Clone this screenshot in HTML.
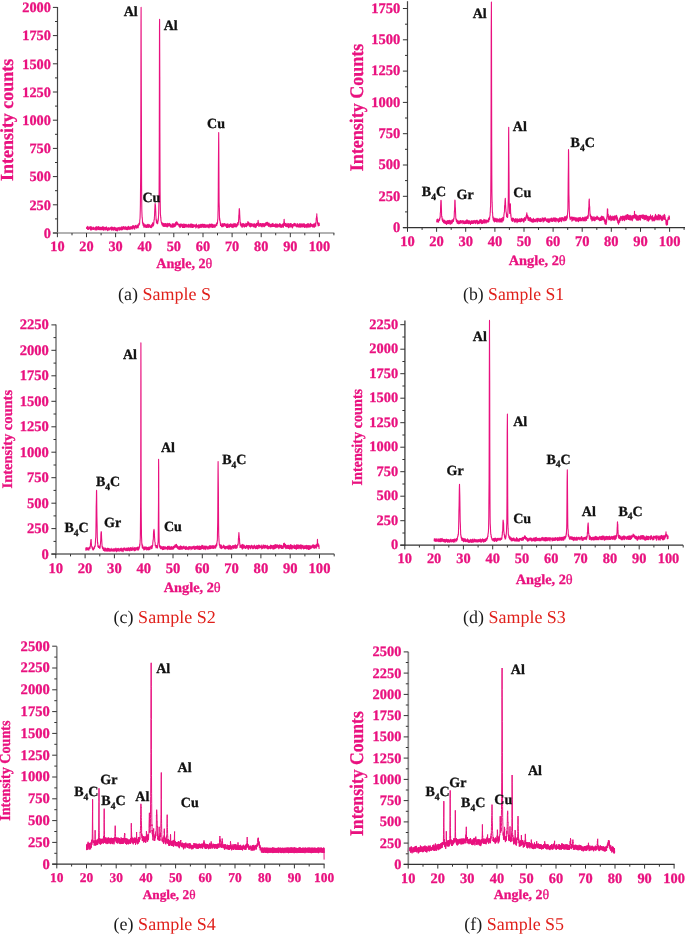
<!DOCTYPE html>
<html><head><meta charset="utf-8"><title>XRD patterns</title>
<style>
html,body{margin:0;padding:0;background:#fff}
svg{display:block;font-family:"Liberation Serif","Times New Roman",serif;text-rendering:geometricPrecision}
</style></head><body>
<svg width="685" height="935" viewBox="0 0 685 935">
<rect width="685" height="935" fill="#fff"/>
<polyline points="86.5,227.1 86.6,228.5 86.7,227.7 86.9,227.3 87.0,227.1 87.1,228.4 87.2,228.4 87.3,227.5 87.4,226.9 87.6,229.2 87.7,226.2 87.8,228.1 87.9,229.4 88.0,228.7 88.1,229.0 88.3,229.0 88.4,228.8 88.5,229.5 88.6,227.5 88.7,229.3 88.8,229.0 89.0,228.5 89.1,226.8 89.2,228.8 89.3,228.9 89.4,228.3 89.5,228.2 89.7,228.2 89.8,227.4 89.9,228.5 90.0,227.5 90.1,227.4 90.2,228.2 90.4,227.2 90.5,228.4 90.6,229.9 90.7,226.5 90.8,227.8 90.9,228.2 91.1,226.7 91.2,227.1 91.3,229.4 91.4,228.7 91.5,229.0 91.6,227.3 91.7,229.9 91.9,227.0 92.0,227.9 92.1,228.3 92.2,228.9 92.3,228.0 92.4,229.1 92.6,228.9 92.7,228.9 92.8,228.3 92.9,228.8 93.0,229.5 93.1,228.1 93.3,227.2 93.4,227.5 93.5,227.9 93.6,229.4 93.7,227.3 93.8,229.0 94.0,228.5 94.1,229.3 94.2,229.0 94.3,228.6 94.4,228.6 94.5,228.5 94.7,228.5 94.8,229.2 94.9,227.9 95.0,228.7 95.1,229.8 95.2,230.1 95.4,229.4 95.5,227.4 95.6,229.2 95.7,227.1 95.8,229.3 95.9,228.2 96.1,229.4 96.2,228.1 96.3,226.9 96.4,227.1 96.5,229.1 96.6,226.7 96.8,229.0 96.9,230.1 97.0,227.4 97.1,227.0 97.2,227.4 97.3,227.1 97.5,229.0 97.6,229.3 97.7,228.9 97.8,229.3 97.9,228.7 98.0,228.0 98.2,227.1 98.3,229.5 98.4,226.5 98.5,227.1 98.6,227.7 98.7,227.1 98.9,226.9 99.0,227.7 99.1,229.8 99.2,228.1 99.3,227.3 99.4,229.4 99.6,227.4 99.7,229.2 99.8,227.6 99.9,228.2 100.0,229.3 100.1,228.2 100.2,229.7 100.4,227.2 100.5,228.8 100.6,228.4 100.7,228.4 100.8,229.7 100.9,227.3 101.1,228.3 101.2,229.0 101.3,227.6 101.4,227.9 101.5,229.8 101.6,229.7 101.8,228.8 101.9,229.2 102.0,229.2 102.1,229.5 102.2,226.7 102.3,227.3 102.5,228.8 102.6,229.6 102.7,227.6 102.8,226.7 102.9,229.0 103.0,229.2 103.2,230.1 103.3,226.7 103.4,229.8 103.5,227.0 103.6,228.1 103.7,229.2 103.9,228.7 104.0,230.1 104.1,229.3 104.2,227.9 104.3,228.0 104.4,228.9 104.6,229.0 104.7,227.4 104.8,228.9 104.9,228.3 105.0,228.0 105.1,229.2 105.3,229.8 105.4,229.9 105.5,228.2 105.6,228.7 105.7,227.2 105.8,227.3 106.0,229.5 106.1,227.3 106.2,226.8 106.3,229.6 106.4,228.6 106.5,227.2 106.7,229.7 106.8,229.2 106.9,227.3 107.0,227.4 107.1,228.2 107.2,229.1 107.4,230.1 107.5,229.7 107.6,230.6 107.7,228.5 107.8,228.6 107.9,228.9 108.1,229.3 108.2,228.3 108.3,228.9 108.4,229.2 108.5,229.9 108.6,227.6 108.8,228.8 108.9,229.7 109.0,230.2 109.1,228.4 109.2,229.1 109.3,229.8 109.4,229.2 109.6,229.5 109.7,228.8 109.8,229.2 109.9,228.4 110.0,228.7 110.1,227.5 110.3,227.3 110.4,228.9 110.5,228.9 110.6,228.3 110.7,227.8 110.8,227.9 111.0,229.8 111.1,229.6 111.2,227.9 111.3,229.9 111.4,229.2 111.5,229.0 111.7,230.2 111.8,226.9 111.9,229.2 112.0,227.5 112.1,227.8 112.2,227.6 112.4,229.1 112.5,227.8 112.6,227.8 112.7,229.1 112.8,229.9 112.9,227.2 113.1,228.2 113.2,228.9 113.3,229.3 113.4,227.7 113.5,228.6 113.6,230.1 113.8,227.7 113.9,229.9 114.0,229.7 114.1,228.4 114.2,227.8 114.3,227.4 114.5,228.3 114.6,227.3 114.7,228.9 114.8,229.6 114.9,229.8 115.0,227.6 115.2,228.2 115.3,227.6 115.4,228.6 115.5,229.3 115.6,228.8 115.7,230.5 115.9,229.7 116.0,229.2 116.1,228.8 116.2,228.6 116.3,230.7 116.4,229.6 116.6,228.1 116.7,229.3 116.8,227.8 116.9,229.1 117.0,229.4 117.1,230.5 117.3,229.8 117.4,230.9 117.5,229.6 117.6,227.8 117.7,227.9 117.8,228.4 117.9,228.9 118.1,228.6 118.2,228.7 118.3,228.7 118.4,227.5 118.5,227.9 118.6,229.0 118.8,229.6 118.9,228.7 119.0,230.3 119.1,229.0 119.2,230.4 119.3,229.4 119.5,229.5 119.6,228.8 119.7,227.4 119.8,228.2 119.9,228.5 120.0,227.5 120.2,229.2 120.3,228.0 120.4,228.4 120.5,229.6 120.6,228.0 120.7,229.3 120.9,228.5 121.0,229.8 121.1,227.4 121.2,229.1 121.3,226.9 121.4,230.0 121.6,227.6 121.7,229.0 121.8,228.0 121.9,228.2 122.0,229.7 122.1,227.0 122.3,227.6 122.4,228.4 122.5,229.7 122.6,228.7 122.7,227.1 122.8,227.3 123.0,228.4 123.1,227.7 123.2,229.0 123.3,227.5 123.4,226.6 123.5,227.3 123.7,226.9 123.8,228.2 123.9,226.8 124.0,229.1 124.1,228.0 124.2,229.1 124.4,228.9 124.5,227.7 124.6,229.1 124.7,227.9 124.8,227.0 124.9,227.3 125.1,227.0 125.2,228.0 125.3,226.6 125.4,227.5 125.5,229.1 125.6,229.1 125.8,227.5 125.9,229.0 126.0,227.9 126.1,229.1 126.2,229.5 126.3,228.8 126.4,229.3 126.6,227.5 126.7,227.1 126.8,227.6 126.9,228.8 127.0,228.2 127.1,229.7 127.3,227.8 127.4,228.3 127.5,228.0 127.6,229.6 127.7,229.2 127.8,226.7 128.0,227.5 128.1,227.1 128.2,228.8 128.3,226.7 128.4,226.7 128.5,226.3 128.7,226.4 128.8,227.6 128.9,229.5 129.0,227.4 129.1,228.0 129.2,227.0 129.4,227.5 129.5,229.0 129.6,229.2 129.7,228.1 129.8,228.9 129.9,227.0 130.1,228.3 130.2,228.3 130.3,228.5 130.4,228.1 130.5,227.2 130.6,229.3 130.8,226.5 130.9,227.4 131.0,227.6 131.1,226.7 131.2,228.9 131.3,228.3 131.5,228.3 131.6,227.5 131.7,226.8 131.8,227.8 131.9,227.9 132.0,226.4 132.2,228.7 132.3,226.2 132.4,229.0 132.5,225.8 132.6,226.4 132.7,226.1 132.9,226.0 133.0,226.8 133.1,227.2 133.2,225.6 133.3,226.4 133.4,228.0 133.6,227.5 133.7,227.4 133.8,228.1 133.9,228.3 134.0,225.9 134.1,228.5 134.3,229.2 134.4,228.7 134.5,228.7 134.6,228.2 134.7,228.9 134.8,229.0 134.9,228.3 135.1,226.2 135.2,226.0 135.3,226.3 135.4,226.8 135.5,225.4 135.6,225.9 135.8,226.6 135.9,225.7 136.0,225.7 136.1,227.5 136.2,225.8 136.3,226.7 136.5,227.2 136.6,226.3 136.7,228.3 136.8,227.6 136.9,227.4 137.0,227.9 137.2,227.3 137.3,224.7 137.4,226.4 137.5,226.6 137.6,226.5 137.7,226.5 137.9,226.2 138.0,226.4 138.1,225.8 138.2,227.6 138.3,225.9 138.4,225.4 138.6,225.9 138.7,224.4 138.8,224.5 138.9,223.3 139.0,224.9 139.1,225.0 139.3,223.2 139.4,223.8 139.5,224.3 139.6,224.0 139.7,222.3 139.8,219.9 140.0,219.1 140.1,216.4 140.2,213.2 140.3,209.5 140.4,204.6 140.5,192.2 140.7,173.1 140.8,136.6 140.9,85.3 141.0,26.4 141.1,7.4 141.2,52.9 141.4,114.4 141.5,158.2 141.6,185.7 141.7,199.1 141.8,209.2 141.9,212.3 142.1,217.1 142.2,218.0 142.3,218.4 142.4,219.7 142.5,223.0 142.6,223.2 142.8,222.8 142.9,222.1 143.0,225.0 143.1,225.4 143.2,224.2 143.3,223.3 143.4,225.5 143.6,225.3 143.7,226.3 143.8,225.5 143.9,227.3 144.0,223.9 144.1,223.9 144.3,225.8 144.4,224.5 144.5,226.2 144.6,225.0 144.7,226.9 144.8,225.6 145.0,226.2 145.1,226.2 145.2,227.0 145.3,225.4 145.4,226.5 145.5,226.0 145.7,227.1 145.8,224.6 145.9,227.5 146.0,226.9 146.1,225.3 146.2,225.3 146.4,227.1 146.5,227.4 146.6,227.4 146.7,225.8 146.8,225.5 146.9,227.3 147.1,224.9 147.2,226.2 147.3,226.6 147.4,225.6 147.5,225.3 147.6,224.3 147.8,226.0 147.9,227.4 148.0,226.8 148.1,225.0 148.2,227.4 148.3,225.3 148.5,226.7 148.6,227.3 148.7,226.1 148.8,224.4 148.9,225.4 149.0,226.9 149.2,224.8 149.3,226.7 149.4,224.9 149.5,226.0 149.6,225.4 149.7,225.8 149.9,226.2 150.0,226.6 150.1,225.7 150.2,227.5 150.3,227.1 150.4,226.3 150.6,226.9 150.7,226.0 150.8,227.5 150.9,226.4 151.0,225.9 151.1,225.0 151.3,227.6 151.4,226.9 151.5,224.7 151.6,227.2 151.7,224.6 151.8,224.6 151.9,227.0 152.1,224.1 152.2,226.7 152.3,224.8 152.4,224.2 152.5,224.4 152.6,222.9 152.8,223.9 152.9,223.4 153.0,224.5 153.1,224.5 153.2,223.1 153.3,226.0 153.5,224.2 153.6,225.1 153.7,224.6 153.8,222.6 153.9,222.6 154.0,220.2 154.2,219.5 154.3,219.7 154.4,216.8 154.5,216.4 154.6,214.6 154.7,211.6 154.9,207.7 155.0,205.0 155.1,203.6 155.2,203.8 155.3,204.8 155.4,205.2 155.6,208.0 155.7,210.5 155.8,212.2 155.9,215.5 156.0,217.5 156.1,220.3 156.3,219.2 156.4,222.6 156.5,220.9 156.6,220.3 156.7,221.6 156.8,222.4 157.0,222.7 157.1,223.7 157.2,223.2 157.3,221.7 157.4,221.8 157.5,223.8 157.7,223.6 157.8,220.7 157.9,220.7 158.0,221.9 158.1,218.8 158.2,220.9 158.4,219.1 158.5,216.2 158.6,215.7 158.7,212.0 158.8,207.4 158.9,202.6 159.1,191.3 159.2,166.8 159.3,132.3 159.4,78.1 159.5,27.3 159.6,19.4 159.8,76.8 159.9,131.9 160.0,167.9 160.1,190.9 160.2,201.9 160.3,207.2 160.4,213.8 160.6,215.6 160.7,217.7 160.8,217.1 160.9,218.9 161.0,220.8 161.1,221.0 161.3,222.1 161.4,222.5 161.5,222.9 161.6,223.5 161.7,222.3 161.8,223.2 162.0,224.9 162.1,224.9 162.2,224.3 162.3,225.2 162.4,225.1 162.5,223.1 162.7,224.6 162.8,223.2 162.9,225.1 163.0,225.9 163.1,224.0 163.2,226.4 163.4,224.3 163.5,224.8 163.6,226.3 163.7,225.5 163.8,224.4 163.9,223.2 164.1,226.0 164.2,224.1 164.3,226.4 164.4,223.7 164.5,225.5 164.6,223.7 164.8,224.2 164.9,226.1 165.0,225.5 165.1,223.8 165.2,225.9 165.3,223.7 165.5,226.1 165.6,225.2 165.7,224.2 165.8,223.6 165.9,226.4 166.0,224.2 166.2,226.3 166.3,226.1 166.4,225.2 166.5,225.0 166.6,224.9 166.7,223.7 166.9,224.0 167.0,224.6 167.1,227.0 167.2,224.4 167.3,225.4 167.4,226.6 167.6,224.9 167.7,223.4 167.8,224.3 167.9,226.6 168.0,223.9 168.1,225.0 168.3,225.2 168.4,226.0 168.5,223.8 168.6,224.2 168.7,224.9 168.8,223.7 168.9,223.6 169.1,225.7 169.2,223.2 169.3,223.8 169.4,224.7 169.5,224.0 169.6,224.1 169.8,225.7 169.9,223.9 170.0,225.5 170.1,226.3 170.2,226.7 170.3,226.6 170.5,224.8 170.6,226.0 170.7,224.4 170.8,227.1 170.9,225.7 171.0,225.9 171.2,225.8 171.3,225.4 171.4,225.8 171.5,226.1 171.6,226.1 171.7,227.1 171.9,226.4 172.0,226.8 172.1,226.4 172.2,224.3 172.3,223.5 172.4,226.6 172.6,226.9 172.7,226.5 172.8,224.4 172.9,225.7 173.0,227.4 173.1,226.3 173.3,226.5 173.4,226.0 173.5,225.9 173.6,224.3 173.7,225.6 173.8,223.6 174.0,226.7 174.1,224.3 174.2,226.2 174.3,224.5 174.4,226.8 174.5,224.1 174.7,226.5 174.8,224.1 174.9,225.6 175.0,226.4 175.1,226.3 175.2,225.8 175.4,226.0 175.5,224.8 175.6,222.5 175.7,222.6 175.8,225.7 175.9,224.7 176.1,223.5 176.2,224.4 176.3,221.8 176.4,223.5 176.5,223.1 176.6,223.0 176.8,222.1 176.9,222.0 177.0,223.3 177.1,222.7 177.2,224.7 177.3,222.9 177.4,223.0 177.6,222.9 177.7,224.6 177.8,223.4 177.9,223.2 178.0,223.9 178.1,224.4 178.3,224.4 178.4,224.9 178.5,225.1 178.6,224.2 178.7,225.3 178.8,224.7 179.0,226.4 179.1,225.4 179.2,224.2 179.3,226.3 179.4,224.4 179.5,224.9 179.7,225.9 179.8,225.4 179.9,227.6 180.0,224.7 180.1,227.2 180.2,226.3 180.4,224.8 180.5,227.1 180.6,224.3 180.7,225.3 180.8,223.9 180.9,224.9 181.1,224.7 181.2,225.9 181.3,224.8 181.4,226.0 181.5,225.5 181.6,225.5 181.8,226.4 181.9,224.1 182.0,225.4 182.1,226.9 182.2,227.2 182.3,224.2 182.5,227.5 182.6,225.6 182.7,225.6 182.8,227.4 182.9,224.7 183.0,225.6 183.2,225.5 183.3,226.2 183.4,227.4 183.5,226.4 183.6,225.5 183.7,224.2 183.9,223.9 184.0,226.8 184.1,227.4 184.2,225.8 184.3,224.5 184.4,224.3 184.6,227.3 184.7,225.0 184.8,227.4 184.9,225.7 185.0,227.5 185.1,226.7 185.3,225.5 185.4,226.4 185.5,224.3 185.6,226.4 185.7,226.4 185.8,226.2 185.9,225.2 186.1,224.8 186.2,224.3 186.3,226.9 186.4,226.7 186.5,224.9 186.6,226.6 186.8,226.3 186.9,225.0 187.0,225.5 187.1,225.1 187.2,227.0 187.3,226.3 187.5,226.3 187.6,226.5 187.7,227.0 187.8,226.1 187.9,225.6 188.0,225.0 188.2,224.5 188.3,226.8 188.4,224.6 188.5,225.0 188.6,227.2 188.7,224.2 188.9,225.3 189.0,224.2 189.1,226.0 189.2,226.2 189.3,225.9 189.4,226.8 189.6,225.5 189.7,226.7 189.8,226.0 189.9,227.3 190.0,225.6 190.1,227.0 190.3,224.4 190.4,225.6 190.5,224.2 190.6,224.6 190.7,227.1 190.8,224.0 191.0,224.6 191.1,223.9 191.2,225.4 191.3,224.3 191.4,225.3 191.5,227.1 191.7,224.5 191.8,225.4 191.9,224.2 192.0,224.6 192.1,226.2 192.2,227.4 192.4,224.3 192.5,227.1 192.6,227.1 192.7,227.4 192.8,226.6 192.9,224.5 193.1,225.5 193.2,225.7 193.3,224.5 193.4,226.0 193.5,226.6 193.6,227.1 193.8,225.1 193.9,227.0 194.0,226.2 194.1,225.2 194.2,225.0 194.3,225.1 194.4,226.8 194.6,224.8 194.7,225.1 194.8,226.3 194.9,225.8 195.0,226.2 195.1,225.6 195.3,226.4 195.4,224.9 195.5,226.1 195.6,225.3 195.7,226.9 195.8,228.0 196.0,224.8 196.1,227.5 196.2,226.4 196.3,224.5 196.4,225.8 196.5,224.1 196.7,227.3 196.8,225.7 196.9,226.0 197.0,225.2 197.1,225.7 197.2,225.5 197.4,226.5 197.5,225.8 197.6,226.7 197.7,226.6 197.8,226.8 197.9,225.7 198.1,227.9 198.2,225.8 198.3,224.8 198.4,225.2 198.5,228.0 198.6,226.2 198.8,227.7 198.9,226.2 199.0,224.9 199.1,226.1 199.2,226.7 199.3,227.7 199.5,227.3 199.6,226.5 199.7,225.7 199.8,224.8 199.9,227.8 200.0,226.8 200.2,225.3 200.3,225.9 200.4,226.5 200.5,226.3 200.6,226.5 200.7,224.2 200.9,225.7 201.0,226.2 201.1,227.4 201.2,225.7 201.3,224.8 201.4,226.6 201.6,224.3 201.7,227.2 201.8,225.4 201.9,225.5 202.0,226.5 202.1,224.9 202.3,227.0 202.4,226.0 202.5,226.0 202.6,224.7 202.7,224.1 202.8,225.9 203.0,225.3 203.1,226.9 203.2,225.0 203.3,225.9 203.4,224.5 203.5,227.0 203.6,224.6 203.8,227.5 203.9,224.4 204.0,225.9 204.1,225.8 204.2,226.2 204.3,225.7 204.5,227.2 204.6,225.2 204.7,226.2 204.8,225.5 204.9,224.4 205.0,227.2 205.2,226.9 205.3,226.6 205.4,227.4 205.5,225.2 205.6,226.7 205.7,225.3 205.9,227.3 206.0,226.5 206.1,226.1 206.2,225.2 206.3,224.7 206.4,225.7 206.6,227.0 206.7,226.5 206.8,226.8 206.9,227.3 207.0,227.3 207.1,225.4 207.3,224.9 207.4,224.7 207.5,226.8 207.6,225.8 207.7,226.3 207.8,226.6 208.0,227.2 208.1,225.9 208.2,227.2 208.3,224.8 208.4,225.6 208.5,226.8 208.7,227.7 208.8,225.6 208.9,227.0 209.0,227.9 209.1,226.5 209.2,225.1 209.4,224.0 209.5,225.9 209.6,225.7 209.7,224.5 209.8,224.8 209.9,224.5 210.1,227.0 210.2,225.5 210.3,227.1 210.4,224.7 210.5,224.9 210.6,226.2 210.8,226.7 210.9,225.7 211.0,224.0 211.1,225.1 211.2,226.5 211.3,224.2 211.5,226.0 211.6,225.2 211.7,224.0 211.8,224.1 211.9,227.4 212.0,224.7 212.1,226.9 212.3,224.7 212.4,227.4 212.5,225.3 212.6,224.2 212.7,225.6 212.8,227.3 213.0,225.2 213.1,226.1 213.2,227.0 213.3,227.1 213.4,225.1 213.5,225.7 213.7,227.3 213.8,224.9 213.9,226.0 214.0,224.8 214.1,225.4 214.2,225.1 214.4,225.0 214.5,227.1 214.6,225.8 214.7,225.3 214.8,226.7 214.9,224.8 215.1,227.1 215.2,226.6 215.3,227.0 215.4,226.5 215.5,225.1 215.6,225.7 215.8,225.3 215.9,224.8 216.0,224.7 216.1,225.3 216.2,224.7 216.3,223.9 216.5,224.4 216.6,223.2 216.7,225.7 216.8,222.7 216.9,225.0 217.0,223.1 217.2,223.5 217.3,222.2 217.4,222.8 217.5,223.4 217.6,220.6 217.7,219.9 217.9,218.4 218.0,212.4 218.1,210.0 218.2,201.4 218.3,185.7 218.4,167.0 218.6,143.1 218.7,132.6 218.8,143.7 218.9,165.9 219.0,187.8 219.1,201.9 219.3,208.0 219.4,215.2 219.5,217.1 219.6,220.2 219.7,218.4 219.8,219.5 220.0,220.6 220.1,222.3 220.2,222.4 220.3,221.7 220.4,223.4 220.5,225.4 220.6,223.4 220.8,223.5 220.9,223.4 221.0,223.4 221.1,224.6 221.2,224.7 221.3,224.8 221.5,226.5 221.6,226.8 221.7,225.0 221.8,226.5 221.9,226.1 222.0,225.5 222.2,224.5 222.3,226.6 222.4,225.2 222.5,226.2 222.6,223.5 222.7,225.5 222.9,225.0 223.0,226.6 223.1,224.4 223.2,223.9 223.3,225.4 223.4,225.6 223.6,224.0 223.7,226.0 223.8,223.7 223.9,226.2 224.0,226.2 224.1,223.7 224.3,225.0 224.4,223.6 224.5,223.9 224.6,224.0 224.7,224.4 224.8,223.7 225.0,224.4 225.1,224.3 225.2,225.4 225.3,224.1 225.4,225.0 225.5,225.5 225.7,225.5 225.8,225.2 225.9,226.5 226.0,225.3 226.1,224.0 226.2,226.0 226.4,224.7 226.5,227.2 226.6,227.5 226.7,225.7 226.8,226.7 226.9,226.5 227.1,224.2 227.2,226.3 227.3,224.3 227.4,223.7 227.5,227.4 227.6,225.1 227.8,226.5 227.9,225.1 228.0,226.5 228.1,225.6 228.2,227.1 228.3,225.7 228.5,225.1 228.6,225.0 228.7,226.2 228.8,224.1 228.9,226.8 229.0,227.2 229.1,227.2 229.3,226.2 229.4,225.4 229.5,224.6 229.6,227.2 229.7,227.1 229.8,226.1 230.0,225.1 230.1,226.4 230.2,225.9 230.3,226.1 230.4,223.9 230.5,224.3 230.7,226.5 230.8,226.1 230.9,225.1 231.0,223.8 231.1,225.8 231.2,224.1 231.4,226.5 231.5,224.5 231.6,226.5 231.7,225.3 231.8,226.3 231.9,227.4 232.1,225.6 232.2,224.8 232.3,224.0 232.4,225.7 232.5,226.6 232.6,226.7 232.8,226.9 232.9,226.7 233.0,227.7 233.1,224.9 233.2,227.1 233.3,225.8 233.5,224.4 233.6,226.5 233.7,224.9 233.8,224.2 233.9,223.4 234.0,226.9 234.2,224.1 234.3,223.5 234.4,226.7 234.5,226.4 234.6,225.0 234.7,226.4 234.9,226.0 235.0,225.1 235.1,225.0 235.2,226.1 235.3,225.6 235.4,223.7 235.6,226.7 235.7,225.8 235.8,223.8 235.9,224.2 236.0,224.1 236.1,227.1 236.3,225.9 236.4,225.9 236.5,226.5 236.6,224.6 236.7,226.4 236.8,224.7 237.0,224.7 237.1,225.8 237.2,226.0 237.3,223.2 237.4,223.4 237.5,223.3 237.6,224.2 237.8,225.2 237.9,222.8 238.0,222.6 238.1,222.2 238.2,224.7 238.3,222.8 238.5,222.3 238.6,219.5 238.7,219.8 238.8,215.7 238.9,215.0 239.0,214.2 239.2,209.5 239.3,208.5 239.4,209.5 239.5,209.7 239.6,211.6 239.7,214.2 239.9,218.3 240.0,219.8 240.1,222.4 240.2,221.7 240.3,224.9 240.4,223.0 240.6,222.9 240.7,222.7 240.8,225.2 240.9,226.0 241.0,224.2 241.1,223.9 241.3,226.1 241.4,224.3 241.5,225.1 241.6,224.3 241.7,224.1 241.8,224.0 242.0,227.1 242.1,226.0 242.2,225.2 242.3,227.2 242.4,224.4 242.5,226.0 242.7,223.6 242.8,224.9 242.9,225.5 243.0,225.4 243.1,226.2 243.2,224.4 243.4,226.2 243.5,223.5 243.6,224.6 243.7,223.8 243.8,224.8 243.9,225.2 244.1,226.3 244.2,227.2 244.3,224.0 244.4,225.4 244.5,224.2 244.6,225.6 244.8,226.7 244.9,225.8 245.0,225.7 245.1,225.1 245.2,226.5 245.3,224.5 245.5,224.7 245.6,224.8 245.7,226.1 245.8,223.4 245.9,224.2 246.0,224.1 246.1,226.5 246.3,226.1 246.4,226.2 246.5,224.1 246.6,226.7 246.7,223.9 246.8,225.6 247.0,223.2 247.1,223.3 247.2,225.6 247.3,223.1 247.4,224.5 247.5,223.2 247.7,224.6 247.8,225.1 247.9,221.5 248.0,224.5 248.1,223.4 248.2,222.3 248.4,222.5 248.5,224.9 248.6,224.5 248.7,222.9 248.8,222.4 248.9,224.7 249.1,224.5 249.2,224.5 249.3,226.1 249.4,225.3 249.5,224.8 249.6,224.1 249.8,223.5 249.9,223.5 250.0,223.7 250.1,223.2 250.2,226.2 250.3,227.0 250.5,224.3 250.6,225.4 250.7,223.7 250.8,223.9 250.9,226.7 251.0,225.5 251.2,225.8 251.3,224.2 251.4,224.1 251.5,225.5 251.6,223.5 251.7,224.8 251.9,224.8 252.0,226.1 252.1,224.5 252.2,224.6 252.3,225.2 252.4,224.3 252.6,224.4 252.7,224.2 252.8,223.9 252.9,224.4 253.0,226.2 253.1,226.1 253.3,224.1 253.4,225.0 253.5,226.6 253.6,225.5 253.7,224.0 253.8,226.7 254.0,226.3 254.1,224.5 254.2,227.1 254.3,226.1 254.4,223.7 254.5,224.6 254.6,225.2 254.8,223.9 254.9,224.8 255.0,224.3 255.1,224.9 255.2,226.3 255.3,227.2 255.5,226.5 255.6,226.8 255.7,224.2 255.8,227.6 255.9,227.1 256.0,227.1 256.2,225.0 256.3,224.1 256.4,226.4 256.5,223.2 256.6,224.9 256.7,224.9 256.9,223.9 257.0,223.9 257.1,225.4 257.2,224.6 257.3,225.5 257.4,223.0 257.6,225.5 257.7,224.1 257.8,223.3 258.0,221.8 258.0,221.9 258.1,220.4 258.3,222.8 258.4,223.9 258.5,222.8 258.6,222.5 258.7,223.0 258.8,226.4 259.0,225.0 259.1,225.4 259.2,224.3 259.3,226.3 259.4,225.6 259.5,223.7 259.7,225.6 259.8,225.1 259.9,224.3 260.0,225.5 260.1,224.8 260.2,223.8 260.4,225.8 260.5,223.5 260.6,223.9 260.7,226.1 260.8,223.5 260.9,225.0 261.1,226.0 261.2,224.5 261.3,224.5 261.4,224.1 261.5,225.7 261.6,226.4 261.8,226.5 261.9,224.6 262.0,227.0 262.1,223.6 262.2,224.1 262.3,226.4 262.5,223.8 262.6,223.7 262.7,226.2 262.8,225.2 262.9,225.5 263.0,224.6 263.1,224.5 263.3,225.6 263.4,225.6 263.5,223.5 263.6,225.6 263.7,225.8 263.8,226.6 264.0,226.6 264.1,224.8 264.2,224.2 264.3,225.9 264.4,226.7 264.5,225.1 264.7,223.6 264.8,225.3 264.9,224.0 265.0,223.6 265.1,225.7 265.2,224.8 265.4,223.6 265.5,225.4 265.6,225.8 265.7,225.1 265.8,225.1 265.9,222.6 266.1,225.0 266.2,224.7 266.3,224.9 266.4,224.1 266.5,222.5 266.6,223.9 266.8,224.9 266.9,222.4 267.0,222.4 267.1,223.4 267.2,222.5 267.3,222.3 267.5,224.0 267.6,223.8 267.7,223.8 267.8,225.4 267.9,224.8 268.0,222.8 268.2,223.7 268.3,225.7 268.4,225.8 268.5,226.5 268.6,224.7 268.7,224.3 268.9,223.6 269.0,223.1 269.1,225.1 269.2,225.9 269.3,224.0 269.4,225.4 269.6,226.2 269.7,224.0 269.8,226.7 269.9,224.7 270.0,224.3 270.1,226.2 270.3,224.9 270.4,224.3 270.5,226.0 270.6,227.0 270.7,226.3 270.8,226.7 271.0,225.2 271.1,226.9 271.2,226.5 271.3,224.5 271.4,224.2 271.5,224.3 271.6,226.3 271.8,225.7 271.9,225.6 272.0,224.9 272.1,226.4 272.2,223.6 272.3,226.5 272.5,226.6 272.6,224.3 272.7,224.8 272.8,224.1 272.9,225.8 273.0,223.4 273.2,226.2 273.3,224.5 273.4,225.4 273.5,225.2 273.6,226.5 273.7,225.6 273.9,226.1 274.0,225.6 274.1,226.4 274.2,224.7 274.3,224.4 274.4,226.4 274.6,224.9 274.7,225.9 274.8,226.5 274.9,225.8 275.0,226.4 275.1,226.9 275.3,226.2 275.4,224.1 275.5,227.1 275.6,224.8 275.7,225.0 275.8,223.9 276.0,226.0 276.1,225.9 276.2,226.5 276.3,224.3 276.4,226.9 276.5,224.0 276.7,225.6 276.8,224.4 276.9,227.3 277.0,226.7 277.1,225.0 277.2,226.8 277.4,226.9 277.5,224.5 277.6,224.0 277.7,225.5 277.8,226.3 277.9,224.7 278.1,226.9 278.2,226.9 278.3,226.1 278.4,225.9 278.5,224.7 278.6,224.8 278.8,225.7 278.9,226.1 279.0,224.3 279.1,225.8 279.2,224.3 279.3,225.4 279.5,226.4 279.6,226.5 279.7,225.2 279.8,223.6 279.9,223.6 280.0,225.8 280.1,227.1 280.3,225.5 280.4,225.9 280.5,225.6 280.6,224.3 280.7,224.4 280.8,224.8 281.0,225.6 281.1,225.8 281.2,227.4 281.3,225.0 281.4,225.8 281.5,225.0 281.7,227.0 281.8,226.6 281.9,226.7 282.0,225.2 282.1,227.0 282.2,226.0 282.4,224.1 282.5,225.2 282.6,224.4 282.7,225.7 282.8,226.9 282.9,224.1 283.1,226.5 283.2,224.9 283.3,223.5 283.4,227.2 283.5,225.3 283.6,225.3 283.8,224.3 283.9,221.7 284.0,221.6 284.1,219.2 284.2,219.6 284.3,223.8 284.5,222.1 284.6,225.4 284.7,224.6 284.8,224.0 284.9,223.4 285.0,223.9 285.2,225.5 285.3,223.6 285.4,226.2 285.5,223.5 285.6,223.9 285.7,224.0 285.9,224.0 286.0,226.4 286.1,226.6 286.2,224.5 286.3,224.6 286.4,226.6 286.6,225.2 286.7,225.7 286.8,224.2 286.9,224.3 287.0,223.2 287.1,225.0 287.3,225.0 287.4,223.7 287.5,226.6 287.6,225.9 287.7,224.9 287.8,226.4 288.0,225.7 288.1,226.7 288.2,226.5 288.3,226.7 288.4,227.8 288.5,227.1 288.6,223.6 288.8,226.7 288.9,223.7 289.0,223.8 289.1,224.0 289.2,227.4 289.3,226.2 289.5,224.0 289.6,226.3 289.7,225.9 289.8,225.7 289.9,226.0 290.0,224.1 290.2,224.5 290.3,223.6 290.4,223.9 290.5,224.0 290.6,223.9 290.7,226.9 290.9,227.1 291.0,223.8 291.1,226.2 291.2,223.6 291.3,226.0 291.4,225.5 291.6,226.6 291.7,226.3 291.8,224.8 291.9,225.6 292.0,226.8 292.1,225.8 292.3,226.2 292.4,227.9 292.5,226.8 292.6,224.5 292.7,227.2 292.8,224.6 293.0,226.5 293.1,224.8 293.2,224.4 293.3,225.3 293.4,226.3 293.5,223.8 293.7,225.8 293.8,224.3 293.9,225.1 294.0,225.1 294.1,223.8 294.2,225.6 294.4,224.1 294.5,224.1 294.6,224.7 294.7,223.3 294.8,225.6 294.9,225.9 295.1,225.4 295.2,225.2 295.3,224.8 295.4,225.3 295.5,223.9 295.6,225.7 295.8,226.1 295.9,224.7 296.0,226.1 296.1,226.4 296.2,225.3 296.3,226.1 296.5,224.9 296.6,224.7 296.7,225.0 296.8,226.9 296.9,225.1 297.0,224.0 297.1,223.7 297.3,223.6 297.4,225.4 297.5,224.7 297.6,224.2 297.7,224.9 297.8,226.7 298.0,225.6 298.1,224.9 298.2,226.5 298.3,226.6 298.4,225.6 298.5,224.7 298.7,225.6 298.8,226.6 298.9,227.3 299.0,224.0 299.1,227.3 299.2,227.0 299.4,225.0 299.5,226.2 299.6,224.4 299.7,225.7 299.8,226.7 299.9,223.6 300.1,225.8 300.2,226.9 300.3,224.4 300.4,224.3 300.5,226.3 300.6,224.3 300.8,225.1 300.9,226.7 301.0,227.4 301.1,223.9 301.2,226.7 301.3,226.6 301.5,224.6 301.6,224.1 301.7,225.1 301.8,226.5 301.9,226.3 302.0,225.5 302.2,226.7 302.3,224.6 302.4,224.8 302.5,226.0 302.6,224.9 302.7,223.9 302.9,226.1 303.0,227.1 303.1,226.7 303.2,225.0 303.3,223.9 303.4,225.2 303.6,226.3 303.7,224.5 303.8,225.4 303.9,225.7 304.0,223.8 304.1,226.5 304.3,224.8 304.4,223.9 304.5,224.4 304.6,227.4 304.7,224.8 304.8,224.2 305.0,224.8 305.1,225.9 305.2,226.8 305.3,224.9 305.4,227.2 305.5,226.0 305.7,226.8 305.8,225.1 305.9,226.8 306.0,225.0 306.1,226.7 306.2,224.4 306.3,224.7 306.5,224.9 306.6,226.8 306.7,224.8 306.8,227.5 306.9,227.6 307.0,224.2 307.2,226.7 307.3,225.8 307.4,226.8 307.5,224.0 307.6,223.8 307.7,224.3 307.9,227.0 308.0,225.7 308.1,224.2 308.2,223.6 308.3,227.0 308.4,225.9 308.6,224.6 308.7,225.2 308.8,224.4 308.9,225.4 309.0,227.3 309.1,226.8 309.3,225.2 309.4,225.2 309.5,226.7 309.6,226.2 309.7,224.9 309.8,225.1 310.0,224.1 310.1,226.0 310.2,223.3 310.3,223.3 310.4,227.0 310.5,226.3 310.7,224.8 310.8,225.9 310.9,224.1 311.0,224.6 311.1,226.2 311.2,225.3 311.4,224.4 311.5,224.8 311.6,225.5 311.7,225.0 311.8,224.4 311.9,224.8 312.1,226.6 312.2,226.2 312.3,225.6 312.4,225.1 312.5,225.2 312.6,225.1 312.8,225.1 312.9,226.4 313.0,227.2 313.1,224.2 313.2,226.7 313.3,226.9 313.5,226.2 313.6,226.5 313.7,227.0 313.8,225.0 313.9,223.8 314.0,224.4 314.2,224.9 314.3,224.2 314.4,225.8 314.5,227.2 314.6,227.1 314.7,223.9 314.8,224.9 315.0,224.5 315.1,223.4 315.2,223.2 315.3,223.0 315.4,225.1 315.5,223.3 315.7,226.2 315.8,223.5 315.9,223.0 316.0,223.5 316.1,222.6 316.2,218.5 316.4,217.9 316.5,216.8 316.6,215.8 316.8,216.3 316.8,213.8 316.9,216.6 317.1,217.7 317.2,218.2 317.3,220.2 317.4,220.2 317.5,221.9 317.6,223.8 317.8,223.2 317.9,224.3 318.0,225.1 318.1,224.4 318.2,225.9 318.3,225.5 318.5,225.1 318.6,223.4 318.7,223.0 318.8,222.8 318.9,223.9 319.0,225.1 319.2,223.4 319.3,225.6 319.4,226.0" fill="none" stroke="#e9117f" stroke-width="1.1" stroke-linejoin="round"/>
<line x1="57.5" y1="7.0" x2="57.5" y2="233.8" stroke="#444" stroke-width="1.2"/>
<line x1="52.9" y1="233.0" x2="334.3" y2="233.0" stroke="#999" stroke-width="1.6"/>
<line x1="52.9" y1="233.0" x2="57.5" y2="233.0" stroke="#333" stroke-width="1"/>
<text x="50.9" y="237.7" font-size="14.3" fill="#e9117f" text-anchor="end" font-weight="bold" stroke="#e9117f" stroke-width="0.3">0</text>
<line x1="55.0" y1="218.9" x2="57.5" y2="218.9" stroke="#333" stroke-width="1"/>
<line x1="52.9" y1="204.8" x2="57.5" y2="204.8" stroke="#333" stroke-width="1"/>
<text x="50.9" y="209.5" font-size="14.3" fill="#e9117f" text-anchor="end" font-weight="bold" stroke="#e9117f" stroke-width="0.3">250</text>
<line x1="55.0" y1="190.7" x2="57.5" y2="190.7" stroke="#333" stroke-width="1"/>
<line x1="52.9" y1="176.6" x2="57.5" y2="176.6" stroke="#333" stroke-width="1"/>
<text x="50.9" y="181.3" font-size="14.3" fill="#e9117f" text-anchor="end" font-weight="bold" stroke="#e9117f" stroke-width="0.3">500</text>
<line x1="55.0" y1="162.5" x2="57.5" y2="162.5" stroke="#333" stroke-width="1"/>
<line x1="52.9" y1="148.4" x2="57.5" y2="148.4" stroke="#333" stroke-width="1"/>
<text x="50.9" y="153.1" font-size="14.3" fill="#e9117f" text-anchor="end" font-weight="bold" stroke="#e9117f" stroke-width="0.3">750</text>
<line x1="55.0" y1="134.3" x2="57.5" y2="134.3" stroke="#333" stroke-width="1"/>
<line x1="52.9" y1="120.2" x2="57.5" y2="120.2" stroke="#333" stroke-width="1"/>
<text x="50.9" y="124.9" font-size="14.3" fill="#e9117f" text-anchor="end" font-weight="bold" stroke="#e9117f" stroke-width="0.3">1000</text>
<line x1="55.0" y1="106.1" x2="57.5" y2="106.1" stroke="#333" stroke-width="1"/>
<line x1="52.9" y1="92.0" x2="57.5" y2="92.0" stroke="#333" stroke-width="1"/>
<text x="50.9" y="96.7" font-size="14.3" fill="#e9117f" text-anchor="end" font-weight="bold" stroke="#e9117f" stroke-width="0.3">1250</text>
<line x1="55.0" y1="77.9" x2="57.5" y2="77.9" stroke="#333" stroke-width="1"/>
<line x1="52.9" y1="63.8" x2="57.5" y2="63.8" stroke="#333" stroke-width="1"/>
<text x="50.9" y="68.5" font-size="14.3" fill="#e9117f" text-anchor="end" font-weight="bold" stroke="#e9117f" stroke-width="0.3">1500</text>
<line x1="55.0" y1="49.7" x2="57.5" y2="49.7" stroke="#333" stroke-width="1"/>
<line x1="52.9" y1="35.6" x2="57.5" y2="35.6" stroke="#333" stroke-width="1"/>
<text x="50.9" y="40.3" font-size="14.3" fill="#e9117f" text-anchor="end" font-weight="bold" stroke="#e9117f" stroke-width="0.3">1750</text>
<line x1="55.0" y1="21.5" x2="57.5" y2="21.5" stroke="#333" stroke-width="1"/>
<line x1="52.9" y1="7.4" x2="57.5" y2="7.4" stroke="#333" stroke-width="1"/>
<text x="50.9" y="12.1" font-size="14.3" fill="#e9117f" text-anchor="end" font-weight="bold" stroke="#e9117f" stroke-width="0.3">2000</text>
<line x1="57.4" y1="233.0" x2="57.4" y2="237.2" stroke="#333" stroke-width="1"/>
<text x="57.4" y="251.4" font-size="14.3" fill="#e9117f" text-anchor="middle" font-weight="bold" stroke="#e9117f" stroke-width="0.3">10</text>
<line x1="72.0" y1="233.0" x2="72.0" y2="235.3" stroke="#333" stroke-width="1"/>
<line x1="86.5" y1="233.0" x2="86.5" y2="237.2" stroke="#333" stroke-width="1"/>
<text x="86.5" y="251.4" font-size="14.3" fill="#e9117f" text-anchor="middle" font-weight="bold" stroke="#e9117f" stroke-width="0.3">20</text>
<line x1="101.1" y1="233.0" x2="101.1" y2="235.3" stroke="#333" stroke-width="1"/>
<line x1="115.6" y1="233.0" x2="115.6" y2="237.2" stroke="#333" stroke-width="1"/>
<text x="115.6" y="251.4" font-size="14.3" fill="#e9117f" text-anchor="middle" font-weight="bold" stroke="#e9117f" stroke-width="0.3">30</text>
<line x1="130.2" y1="233.0" x2="130.2" y2="235.3" stroke="#333" stroke-width="1"/>
<line x1="144.7" y1="233.0" x2="144.7" y2="237.2" stroke="#333" stroke-width="1"/>
<text x="144.7" y="251.4" font-size="14.3" fill="#e9117f" text-anchor="middle" font-weight="bold" stroke="#e9117f" stroke-width="0.3">40</text>
<line x1="159.3" y1="233.0" x2="159.3" y2="235.3" stroke="#333" stroke-width="1"/>
<line x1="173.8" y1="233.0" x2="173.8" y2="237.2" stroke="#333" stroke-width="1"/>
<text x="173.8" y="251.4" font-size="14.3" fill="#e9117f" text-anchor="middle" font-weight="bold" stroke="#e9117f" stroke-width="0.3">50</text>
<line x1="188.4" y1="233.0" x2="188.4" y2="235.3" stroke="#333" stroke-width="1"/>
<line x1="203.0" y1="233.0" x2="203.0" y2="237.2" stroke="#333" stroke-width="1"/>
<text x="203.0" y="251.4" font-size="14.3" fill="#e9117f" text-anchor="middle" font-weight="bold" stroke="#e9117f" stroke-width="0.3">60</text>
<line x1="217.5" y1="233.0" x2="217.5" y2="235.3" stroke="#333" stroke-width="1"/>
<line x1="232.1" y1="233.0" x2="232.1" y2="237.2" stroke="#333" stroke-width="1"/>
<text x="232.1" y="251.4" font-size="14.3" fill="#e9117f" text-anchor="middle" font-weight="bold" stroke="#e9117f" stroke-width="0.3">70</text>
<line x1="246.6" y1="233.0" x2="246.6" y2="235.3" stroke="#333" stroke-width="1"/>
<line x1="261.2" y1="233.0" x2="261.2" y2="237.2" stroke="#333" stroke-width="1"/>
<text x="261.2" y="251.4" font-size="14.3" fill="#e9117f" text-anchor="middle" font-weight="bold" stroke="#e9117f" stroke-width="0.3">80</text>
<line x1="275.7" y1="233.0" x2="275.7" y2="235.3" stroke="#333" stroke-width="1"/>
<line x1="290.3" y1="233.0" x2="290.3" y2="237.2" stroke="#333" stroke-width="1"/>
<text x="290.3" y="251.4" font-size="14.3" fill="#e9117f" text-anchor="middle" font-weight="bold" stroke="#e9117f" stroke-width="0.3">90</text>
<line x1="304.8" y1="233.0" x2="304.8" y2="235.3" stroke="#333" stroke-width="1"/>
<line x1="319.4" y1="233.0" x2="319.4" y2="237.2" stroke="#333" stroke-width="1"/>
<text x="319.4" y="251.4" font-size="14.3" fill="#e9117f" text-anchor="middle" font-weight="bold" stroke="#e9117f" stroke-width="0.3">100</text>
<line x1="333.9" y1="233.0" x2="333.9" y2="235.3" stroke="#333" stroke-width="1"/>
<text transform="translate(13.1,119.9) rotate(-90)" font-size="18.4" fill="#e9117f" stroke="#e9117f" stroke-width="0.3" font-weight="bold" text-anchor="middle" textLength="122.2" lengthAdjust="spacingAndGlyphs">Intensity counts</text>
<text x="184.3" y="267.7" font-size="14" fill="#e9117f" text-anchor="middle" font-weight="bold" stroke="#e9117f" stroke-width="0.3" textLength="56.2" lengthAdjust="spacingAndGlyphs">Angle, 2<tspan font-weight="normal">θ</tspan></text>
<text x="118.0" y="299.8" font-size="18" fill="#1a1a1a" textLength="93.0" lengthAdjust="spacingAndGlyphs">(a) <tspan fill="#e0201b">Sample S</tspan></text>
<text x="123.7" y="15.6" font-size="14" fill="#111" text-anchor="start" font-weight="bold" stroke="#111" stroke-width="0.3">Al</text>
<text x="163.7" y="30.4" font-size="14" fill="#111" text-anchor="start" font-weight="bold" stroke="#111" stroke-width="0.3">Al</text>
<text x="207.1" y="127.5" font-size="14" fill="#111" text-anchor="start" font-weight="bold" stroke="#111" stroke-width="0.3">Cu</text>
<text x="142.5" y="201.5" font-size="14" fill="#111" text-anchor="start" font-weight="bold" stroke="#111" stroke-width="0.3">Cu</text>
<polyline points="436.6,221.5 436.7,221.7 436.9,219.6 437.0,221.3 437.1,220.6 437.2,222.2 437.3,220.3 437.4,219.1 437.6,220.7 437.7,221.4 437.8,220.6 437.9,221.2 438.0,220.8 438.1,220.2 438.3,221.1 438.4,221.7 438.5,220.6 438.6,222.2 438.7,219.7 438.8,219.3 438.9,221.0 439.1,219.1 439.2,219.5 439.3,219.5 439.4,220.3 439.5,218.4 439.6,220.5 439.8,218.2 439.9,218.4 440.0,216.7 440.1,218.1 440.2,216.6 440.3,212.7 440.5,212.6 440.6,207.0 440.7,204.7 440.8,202.2 440.9,200.4 441.0,200.2 441.2,200.9 441.3,204.4 441.4,208.0 441.5,210.7 441.6,215.6 441.7,217.0 441.9,216.2 442.0,217.0 442.1,219.7 442.2,219.5 442.3,218.5 442.4,220.7 442.6,219.3 442.7,221.4 442.8,219.1 442.9,219.0 443.0,221.6 443.1,221.0 443.3,222.1 443.4,222.3 443.5,221.5 443.6,222.8 443.7,222.3 443.8,220.6 444.0,220.7 444.1,220.0 444.2,221.0 444.3,221.3 444.4,222.5 444.5,220.4 444.7,222.9 444.8,221.9 444.9,223.4 445.0,221.5 445.1,222.3 445.2,223.0 445.4,223.4 445.5,223.2 445.6,221.4 445.7,221.1 445.8,220.8 445.9,223.3 446.1,221.7 446.2,221.6 446.3,223.5 446.4,224.5 446.5,224.1 446.6,221.6 446.8,223.2 446.9,223.1 447.0,223.0 447.1,223.0 447.2,221.8 447.3,220.5 447.5,220.8 447.6,221.8 447.7,223.6 447.8,223.4 447.9,223.5 448.0,222.0 448.2,220.8 448.3,220.7 448.4,222.9 448.5,223.4 448.6,222.7 448.7,223.6 448.9,222.4 449.0,223.5 449.1,221.9 449.2,222.4 449.3,220.4 449.4,222.7 449.5,221.3 449.7,221.0 449.8,222.2 449.9,223.3 450.0,220.6 450.1,221.6 450.2,224.4 450.4,221.9 450.5,222.9 450.6,221.7 450.7,223.2 450.8,220.9 450.9,221.3 451.1,222.6 451.2,223.0 451.3,222.5 451.4,221.5 451.5,220.6 451.6,223.4 451.8,223.7 451.9,221.9 452.0,220.1 452.1,219.8 452.2,222.4 452.3,222.7 452.5,222.1 452.6,222.0 452.7,220.0 452.8,220.4 452.9,220.3 453.0,221.7 453.2,219.9 453.3,221.2 453.4,220.0 453.5,221.5 453.6,219.8 453.7,218.4 453.9,219.2 454.0,218.6 454.1,216.8 454.2,216.8 454.3,213.5 454.4,211.4 454.6,209.8 454.7,205.5 454.8,201.3 454.9,200.1 455.0,200.1 455.1,200.9 455.3,207.4 455.4,207.7 455.5,210.7 455.6,213.5 455.7,215.3 455.8,218.5 456.0,219.6 456.1,218.5 456.2,220.1 456.3,220.9 456.4,221.7 456.5,219.3 456.7,221.1 456.8,220.0 456.9,221.5 457.0,221.2 457.1,221.9 457.2,223.3 457.4,222.5 457.5,220.3 457.6,220.7 457.7,220.7 457.8,222.9 457.9,222.2 458.1,223.8 458.2,221.7 458.3,221.6 458.4,222.2 458.5,223.0 458.6,221.5 458.8,220.8 458.9,223.7 459.0,221.5 459.1,221.1 459.2,221.1 459.3,223.8 459.5,222.3 459.6,221.2 459.7,222.9 459.8,223.5 459.9,223.3 460.0,220.7 460.1,222.3 460.3,222.1 460.4,222.0 460.5,223.0 460.6,220.6 460.7,220.5 460.8,220.8 461.0,222.7 461.1,223.1 461.2,221.2 461.3,221.0 461.4,222.9 461.5,222.2 461.7,221.1 461.8,220.9 461.9,221.9 462.0,221.3 462.1,221.8 462.2,221.2 462.4,220.8 462.5,221.9 462.6,222.5 462.7,220.5 462.8,222.6 462.9,223.7 463.1,220.7 463.2,222.8 463.3,222.6 463.4,220.7 463.5,222.3 463.6,221.0 463.8,222.6 463.9,223.5 464.0,222.5 464.1,223.1 464.2,223.0 464.3,222.9 464.5,222.3 464.6,221.5 464.7,222.3 464.8,223.7 464.9,223.1 465.0,220.7 465.2,223.4 465.3,223.1 465.4,221.5 465.5,220.7 465.6,222.9 465.7,223.4 465.9,221.3 466.0,222.5 466.1,220.9 466.2,222.2 466.3,222.4 466.4,223.5 466.6,220.3 466.7,221.1 466.8,219.9 466.9,220.3 467.0,223.3 467.1,222.7 467.3,222.8 467.4,220.0 467.5,221.4 467.6,222.4 467.7,221.6 467.8,221.8 468.0,223.5 468.1,220.6 468.2,221.3 468.3,223.1 468.4,222.3 468.5,223.6 468.7,223.1 468.8,222.3 468.9,221.4 469.0,220.8 469.1,222.1 469.2,223.4 469.4,220.9 469.5,222.6 469.6,223.0 469.7,222.8 469.8,221.1 469.9,222.1 470.0,223.1 470.2,223.1 470.3,222.1 470.4,224.4 470.5,222.7 470.6,222.3 470.7,221.7 470.9,221.7 471.0,222.7 471.1,220.9 471.2,220.7 471.3,223.1 471.4,223.5 471.6,223.4 471.7,220.8 471.8,221.9 471.9,222.7 472.0,221.1 472.1,222.2 472.3,221.7 472.4,222.0 472.5,221.3 472.6,223.5 472.7,220.7 472.8,223.3 473.0,222.8 473.1,221.9 473.2,220.9 473.3,221.3 473.4,222.1 473.5,222.8 473.7,223.4 473.8,222.3 473.9,221.8 474.0,222.5 474.1,220.4 474.2,222.5 474.4,220.5 474.5,221.5 474.6,220.9 474.7,222.7 474.8,222.6 474.9,222.3 475.1,221.0 475.2,222.2 475.3,220.8 475.4,223.6 475.5,223.3 475.6,221.7 475.8,221.8 475.9,220.5 476.0,221.1 476.1,220.8 476.2,220.4 476.3,220.3 476.5,220.4 476.6,221.1 476.7,222.7 476.8,223.1 476.9,223.0 477.0,221.2 477.2,220.2 477.3,222.2 477.4,223.1 477.5,223.0 477.6,223.9 477.7,220.7 477.9,221.5 478.0,222.6 478.1,222.2 478.2,222.1 478.3,221.3 478.4,221.5 478.6,222.3 478.7,223.4 478.8,221.7 478.9,221.3 479.0,223.6 479.1,222.3 479.3,222.2 479.4,223.1 479.5,222.1 479.6,220.0 479.7,220.3 479.8,221.3 480.0,221.9 480.1,219.6 480.2,220.3 480.3,222.1 480.4,222.6 480.5,220.7 480.6,219.7 480.8,220.8 480.9,221.5 481.0,221.4 481.1,221.0 481.2,223.1 481.3,219.8 481.5,220.3 481.6,220.2 481.7,223.6 481.8,220.4 481.9,221.8 482.0,221.1 482.2,223.2 482.3,223.5 482.4,221.9 482.5,221.3 482.6,223.4 482.7,222.4 482.9,220.5 483.0,221.9 483.1,222.0 483.2,221.3 483.3,221.7 483.4,221.0 483.6,221.2 483.7,222.9 483.8,221.9 483.9,219.3 484.0,220.7 484.1,221.7 484.3,221.7 484.4,222.8 484.5,220.7 484.6,220.7 484.7,223.1 484.8,219.9 485.0,221.0 485.1,222.5 485.2,220.9 485.3,222.1 485.4,220.8 485.5,221.9 485.7,220.1 485.8,221.6 485.9,220.3 486.0,220.0 486.1,223.3 486.2,222.2 486.4,220.3 486.5,221.1 486.6,220.5 486.7,220.3 486.8,222.1 486.9,220.6 487.1,221.2 487.2,220.5 487.3,221.7 487.4,221.3 487.5,220.5 487.6,220.2 487.8,220.7 487.9,221.3 488.0,222.3 488.1,220.2 488.2,219.7 488.3,220.9 488.5,221.3 488.6,218.5 488.7,220.3 488.8,221.6 488.9,219.7 489.0,220.2 489.2,219.5 489.3,217.2 489.4,218.3 489.5,218.2 489.6,219.4 489.7,217.5 489.9,215.7 490.0,216.0 490.1,214.7 490.2,211.8 490.3,212.6 490.4,208.3 490.6,206.4 490.7,199.1 490.8,191.0 490.9,174.6 491.0,143.2 491.1,95.0 491.2,33.1 491.4,2.0 491.5,32.7 491.6,92.8 491.7,144.6 491.8,174.7 491.9,192.0 492.1,202.4 492.2,204.3 492.3,209.4 492.4,212.8 492.5,211.9 492.6,213.1 492.8,217.8 492.9,218.0 493.0,216.3 493.1,217.7 493.2,219.9 493.3,217.3 493.5,220.2 493.6,218.5 493.7,221.0 493.8,220.0 493.9,220.5 494.0,219.4 494.2,219.7 494.3,219.2 494.4,221.9 494.5,221.1 494.6,219.5 494.7,218.0 494.9,218.8 495.0,220.2 495.1,220.6 495.2,219.7 495.3,219.6 495.4,219.4 495.6,221.4 495.7,219.7 495.8,220.3 495.9,221.1 496.0,218.4 496.1,221.6 496.3,220.6 496.4,219.5 496.5,220.4 496.6,219.0 496.7,219.0 496.8,220.4 497.0,221.3 497.1,222.3 497.2,221.0 497.3,219.9 497.4,218.8 497.5,220.1 497.7,219.1 497.8,220.0 497.9,220.7 498.0,220.6 498.1,221.2 498.2,220.5 498.4,219.3 498.5,219.8 498.6,220.0 498.7,219.4 498.8,220.5 498.9,221.6 499.1,222.3 499.2,221.7 499.3,220.6 499.4,219.6 499.5,221.2 499.6,221.2 499.8,218.3 499.9,218.4 500.0,221.3 500.1,220.6 500.2,220.4 500.3,219.5 500.5,222.0 500.6,219.3 500.7,221.8 500.8,221.2 500.9,221.3 501.0,220.0 501.1,220.4 501.3,220.4 501.4,218.2 501.5,221.6 501.6,219.9 501.7,220.2 501.8,222.0 502.0,222.2 502.1,219.9 502.2,221.5 502.3,219.8 502.4,219.4 502.5,218.5 502.7,218.5 502.8,217.3 502.9,217.6 503.0,220.8 503.1,220.9 503.2,218.9 503.4,217.9 503.5,217.4 503.6,219.9 503.7,218.0 503.8,218.3 503.9,215.1 504.1,213.8 504.2,212.6 504.3,212.6 504.4,211.9 504.5,210.7 504.6,205.6 504.8,206.8 504.9,203.6 505.0,202.0 505.1,199.8 505.2,199.6 505.3,198.2 505.5,201.7 505.6,205.4 505.7,206.9 505.8,208.8 505.9,209.3 506.0,212.1 506.2,211.9 506.3,213.8 506.4,212.9 506.5,216.5 506.6,216.0 506.7,214.7 506.9,216.3 507.0,215.5 507.1,216.1 507.2,217.5 507.3,215.4 507.4,214.3 507.6,217.5 507.7,216.6 507.8,213.5 507.9,213.3 508.0,209.2 508.1,205.8 508.3,198.3 508.4,181.1 508.5,159.7 508.6,136.3 508.7,127.3 508.8,145.9 509.0,172.3 509.1,188.2 509.2,201.0 509.3,206.8 509.4,209.3 509.5,211.1 509.7,213.5 509.8,213.2 509.9,211.8 510.0,207.8 510.1,206.3 510.3,203.8 510.4,203.8 510.5,208.4 510.6,212.1 510.7,213.2 510.8,215.9 510.9,214.4 511.1,217.6 511.2,217.8 511.3,217.9 511.4,220.0 511.5,218.6 511.6,220.3 511.7,220.4 511.9,219.9 512.0,220.4 512.1,220.9 512.2,219.0 512.3,221.5 512.4,218.1 512.6,220.3 512.7,218.5 512.8,220.3 512.9,218.3 513.0,221.0 513.1,219.4 513.3,218.3 513.4,219.2 513.5,218.5 513.6,218.6 513.7,219.3 513.8,220.0 514.0,219.2 514.1,219.1 514.2,219.2 514.3,221.8 514.4,222.1 514.5,221.7 514.7,220.7 514.8,220.5 514.9,219.4 515.0,219.9 515.1,219.3 515.2,221.3 515.4,221.6 515.5,221.9 515.6,219.6 515.7,218.6 515.8,219.0 515.9,220.4 516.1,218.8 516.2,220.4 516.3,221.2 516.4,219.2 516.5,219.7 516.6,219.7 516.8,219.2 516.9,221.1 517.0,222.6 517.1,220.5 517.2,222.4 517.3,221.6 517.5,218.7 517.6,220.0 517.7,221.6 517.8,219.9 517.9,221.0 518.0,219.7 518.2,219.7 518.3,219.6 518.4,221.6 518.5,220.8 518.6,220.5 518.7,219.2 518.9,220.6 519.0,221.4 519.1,218.9 519.2,221.5 519.3,221.1 519.4,220.9 519.6,220.9 519.7,220.5 519.8,218.9 519.9,218.8 520.0,220.0 520.1,219.5 520.3,222.0 520.4,220.6 520.5,221.5 520.6,219.9 520.7,221.5 520.8,221.0 521.0,219.7 521.1,219.3 521.2,218.2 521.3,219.8 521.4,221.1 521.5,219.9 521.7,221.5 521.8,218.8 521.9,221.1 522.0,221.3 522.1,219.3 522.2,219.3 522.3,220.9 522.5,220.2 522.6,219.0 522.7,220.5 522.8,220.1 522.9,219.3 523.0,218.9 523.2,219.2 523.3,220.4 523.4,220.9 523.5,221.6 523.6,219.8 523.7,222.2 523.9,221.5 524.0,218.5 524.1,221.7 524.2,218.3 524.3,220.5 524.4,220.3 524.6,217.6 524.7,219.3 524.8,219.3 524.9,219.1 525.0,219.4 525.1,219.9 525.3,220.0 525.4,219.8 525.5,220.4 525.6,218.3 525.7,219.9 525.8,216.9 526.0,218.5 526.1,218.6 526.2,216.7 526.3,215.2 526.4,217.3 526.5,214.4 526.7,216.2 526.8,212.8 526.9,213.9 527.0,215.6 527.1,214.6 527.2,215.9 527.4,216.9 527.5,218.3 527.6,218.2 527.7,216.4 527.8,215.9 527.9,217.2 528.1,220.3 528.2,219.9 528.3,219.3 528.4,217.1 528.5,217.7 528.6,220.5 528.8,219.2 528.9,217.8 529.0,219.3 529.1,217.7 529.2,220.1 529.3,219.8 529.5,220.1 529.6,217.8 529.7,220.6 529.8,220.8 529.9,220.9 530.0,221.2 530.2,221.3 530.3,220.1 530.4,217.9 530.5,217.6 530.6,220.9 530.7,220.4 530.9,218.9 531.0,220.5 531.1,220.0 531.2,219.3 531.3,220.8 531.4,221.6 531.6,220.3 531.7,218.7 531.8,219.7 531.9,221.7 532.0,221.1 532.1,219.7 532.3,222.3 532.4,219.6 532.5,220.5 532.6,219.7 532.7,220.8 532.8,220.1 532.9,219.6 533.1,221.6 533.2,219.8 533.3,218.9 533.4,218.2 533.5,221.5 533.6,222.1 533.8,220.8 533.9,219.9 534.0,220.9 534.1,220.3 534.2,220.4 534.3,220.9 534.5,219.4 534.6,221.7 534.7,220.3 534.8,220.3 534.9,220.6 535.0,221.3 535.2,220.3 535.3,220.4 535.4,219.7 535.5,221.7 535.6,220.7 535.7,219.0 535.9,220.4 536.0,220.3 536.1,219.4 536.2,219.1 536.3,219.2 536.4,220.3 536.6,220.7 536.7,219.7 536.8,220.4 536.9,221.6 537.0,218.2 537.1,218.3 537.3,221.9 537.4,221.0 537.5,219.8 537.6,221.9 537.7,220.8 537.8,219.1 538.0,220.2 538.1,219.4 538.2,218.2 538.3,219.4 538.4,220.2 538.5,219.7 538.7,219.6 538.8,220.7 538.9,219.4 539.0,218.9 539.1,218.9 539.2,221.4 539.4,220.5 539.5,220.4 539.6,220.4 539.7,219.1 539.8,221.1 539.9,218.8 540.1,221.4 540.2,220.9 540.3,221.6 540.4,221.0 540.5,218.6 540.6,219.5 540.8,218.9 540.9,220.7 541.0,221.5 541.1,219.9 541.2,221.1 541.3,219.6 541.5,219.1 541.6,221.2 541.7,219.9 541.8,219.0 541.9,219.3 542.0,219.7 542.2,217.9 542.3,218.8 542.4,219.7 542.5,218.7 542.6,220.1 542.7,220.4 542.8,218.3 543.0,218.8 543.1,221.9 543.2,218.7 543.3,221.8 543.4,218.9 543.5,220.3 543.7,218.8 543.8,221.0 543.9,220.3 544.0,219.3 544.1,217.7 544.2,220.0 544.4,220.6 544.5,220.9 544.6,219.4 544.7,218.2 544.8,219.4 544.9,218.9 545.1,219.3 545.2,218.2 545.3,220.3 545.4,220.3 545.5,217.8 545.6,219.4 545.8,219.3 545.9,220.3 546.0,219.2 546.1,219.9 546.2,220.7 546.3,221.2 546.5,221.1 546.6,220.4 546.7,220.5 546.8,219.9 546.9,218.8 547.0,221.5 547.2,220.0 547.3,221.7 547.4,218.7 547.5,220.2 547.6,221.6 547.7,220.4 547.9,221.8 548.0,219.8 548.1,220.3 548.2,221.9 548.3,222.3 548.4,222.4 548.6,219.0 548.7,218.7 548.8,219.4 548.9,220.2 549.0,219.5 549.1,219.1 549.3,221.7 549.4,221.9 549.5,219.1 549.6,222.1 549.7,222.2 549.8,218.8 550.0,219.6 550.1,220.1 550.2,219.2 550.3,219.1 550.4,220.6 550.5,220.3 550.7,219.4 550.8,219.1 550.9,220.2 551.0,218.4 551.1,221.0 551.2,221.4 551.4,219.1 551.5,220.0 551.6,219.7 551.7,218.0 551.8,219.7 551.9,219.6 552.1,220.9 552.2,219.1 552.3,220.1 552.4,221.4 552.5,219.1 552.6,219.4 552.8,220.9 552.9,219.1 553.0,218.5 553.1,218.1 553.2,219.6 553.3,217.9 553.4,219.4 553.6,218.1 553.7,219.2 553.8,220.9 553.9,221.0 554.0,219.4 554.1,220.1 554.3,221.5 554.4,219.6 554.5,218.9 554.6,221.1 554.7,217.9 554.8,219.4 555.0,218.4 555.1,218.1 555.2,221.0 555.3,218.0 555.4,218.1 555.5,220.2 555.7,221.3 555.8,219.6 555.9,221.7 556.0,221.8 556.1,218.5 556.2,219.0 556.4,218.6 556.5,218.8 556.6,219.4 556.7,218.7 556.8,218.3 556.9,218.5 557.1,219.3 557.2,220.8 557.3,219.4 557.4,220.1 557.5,219.6 557.6,219.8 557.8,221.0 557.9,219.0 558.0,221.4 558.1,219.5 558.2,218.8 558.3,220.9 558.5,220.9 558.6,222.2 558.7,220.3 558.8,218.9 558.9,220.4 559.0,219.2 559.2,221.1 559.3,220.4 559.4,220.1 559.5,217.9 559.6,221.4 559.7,219.7 559.9,218.0 560.0,219.7 560.1,218.4 560.2,217.9 560.3,220.7 560.4,220.1 560.6,218.8 560.7,220.5 560.8,220.9 560.9,221.0 561.0,220.4 561.1,218.1 561.3,220.4 561.4,219.8 561.5,217.9 561.6,221.7 561.7,220.3 561.8,217.7 562.0,218.4 562.1,218.2 562.2,218.7 562.3,217.6 562.4,219.8 562.5,217.7 562.7,219.8 562.8,218.7 562.9,218.2 563.0,220.3 563.1,218.4 563.2,218.6 563.4,218.2 563.5,219.1 563.6,220.5 563.7,219.1 563.8,219.5 563.9,218.5 564.0,221.1 564.2,218.2 564.3,217.1 564.4,217.7 564.5,219.1 564.6,218.4 564.7,216.8 564.9,219.1 565.0,220.2 565.1,218.6 565.2,216.6 565.3,218.6 565.4,219.3 565.6,220.6 565.7,217.1 565.8,217.0 565.9,219.9 566.0,220.3 566.1,217.2 566.3,218.6 566.4,219.6 566.5,219.8 566.6,219.9 566.7,215.9 566.8,216.8 567.0,218.5 567.1,217.2 567.2,215.7 567.3,218.1 567.4,214.7 567.5,214.5 567.7,211.7 567.8,210.1 567.9,208.7 568.0,200.4 568.1,192.1 568.2,179.3 568.4,164.8 568.5,149.5 568.6,151.8 568.7,162.0 568.8,179.1 568.9,194.1 569.1,201.2 569.2,208.3 569.3,211.1 569.4,212.3 569.5,213.3 569.6,216.9 569.8,216.9 569.9,217.6 570.0,218.8 570.1,217.9 570.2,219.8 570.3,218.7 570.5,219.0 570.6,218.4 570.7,217.0 570.8,218.5 570.9,218.5 571.0,218.1 571.2,217.0 571.3,218.3 571.4,218.4 571.5,217.1 571.6,217.9 571.7,217.7 571.9,221.2 572.0,221.0 572.1,217.9 572.2,220.6 572.3,219.5 572.4,217.8 572.6,218.4 572.7,217.0 572.8,219.6 572.9,219.5 573.0,218.9 573.1,220.1 573.3,219.0 573.4,218.6 573.5,219.4 573.6,219.1 573.7,218.9 573.8,217.3 573.9,217.9 574.1,220.0 574.2,217.2 574.3,217.2 574.4,218.0 574.5,218.2 574.6,219.9 574.8,219.0 574.9,218.3 575.0,219.0 575.1,220.1 575.2,220.3 575.3,220.0 575.5,221.1 575.6,218.2 575.7,217.6 575.8,217.9 575.9,220.0 576.0,220.6 576.2,220.3 576.3,218.2 576.4,218.8 576.5,217.9 576.6,218.1 576.7,221.3 576.9,218.5 577.0,220.1 577.1,218.6 577.2,220.9 577.3,218.9 577.4,218.6 577.6,218.6 577.7,221.0 577.8,219.0 577.9,217.8 578.0,218.8 578.1,220.8 578.3,220.5 578.4,220.3 578.5,221.7 578.6,221.1 578.7,219.4 578.8,220.6 579.0,217.5 579.1,220.7 579.2,217.8 579.3,220.2 579.4,219.2 579.5,220.7 579.7,217.8 579.8,219.7 579.9,219.8 580.0,218.0 580.1,217.2 580.2,217.4 580.4,220.7 580.5,217.7 580.6,220.0 580.7,219.7 580.8,219.9 580.9,219.7 581.1,218.3 581.2,219.0 581.3,220.1 581.4,220.8 581.5,220.1 581.6,219.0 581.8,219.7 581.9,219.7 582.0,219.3 582.1,219.1 582.2,219.5 582.3,217.8 582.5,219.7 582.6,217.3 582.7,219.2 582.8,220.4 582.9,221.0 583.0,217.6 583.2,219.3 583.3,220.8 583.4,220.1 583.5,217.9 583.6,218.1 583.7,218.2 583.9,220.4 584.0,218.7 584.1,220.6 584.2,220.3 584.3,217.9 584.4,218.1 584.5,218.0 584.7,220.1 584.8,217.0 584.9,219.3 585.0,220.9 585.1,217.7 585.2,221.0 585.4,220.3 585.5,219.5 585.6,217.0 585.7,219.4 585.8,219.2 585.9,218.5 586.1,219.5 586.2,216.9 586.3,218.3 586.4,219.8 586.5,218.7 586.6,220.4 586.8,217.4 586.9,218.7 587.0,217.7 587.1,217.3 587.2,218.4 587.3,216.3 587.5,217.4 587.6,218.0 587.7,216.8 587.8,215.3 587.9,216.4 588.0,218.4 588.2,217.7 588.3,215.8 588.4,214.2 588.5,211.5 588.6,209.7 588.7,207.8 588.9,207.3 589.0,200.7 589.1,200.7 589.2,199.4 589.3,199.0 589.4,204.3 589.6,206.8 589.7,206.5 589.8,210.3 589.9,211.8 590.0,215.3 590.1,216.2 590.3,214.0 590.4,216.6 590.5,215.5 590.6,216.9 590.7,215.6 590.8,218.7 591.0,216.5 591.1,219.2 591.2,218.6 591.3,218.7 591.4,219.3 591.5,216.4 591.7,218.4 591.8,219.9 591.9,221.0 592.0,217.3 592.1,217.7 592.2,217.4 592.4,218.3 592.5,220.4 592.6,220.0 592.7,219.2 592.8,217.0 592.9,218.9 593.1,216.5 593.2,220.2 593.3,219.7 593.4,219.0 593.5,219.0 593.6,217.5 593.8,218.1 593.9,219.9 594.0,218.5 594.1,219.8 594.2,220.7 594.3,218.0 594.5,219.5 594.6,218.9 594.7,220.7 594.8,216.8 594.9,219.2 595.0,220.8 595.1,219.5 595.3,220.2 595.4,218.0 595.5,217.9 595.6,218.7 595.7,217.7 595.8,218.6 596.0,218.0 596.1,217.6 596.2,218.5 596.3,218.4 596.4,218.3 596.5,218.9 596.7,219.5 596.8,216.3 596.9,217.0 597.0,216.0 597.1,217.8 597.2,217.2 597.4,216.7 597.5,218.6 597.6,218.5 597.7,218.6 597.8,219.2 597.9,217.0 598.1,218.5 598.2,218.3 598.3,219.8 598.4,219.6 598.5,219.6 598.6,218.6 598.8,218.3 598.9,218.8 599.0,217.5 599.1,219.3 599.2,219.6 599.3,217.8 599.5,218.9 599.6,220.6 599.7,218.7 599.8,219.0 599.9,218.7 600.0,219.3 600.2,220.0 600.3,220.4 600.4,220.2 600.5,218.4 600.6,217.3 600.7,218.2 600.9,220.4 601.0,218.4 601.1,218.3 601.2,218.7 601.3,219.2 601.4,216.2 601.6,220.1 601.7,218.3 601.8,216.1 601.9,218.8 602.0,219.5 602.1,218.3 602.3,217.6 602.4,218.3 602.5,216.7 602.6,219.7 602.7,216.6 602.8,218.3 603.0,217.1 603.1,219.0 603.2,218.2 603.3,219.8 603.4,219.2 603.5,218.8 603.7,216.7 603.8,219.4 603.9,219.9 604.0,217.9 604.1,218.3 604.2,219.5 604.4,221.4 604.5,220.1 604.6,218.8 604.7,220.1 604.8,220.1 604.9,223.3 605.1,223.9 605.2,220.8 605.3,222.8 605.4,219.9 605.5,221.3 605.6,221.0 605.7,222.0 605.9,221.1 606.0,222.0 606.1,224.4 606.2,222.1 606.3,222.3 606.4,223.3 606.6,221.6 606.7,217.8 606.8,217.5 606.9,219.2 607.0,216.2 607.1,216.0 607.3,211.8 607.4,208.7 607.5,210.0 607.6,209.1 607.7,209.3 607.8,215.3 608.0,217.0 608.1,215.7 608.2,216.0 608.3,214.2 608.4,218.2 608.5,219.2 608.7,216.3 608.8,219.0 608.9,219.9 609.0,216.7 609.1,217.5 609.2,216.7 609.4,216.9 609.5,217.5 609.6,218.8 609.7,219.6 609.8,216.9 609.9,218.7 610.1,216.4 610.2,215.4 610.3,217.6 610.4,216.0 610.5,217.1 610.6,216.2 610.8,219.5 610.9,220.8 611.0,217.1 611.1,216.7 611.2,217.2 611.3,219.2 611.5,217.8 611.6,216.9 611.7,217.8 611.8,217.7 611.9,218.7 612.0,220.2 612.2,216.1 612.3,219.6 612.4,218.5 612.5,218.8 612.6,219.0 612.7,218.0 612.9,218.6 613.0,219.6 613.1,217.9 613.2,219.6 613.3,217.0 613.4,216.6 613.6,220.1 613.7,219.8 613.8,217.2 613.9,218.5 614.0,220.3 614.1,218.4 614.3,215.8 614.4,220.3 614.5,216.6 614.6,216.5 614.7,216.8 614.8,220.2 615.0,217.4 615.1,219.6 615.2,218.9 615.3,218.2 615.4,217.5 615.5,218.1 615.6,215.7 615.8,216.6 615.9,216.0 616.0,216.4 616.1,216.7 616.2,218.0 616.3,218.4 616.5,216.4 616.6,215.3 616.7,219.8 616.8,216.0 616.9,216.5 617.0,220.3 617.2,217.7 617.3,219.8 617.4,217.5 617.5,217.7 617.6,219.8 617.7,222.5 617.9,219.8 618.0,220.1 618.1,222.1 618.2,223.1 618.3,223.6 618.4,221.1 618.6,224.3 618.7,221.1 618.8,221.9 618.9,222.3 619.0,222.8 619.1,220.8 619.3,219.9 619.4,218.8 619.5,222.0 619.6,219.8 619.7,222.1 619.8,218.0 620.0,219.5 620.1,217.9 620.2,217.5 620.3,220.1 620.4,220.5 620.5,220.0 620.7,216.2 620.8,219.3 620.9,218.4 621.0,217.0 621.1,217.6 621.2,218.6 621.4,217.2 621.5,218.5 621.6,216.7 621.7,218.9 621.8,216.6 621.9,217.8 622.1,220.4 622.2,218.2 622.3,216.8 622.4,220.6 622.5,219.7 622.6,216.0 622.8,218.2 622.9,216.4 623.0,219.8 623.1,216.6 623.2,216.0 623.3,217.0 623.5,219.6 623.6,218.5 623.7,219.4 623.8,218.9 623.9,216.5 624.0,218.6 624.2,216.5 624.3,216.9 624.4,220.7 624.5,216.0 624.6,218.7 624.7,220.4 624.9,216.5 625.0,219.3 625.1,219.2 625.2,216.6 625.3,218.1 625.4,217.1 625.6,215.5 625.7,216.2 625.8,219.3 625.9,218.9 626.0,218.6 626.1,215.0 626.2,216.4 626.4,215.6 626.5,219.6 626.6,218.8 626.7,217.5 626.8,215.7 626.9,215.1 627.1,217.9 627.2,217.2 627.3,214.6 627.4,217.7 627.5,219.0 627.6,214.6 627.8,215.3 627.9,218.1 628.0,218.2 628.1,218.8 628.2,215.4 628.3,215.1 628.5,219.4 628.6,217.4 628.7,215.5 628.8,217.1 628.9,216.7 629.0,217.8 629.2,217.5 629.3,216.0 629.4,219.8 629.5,216.5 629.6,216.3 629.7,216.7 629.9,215.2 630.0,215.8 630.1,220.0 630.2,219.9 630.3,215.2 630.4,217.3 630.6,218.0 630.7,220.0 630.8,216.0 630.9,219.1 631.0,219.3 631.1,218.0 631.3,217.8 631.4,218.7 631.5,219.2 631.6,216.7 631.7,218.2 631.8,219.9 632.0,215.5 632.1,219.7 632.2,217.5 632.3,220.8 632.4,217.5 632.5,216.7 632.7,219.3 632.8,219.3 632.9,216.1 633.0,218.1 633.1,215.5 633.2,218.0 633.4,215.6 633.5,217.0 633.6,218.1 633.7,217.9 633.8,215.7 633.9,216.1 634.1,215.9 634.2,217.9 634.3,215.9 634.4,214.1 634.5,211.2 634.6,216.2 634.8,214.9 634.9,214.1 635.0,216.0 635.1,218.0 635.2,215.0 635.3,215.5 635.5,215.3 635.6,214.7 635.7,219.0 635.8,218.9 635.9,218.9 636.0,216.3 636.2,214.9 636.3,217.7 636.4,216.5 636.5,219.5 636.6,220.1 636.7,215.6 636.8,218.5 637.0,219.3 637.1,218.7 637.2,216.6 637.3,219.6 637.4,219.8 637.5,215.7 637.7,218.3 637.8,220.2 637.9,219.1 638.0,220.4 638.1,219.5 638.2,217.5 638.4,217.6 638.5,219.9 638.6,215.9 638.7,218.6 638.8,218.7 638.9,216.5 639.1,217.2 639.2,219.6 639.3,217.8 639.4,218.8 639.5,215.2 639.6,218.7 639.8,217.5 639.9,219.6 640.0,218.3 640.1,217.3 640.2,217.2 640.3,215.3 640.5,220.1 640.6,216.4 640.7,217.9 640.8,217.0 640.9,217.3 641.0,216.2 641.2,215.4 641.3,216.7 641.4,216.7 641.5,215.6 641.6,217.0 641.7,215.3 641.9,217.8 642.0,218.0 642.1,217.4 642.2,217.7 642.3,215.5 642.4,218.5 642.6,217.7 642.7,214.9 642.8,215.0 642.9,217.1 643.0,217.7 643.1,217.3 643.3,215.5 643.4,215.4 643.5,217.1 643.6,218.5 643.7,215.6 643.8,215.0 644.0,218.0 644.1,219.7 644.2,218.9 644.3,216.5 644.4,219.6 644.5,215.6 644.7,215.8 644.8,215.8 644.9,218.4 645.0,218.8 645.1,218.8 645.2,217.9 645.4,217.0 645.5,216.6 645.6,219.4 645.7,215.3 645.8,218.1 645.9,217.5 646.1,216.5 646.2,218.6 646.3,215.2 646.4,219.0 646.5,216.2 646.6,215.7 646.7,215.7 646.9,218.0 647.0,217.6 647.1,220.8 647.2,216.2 647.3,220.1 647.4,217.3 647.6,217.0 647.7,216.3 647.8,219.8 647.9,219.3 648.0,216.7 648.1,216.3 648.3,220.6 648.4,216.9 648.5,221.1 648.6,217.9 648.7,221.0 648.8,220.0 649.0,219.6 649.1,218.9 649.2,218.8 649.3,217.8 649.4,216.5 649.5,218.4 649.7,217.8 649.8,219.6 649.9,218.2 650.0,216.7 650.1,216.4 650.2,218.6 650.4,216.3 650.5,214.9 650.6,218.3 650.7,215.4 650.8,218.5 650.9,217.4 651.1,219.0 651.2,216.4 651.3,218.7 651.4,217.9 651.5,218.0 651.6,218.7 651.8,219.6 651.9,216.7 652.0,220.0 652.1,217.8 652.2,220.9 652.3,217.1 652.5,216.6 652.6,215.5 652.7,218.8 652.8,220.3 652.9,217.6 653.0,220.1 653.2,218.4 653.3,218.1 653.4,219.8 653.5,218.8 653.6,218.2 653.7,217.7 653.9,220.7 654.0,217.3 654.1,218.0 654.2,221.0 654.3,220.0 654.4,218.2 654.6,219.2 654.7,219.8 654.8,216.0 654.9,219.3 655.0,220.2 655.1,218.3 655.3,218.0 655.4,217.3 655.5,214.3 655.6,215.1 655.7,217.3 655.8,216.0 656.0,219.3 656.1,218.3 656.2,219.3 656.3,217.5 656.4,218.8 656.5,215.8 656.7,217.8 656.8,216.7 656.9,217.3 657.0,217.6 657.1,219.9 657.2,219.1 657.3,216.3 657.5,219.4 657.6,219.7 657.7,219.2 657.8,216.6 657.9,218.6 658.0,215.6 658.2,214.9 658.3,217.0 658.4,219.3 658.5,215.1 658.6,216.2 658.7,214.6 658.9,215.8 659.0,220.1 659.1,216.4 659.2,218.0 659.3,219.2 659.4,218.0 659.6,215.2 659.7,217.2 659.8,215.2 659.9,219.1 660.0,216.8 660.1,215.1 660.3,216.6 660.4,215.4 660.5,217.4 660.6,217.5 660.7,217.9 660.8,218.7 661.0,217.1 661.1,216.0 661.2,219.7 661.3,219.0 661.4,220.0 661.5,218.7 661.7,219.0 661.8,216.9 661.9,220.6 662.0,219.5 662.1,219.7 662.2,219.4 662.4,217.8 662.5,218.2 662.6,220.2 662.7,217.8 662.8,218.3 662.9,215.6 663.1,215.9 663.2,216.8 663.3,219.3 663.4,218.6 663.5,217.6 663.6,216.5 663.8,215.9 663.9,216.7 664.0,218.9 664.1,214.7 664.2,218.2 664.3,214.4 664.5,219.3 664.6,214.7 664.7,218.8 664.8,218.4 664.9,215.3 665.0,219.4 665.2,217.1 665.3,218.9 665.4,219.0 665.5,219.7 665.6,220.1 665.7,219.1 665.9,221.0 666.0,224.0 666.1,222.1 666.2,222.6 666.3,224.6 666.4,223.3 666.6,221.2 666.7,225.1 666.8,220.4 666.9,221.5 667.0,224.2 667.1,222.5 667.3,221.1 667.4,224.5 667.5,224.8 667.6,222.4 667.7,219.6 667.8,219.6 667.9,220.1 668.1,217.5 668.2,219.3 668.3,218.0 668.4,218.7 668.5,219.8 668.6,217.7 668.8,217.8 668.9,217.4 669.0,215.8 669.1,217.5 669.2,219.3 669.3,216.0 669.5,218.8 669.6,219.6" fill="none" stroke="#e9117f" stroke-width="1.1" stroke-linejoin="round"/>
<line x1="407.5" y1="1.2" x2="407.5" y2="228.2" stroke="#444" stroke-width="1.2"/>
<line x1="402.9" y1="227.6" x2="685" y2="227.6" stroke="#333" stroke-width="1.1"/>
<line x1="402.9" y1="227.6" x2="407.5" y2="227.6" stroke="#333" stroke-width="1"/>
<text x="400.2" y="231.9" font-size="14.5" fill="#e9117f" text-anchor="end" font-weight="bold" stroke="#e9117f" stroke-width="0.3">0</text>
<line x1="405.0" y1="211.9" x2="407.5" y2="211.9" stroke="#333" stroke-width="1"/>
<line x1="402.9" y1="196.3" x2="407.5" y2="196.3" stroke="#333" stroke-width="1"/>
<text x="400.2" y="200.6" font-size="14.5" fill="#e9117f" text-anchor="end" font-weight="bold" stroke="#e9117f" stroke-width="0.3">250</text>
<line x1="405.0" y1="180.6" x2="407.5" y2="180.6" stroke="#333" stroke-width="1"/>
<line x1="402.9" y1="165.0" x2="407.5" y2="165.0" stroke="#333" stroke-width="1"/>
<text x="400.2" y="169.3" font-size="14.5" fill="#e9117f" text-anchor="end" font-weight="bold" stroke="#e9117f" stroke-width="0.3">500</text>
<line x1="405.0" y1="149.3" x2="407.5" y2="149.3" stroke="#333" stroke-width="1"/>
<line x1="402.9" y1="133.7" x2="407.5" y2="133.7" stroke="#333" stroke-width="1"/>
<text x="400.2" y="138.0" font-size="14.5" fill="#e9117f" text-anchor="end" font-weight="bold" stroke="#e9117f" stroke-width="0.3">750</text>
<line x1="405.0" y1="118.0" x2="407.5" y2="118.0" stroke="#333" stroke-width="1"/>
<line x1="402.9" y1="102.4" x2="407.5" y2="102.4" stroke="#333" stroke-width="1"/>
<text x="400.2" y="106.7" font-size="14.5" fill="#e9117f" text-anchor="end" font-weight="bold" stroke="#e9117f" stroke-width="0.3">1000</text>
<line x1="405.0" y1="86.8" x2="407.5" y2="86.8" stroke="#333" stroke-width="1"/>
<line x1="402.9" y1="71.1" x2="407.5" y2="71.1" stroke="#333" stroke-width="1"/>
<text x="400.2" y="75.4" font-size="14.5" fill="#e9117f" text-anchor="end" font-weight="bold" stroke="#e9117f" stroke-width="0.3">1250</text>
<line x1="405.0" y1="55.4" x2="407.5" y2="55.4" stroke="#333" stroke-width="1"/>
<line x1="402.9" y1="39.8" x2="407.5" y2="39.8" stroke="#333" stroke-width="1"/>
<text x="400.2" y="44.1" font-size="14.5" fill="#e9117f" text-anchor="end" font-weight="bold" stroke="#e9117f" stroke-width="0.3">1500</text>
<line x1="405.0" y1="24.2" x2="407.5" y2="24.2" stroke="#333" stroke-width="1"/>
<line x1="402.9" y1="8.5" x2="407.5" y2="8.5" stroke="#333" stroke-width="1"/>
<text x="400.2" y="12.8" font-size="14.5" fill="#e9117f" text-anchor="end" font-weight="bold" stroke="#e9117f" stroke-width="0.3">1750</text>
<line x1="407.5" y1="227.6" x2="407.5" y2="231.8" stroke="#333" stroke-width="1"/>
<text x="407.5" y="246.0" font-size="14.5" fill="#e9117f" text-anchor="middle" font-weight="bold" stroke="#e9117f" stroke-width="0.3">10</text>
<line x1="422.1" y1="227.6" x2="422.1" y2="229.9" stroke="#333" stroke-width="1"/>
<line x1="436.6" y1="227.6" x2="436.6" y2="231.8" stroke="#333" stroke-width="1"/>
<text x="436.6" y="246.0" font-size="14.5" fill="#e9117f" text-anchor="middle" font-weight="bold" stroke="#e9117f" stroke-width="0.3">20</text>
<line x1="451.2" y1="227.6" x2="451.2" y2="229.9" stroke="#333" stroke-width="1"/>
<line x1="465.7" y1="227.6" x2="465.7" y2="231.8" stroke="#333" stroke-width="1"/>
<text x="465.7" y="246.0" font-size="14.5" fill="#e9117f" text-anchor="middle" font-weight="bold" stroke="#e9117f" stroke-width="0.3">30</text>
<line x1="480.3" y1="227.6" x2="480.3" y2="229.9" stroke="#333" stroke-width="1"/>
<line x1="494.9" y1="227.6" x2="494.9" y2="231.8" stroke="#333" stroke-width="1"/>
<text x="494.9" y="246.0" font-size="14.5" fill="#e9117f" text-anchor="middle" font-weight="bold" stroke="#e9117f" stroke-width="0.3">40</text>
<line x1="509.4" y1="227.6" x2="509.4" y2="229.9" stroke="#333" stroke-width="1"/>
<line x1="524.0" y1="227.6" x2="524.0" y2="231.8" stroke="#333" stroke-width="1"/>
<text x="524.0" y="246.0" font-size="14.5" fill="#e9117f" text-anchor="middle" font-weight="bold" stroke="#e9117f" stroke-width="0.3">50</text>
<line x1="538.5" y1="227.6" x2="538.5" y2="229.9" stroke="#333" stroke-width="1"/>
<line x1="553.1" y1="227.6" x2="553.1" y2="231.8" stroke="#333" stroke-width="1"/>
<text x="553.1" y="246.0" font-size="14.5" fill="#e9117f" text-anchor="middle" font-weight="bold" stroke="#e9117f" stroke-width="0.3">60</text>
<line x1="567.7" y1="227.6" x2="567.7" y2="229.9" stroke="#333" stroke-width="1"/>
<line x1="582.2" y1="227.6" x2="582.2" y2="231.8" stroke="#333" stroke-width="1"/>
<text x="582.2" y="246.0" font-size="14.5" fill="#e9117f" text-anchor="middle" font-weight="bold" stroke="#e9117f" stroke-width="0.3">70</text>
<line x1="596.8" y1="227.6" x2="596.8" y2="229.9" stroke="#333" stroke-width="1"/>
<line x1="611.3" y1="227.6" x2="611.3" y2="231.8" stroke="#333" stroke-width="1"/>
<text x="611.3" y="246.0" font-size="14.5" fill="#e9117f" text-anchor="middle" font-weight="bold" stroke="#e9117f" stroke-width="0.3">80</text>
<line x1="625.9" y1="227.6" x2="625.9" y2="229.9" stroke="#333" stroke-width="1"/>
<line x1="640.5" y1="227.6" x2="640.5" y2="231.8" stroke="#333" stroke-width="1"/>
<text x="640.5" y="246.0" font-size="14.5" fill="#e9117f" text-anchor="middle" font-weight="bold" stroke="#e9117f" stroke-width="0.3">90</text>
<line x1="655.0" y1="227.6" x2="655.0" y2="229.9" stroke="#333" stroke-width="1"/>
<line x1="669.6" y1="227.6" x2="669.6" y2="231.8" stroke="#333" stroke-width="1"/>
<text x="669.6" y="246.0" font-size="14.5" fill="#e9117f" text-anchor="middle" font-weight="bold" stroke="#e9117f" stroke-width="0.3">100</text>
<line x1="684.1" y1="227.6" x2="684.1" y2="229.9" stroke="#333" stroke-width="1"/>
<text transform="translate(363.1,107.5) rotate(-90)" font-size="19.2" fill="#e9117f" stroke="#e9117f" stroke-width="0.3" font-weight="bold" text-anchor="middle" textLength="127.7" lengthAdjust="spacingAndGlyphs">Intensity Counts</text>
<text x="537.2" y="265.3" font-size="14" fill="#e9117f" text-anchor="middle" font-weight="bold" stroke="#e9117f" stroke-width="0.3" textLength="57.1" lengthAdjust="spacingAndGlyphs">Angle, 2<tspan font-weight="normal">θ</tspan></text>
<text x="463.1" y="300.0" font-size="18" fill="#1a1a1a" textLength="101.0" lengthAdjust="spacingAndGlyphs">(b) <tspan fill="#e0201b">Sample S1</tspan></text>
<text x="421.8" y="196.1" font-size="14" fill="#111" stroke="#111" stroke-width="0.3" font-weight="bold">B<tspan font-size="9.5" dy="3.8">4</tspan><tspan dy="-3.8">C</tspan></text>
<text x="456.5" y="199.3" font-size="14" fill="#111" text-anchor="start" font-weight="bold" stroke="#111" stroke-width="0.3">Gr</text>
<text x="472.7" y="18.0" font-size="14" fill="#111" text-anchor="start" font-weight="bold" stroke="#111" stroke-width="0.3">Al</text>
<text x="512.8" y="130.5" font-size="14" fill="#111" text-anchor="start" font-weight="bold" stroke="#111" stroke-width="0.3">Al</text>
<text x="513.3" y="197.2" font-size="14" fill="#111" text-anchor="start" font-weight="bold" stroke="#111" stroke-width="0.3">Cu</text>
<text x="570.6" y="147.0" font-size="14" fill="#111" stroke="#111" stroke-width="0.3" font-weight="bold">B<tspan font-size="9.5" dy="3.8">4</tspan><tspan dy="-3.8">C</tspan></text>
<polyline points="85.7,549.2 85.8,548.3 85.9,550.2 86.0,547.9 86.2,547.5 86.3,548.8 86.4,548.3 86.5,549.9 86.6,549.1 86.7,548.7 86.9,548.5 87.0,549.0 87.1,548.1 87.2,549.1 87.3,548.4 87.4,548.2 87.6,549.7 87.7,547.9 87.8,550.0 87.9,549.8 88.0,548.4 88.1,549.4 88.3,549.4 88.4,548.7 88.5,548.7 88.6,548.1 88.7,548.3 88.9,550.2 89.0,547.5 89.1,548.8 89.2,548.0 89.3,548.7 89.4,547.7 89.6,547.1 89.7,548.3 89.8,548.8 89.9,546.7 90.0,548.5 90.1,546.3 90.3,546.9 90.4,545.1 90.5,543.0 90.6,542.8 90.7,542.7 90.8,539.7 91.0,540.3 91.1,540.0 91.2,539.6 91.3,542.6 91.4,544.1 91.5,545.4 91.7,546.3 91.8,547.2 91.9,546.9 92.0,546.4 92.1,547.8 92.2,548.3 92.4,547.9 92.5,547.6 92.6,549.3 92.7,547.8 92.8,548.9 93.0,549.9 93.1,550.1 93.2,549.6 93.3,549.3 93.4,549.4 93.5,549.4 93.7,549.4 93.8,548.7 93.9,548.0 94.0,547.4 94.1,547.1 94.2,548.4 94.4,546.9 94.5,548.3 94.6,546.1 94.7,546.8 94.8,546.8 94.9,545.7 95.1,546.3 95.2,546.2 95.3,543.6 95.4,542.4 95.5,540.8 95.6,538.9 95.8,537.1 95.9,532.2 96.0,525.6 96.1,517.4 96.2,506.6 96.4,499.3 96.5,491.1 96.6,490.3 96.7,497.2 96.8,508.3 96.9,516.5 97.1,525.4 97.2,532.6 97.3,537.5 97.4,538.7 97.5,543.2 97.6,541.9 97.8,543.2 97.9,546.4 98.0,545.0 98.1,545.6 98.2,546.3 98.3,546.8 98.5,547.5 98.6,547.3 98.7,546.2 98.8,547.2 98.9,546.4 99.0,546.1 99.2,546.2 99.3,546.9 99.4,546.4 99.5,548.0 99.6,547.2 99.8,546.6 99.9,548.5 100.0,547.8 100.1,547.5 100.2,546.4 100.3,544.5 100.5,543.9 100.6,541.3 100.7,540.9 100.8,538.3 100.9,534.5 101.0,533.2 101.2,531.8 101.2,531.6 101.4,532.1 101.5,535.1 101.6,538.1 101.7,539.7 101.9,542.7 102.0,544.8 102.1,546.8 102.2,546.7 102.3,546.2 102.4,548.0 102.6,548.4 102.7,548.3 102.8,547.7 102.9,547.0 103.0,547.6 103.1,548.6 103.3,550.2 103.4,549.7 103.5,550.0 103.6,550.2 103.7,550.4 103.9,548.2 104.0,548.5 104.1,547.9 104.2,547.9 104.3,550.5 104.4,548.6 104.6,550.7 104.7,550.9 104.8,550.6 104.9,551.0 105.0,551.2 105.1,549.3 105.3,550.0 105.4,550.3 105.5,549.9 105.6,548.1 105.7,549.7 105.8,549.0 106.0,549.0 106.1,549.9 106.2,549.6 106.3,551.1 106.4,549.2 106.5,549.8 106.7,549.2 106.8,550.6 106.9,549.4 107.0,549.2 107.1,548.3 107.3,550.0 107.4,548.4 107.5,550.5 107.6,551.2 107.7,551.0 107.8,550.3 108.0,551.1 108.1,548.2 108.2,550.1 108.3,548.9 108.4,549.8 108.5,549.3 108.7,549.1 108.8,548.6 108.9,550.8 109.0,549.3 109.1,549.1 109.2,551.2 109.4,551.1 109.5,549.3 109.6,550.4 109.7,548.9 109.8,549.4 109.9,551.0 110.1,550.1 110.2,549.8 110.3,551.2 110.4,550.4 110.5,550.9 110.6,549.6 110.8,549.5 110.9,550.9 111.0,551.0 111.1,548.4 111.2,548.2 111.4,550.0 111.5,550.2 111.6,549.5 111.7,550.8 111.8,549.6 111.9,549.8 112.1,551.1 112.2,549.4 112.3,549.4 112.4,549.6 112.5,549.6 112.6,549.3 112.8,550.5 112.9,549.9 113.0,548.9 113.1,549.4 113.2,550.1 113.3,551.2 113.5,549.1 113.6,549.0 113.7,550.4 113.8,548.8 113.9,551.0 114.0,549.0 114.2,550.2 114.3,549.8 114.4,548.8 114.5,551.1 114.6,550.2 114.8,548.7 114.9,548.8 115.0,549.8 115.1,548.7 115.2,549.1 115.3,550.8 115.5,549.8 115.6,549.5 115.7,548.8 115.8,550.9 115.9,548.1 116.0,550.3 116.2,549.7 116.3,548.6 116.4,548.9 116.5,550.1 116.6,551.7 116.7,549.4 116.9,550.1 117.0,550.3 117.1,551.3 117.2,549.6 117.3,549.6 117.4,548.5 117.6,548.9 117.7,549.4 117.8,550.3 117.9,550.8 118.0,550.5 118.2,548.9 118.3,548.8 118.4,549.6 118.5,548.8 118.6,550.2 118.7,548.4 118.9,550.2 119.0,551.0 119.1,551.4 119.2,550.8 119.3,549.7 119.4,549.9 119.6,549.5 119.7,549.1 119.8,549.9 119.9,548.7 120.0,549.5 120.1,549.1 120.3,550.1 120.4,548.4 120.5,550.4 120.6,550.4 120.7,550.5 120.8,551.0 121.0,550.7 121.1,550.7 121.2,550.7 121.3,548.9 121.4,550.8 121.5,551.1 121.7,548.1 121.8,549.6 121.9,550.4 122.0,550.7 122.1,551.0 122.3,548.8 122.4,549.9 122.5,550.3 122.6,550.3 122.7,549.9 122.8,550.9 123.0,549.6 123.1,551.7 123.2,550.9 123.3,551.2 123.4,548.2 123.5,550.2 123.7,548.2 123.8,548.0 123.9,549.9 124.0,549.0 124.1,549.9 124.2,548.3 124.4,549.7 124.5,548.6 124.6,548.4 124.7,548.6 124.8,547.9 124.9,549.9 125.1,548.8 125.2,549.5 125.3,548.8 125.4,549.0 125.5,549.4 125.7,550.6 125.8,549.7 125.9,548.8 126.0,550.3 126.1,548.5 126.2,548.7 126.4,550.1 126.5,550.1 126.6,550.1 126.7,548.0 126.8,550.5 126.9,550.7 127.1,549.0 127.2,550.5 127.3,548.9 127.4,550.2 127.5,548.0 127.6,549.6 127.8,548.2 127.9,549.3 128.0,550.6 128.1,548.5 128.2,550.5 128.3,549.7 128.5,547.7 128.6,549.7 128.7,547.9 128.8,548.4 128.9,548.3 129.1,549.7 129.2,550.4 129.3,548.2 129.4,550.3 129.5,548.9 129.6,550.8 129.8,550.9 129.9,549.2 130.0,548.9 130.1,549.2 130.2,547.9 130.3,549.7 130.5,550.1 130.6,550.2 130.7,547.8 130.8,547.7 130.9,549.4 131.0,550.0 131.2,547.8 131.3,549.4 131.4,547.8 131.5,548.2 131.6,550.5 131.7,550.2 131.9,549.0 132.0,548.8 132.1,549.6 132.2,549.1 132.3,548.4 132.4,549.5 132.6,549.1 132.7,550.1 132.8,548.1 132.9,547.1 133.0,548.7 133.2,549.7 133.3,548.8 133.4,548.6 133.5,549.8 133.6,548.9 133.7,549.2 133.9,549.8 134.0,550.1 134.1,549.0 134.2,550.6 134.3,550.1 134.4,547.6 134.6,548.4 134.7,550.1 134.8,550.6 134.9,550.7 135.0,549.0 135.1,549.7 135.3,547.9 135.4,550.4 135.5,549.1 135.6,547.9 135.7,548.4 135.8,548.4 136.0,548.1 136.1,549.2 136.2,549.9 136.3,548.7 136.4,547.8 136.6,548.2 136.7,547.6 136.8,549.0 136.9,548.9 137.0,548.3 137.1,547.2 137.3,549.3 137.4,549.0 137.5,547.3 137.6,549.9 137.7,549.1 137.8,547.4 138.0,547.9 138.1,550.1 138.2,548.8 138.3,549.4 138.4,549.9 138.5,548.4 138.7,547.6 138.8,546.9 138.9,546.9 139.0,549.0 139.1,548.6 139.2,548.1 139.4,547.2 139.5,546.9 139.6,547.0 139.7,544.1 139.8,545.7 139.9,545.1 140.1,541.8 140.2,540.4 140.3,538.1 140.4,530.4 140.5,519.3 140.7,488.8 140.8,423.0 140.9,342.9 141.0,380.2 141.1,457.9 141.2,508.0 141.4,528.3 141.5,535.9 141.6,538.3 141.7,540.3 141.8,543.3 141.9,545.0 142.1,543.8 142.2,547.1 142.3,547.5 142.4,548.3 142.5,547.8 142.6,545.0 142.8,547.9 142.9,547.8 143.0,546.8 143.1,548.1 143.2,547.0 143.3,547.9 143.5,548.1 143.6,547.4 143.7,549.2 143.8,547.6 143.9,549.9 144.1,549.4 144.2,549.2 144.3,546.9 144.4,548.6 144.5,549.8 144.6,547.3 144.8,547.7 144.9,548.8 145.0,548.6 145.1,549.0 145.2,549.1 145.3,548.2 145.5,548.9 145.6,548.0 145.7,546.8 145.8,547.1 145.9,549.1 146.0,549.0 146.2,548.9 146.3,547.9 146.4,548.7 146.5,548.0 146.6,547.0 146.7,548.5 146.9,550.2 147.0,548.8 147.1,549.7 147.2,547.6 147.3,549.4 147.5,549.3 147.6,549.1 147.7,547.7 147.8,549.4 147.9,548.8 148.0,548.4 148.2,547.4 148.3,549.5 148.4,549.0 148.5,549.9 148.6,549.1 148.7,548.4 148.9,547.1 149.0,547.7 149.1,547.6 149.2,547.7 149.3,549.6 149.4,548.2 149.6,547.1 149.7,547.3 149.8,547.8 149.9,548.5 150.0,549.5 150.1,548.6 150.3,548.4 150.4,547.8 150.5,547.6 150.6,546.6 150.7,547.4 150.8,546.9 151.0,546.0 151.1,547.6 151.2,547.7 151.3,547.7 151.4,547.7 151.6,548.7 151.7,548.1 151.8,548.7 151.9,545.5 152.0,548.3 152.1,547.6 152.3,546.7 152.4,546.9 152.5,545.3 152.6,545.8 152.7,545.5 152.8,542.9 153.0,541.3 153.1,539.8 153.2,540.2 153.3,539.2 153.4,537.0 153.5,532.7 153.7,530.5 153.8,531.2 154.0,529.4 154.0,530.3 154.1,530.4 154.2,530.4 154.4,533.8 154.5,535.9 154.6,538.2 154.7,538.5 154.8,541.6 155.0,542.1 155.1,542.6 155.2,545.0 155.3,545.9 155.4,544.8 155.5,545.8 155.7,545.7 155.8,545.5 155.9,545.4 156.0,547.7 156.1,545.7 156.2,546.0 156.4,545.6 156.5,547.6 156.6,547.8 156.7,546.1 156.8,546.8 156.9,545.7 157.1,546.7 157.2,547.2 157.3,546.9 157.4,547.9 157.5,548.0 157.6,546.8 157.8,544.6 157.9,543.2 158.0,542.5 158.1,543.0 158.2,536.7 158.3,526.6 158.5,502.1 158.6,459.2 158.7,467.2 158.8,502.3 158.9,525.3 159.1,537.6 159.2,541.2 159.3,544.6 159.4,544.6 159.5,546.4 159.6,546.9 159.8,545.5 159.9,546.9 160.0,547.9 160.1,547.8 160.2,545.8 160.3,547.4 160.5,546.1 160.6,548.5 160.7,548.8 160.8,548.8 160.9,546.7 161.0,546.3 161.2,546.6 161.3,548.2 161.4,548.6 161.5,547.0 161.6,548.4 161.7,547.4 161.9,547.1 162.0,547.6 162.1,546.8 162.2,548.8 162.3,548.6 162.5,549.7 162.6,548.9 162.7,546.9 162.8,547.2 162.9,547.5 163.0,548.0 163.2,547.3 163.3,549.0 163.4,546.5 163.5,547.3 163.6,549.4 163.7,548.1 163.9,549.5 164.0,546.9 164.1,549.0 164.2,546.9 164.3,548.2 164.4,548.2 164.6,549.0 164.7,548.8 164.8,547.5 164.9,548.0 165.0,548.5 165.1,546.9 165.3,548.3 165.4,547.4 165.5,548.7 165.6,547.1 165.7,548.3 165.9,549.1 166.0,548.3 166.1,547.7 166.2,548.8 166.3,548.6 166.4,549.0 166.6,547.3 166.7,547.9 166.8,548.2 166.9,548.8 167.0,547.5 167.1,548.2 167.3,547.5 167.4,547.1 167.5,546.2 167.6,548.9 167.7,549.6 167.8,547.7 168.0,546.6 168.1,548.2 168.2,549.3 168.3,547.1 168.4,549.0 168.5,547.4 168.7,548.7 168.8,548.4 168.9,549.0 169.0,546.0 169.1,548.1 169.2,548.6 169.4,546.6 169.5,547.9 169.6,547.4 169.7,548.0 169.8,549.4 170.0,547.4 170.1,547.1 170.2,547.7 170.3,547.8 170.4,549.4 170.5,548.8 170.7,547.8 170.8,547.3 170.9,546.8 171.0,548.4 171.1,548.2 171.2,547.3 171.4,547.3 171.5,549.0 171.6,548.7 171.7,546.6 171.8,547.7 171.9,549.5 172.1,547.0 172.2,547.1 172.3,548.7 172.4,548.9 172.5,547.4 172.6,549.3 172.8,547.3 172.9,548.3 173.0,548.3 173.1,547.5 173.2,547.0 173.4,546.3 173.5,546.7 173.6,549.0 173.7,547.4 173.8,547.7 173.9,546.5 174.1,546.6 174.2,547.5 174.3,546.1 174.4,547.3 174.5,545.8 174.6,547.7 174.8,546.9 174.9,546.7 175.0,547.6 175.1,545.0 175.2,544.8 175.3,546.9 175.5,546.5 175.6,546.9 175.7,546.5 175.8,546.1 175.9,544.8 176.0,544.9 176.2,546.6 176.3,547.0 176.4,544.6 176.5,544.3 176.6,546.3 176.8,547.8 176.9,547.1 177.0,545.3 177.1,547.4 177.2,545.9 177.3,546.7 177.5,546.9 177.6,547.7 177.7,548.6 177.8,546.3 177.9,548.1 178.0,548.7 178.2,548.0 178.3,548.2 178.4,548.4 178.5,548.3 178.6,547.1 178.7,549.1 178.9,546.8 179.0,548.0 179.1,546.8 179.2,548.5 179.3,549.4 179.4,548.1 179.6,548.2 179.7,549.3 179.8,546.5 179.9,548.7 180.0,546.5 180.1,547.4 180.3,546.4 180.4,545.8 180.5,549.3 180.6,547.1 180.7,548.0 180.9,546.2 181.0,547.6 181.1,549.3 181.2,546.8 181.3,546.8 181.4,548.6 181.6,548.8 181.7,547.2 181.8,546.2 181.9,548.5 182.0,547.4 182.1,547.3 182.3,549.1 182.4,547.9 182.5,547.5 182.6,549.0 182.7,547.6 182.8,547.4 183.0,546.7 183.1,546.3 183.2,548.7 183.3,546.2 183.4,547.7 183.5,547.1 183.7,547.0 183.8,546.7 183.9,546.3 184.0,546.9 184.1,546.4 184.3,548.2 184.4,548.4 184.5,547.4 184.6,547.6 184.7,547.8 184.8,547.5 185.0,548.1 185.1,547.2 185.2,549.2 185.3,546.9 185.4,549.5 185.5,547.6 185.7,549.1 185.8,547.8 185.9,547.6 186.0,548.7 186.1,546.2 186.2,548.7 186.4,547.3 186.5,549.3 186.6,548.2 186.7,547.1 186.8,548.5 186.9,547.7 187.1,547.6 187.2,548.0 187.3,549.2 187.4,547.9 187.5,548.5 187.6,549.0 187.8,549.2 187.9,548.5 188.0,547.2 188.1,547.1 188.2,548.8 188.4,548.5 188.5,548.6 188.6,547.2 188.7,549.0 188.8,549.6 188.9,546.5 189.1,546.9 189.2,547.7 189.3,548.4 189.4,549.0 189.5,548.9 189.6,546.5 189.8,546.9 189.9,546.9 190.0,548.3 190.1,548.1 190.2,546.7 190.3,547.0 190.5,547.9 190.6,547.6 190.7,548.1 190.8,548.6 190.9,546.8 191.0,549.7 191.2,549.1 191.3,548.0 191.4,547.4 191.5,548.0 191.6,548.9 191.8,547.0 191.9,546.8 192.0,548.6 192.1,548.9 192.2,546.7 192.3,548.5 192.5,548.7 192.6,548.1 192.7,547.7 192.8,548.1 192.9,548.6 193.0,546.5 193.2,548.2 193.3,546.4 193.4,546.7 193.5,547.2 193.6,547.4 193.7,546.9 193.9,546.8 194.0,547.3 194.1,546.1 194.2,546.6 194.3,549.5 194.4,547.5 194.6,548.7 194.7,547.9 194.8,548.8 194.9,547.6 195.0,546.9 195.2,549.0 195.3,546.5 195.4,549.0 195.5,546.9 195.6,547.7 195.7,549.1 195.9,547.6 196.0,548.3 196.1,546.3 196.2,548.1 196.3,548.6 196.4,547.9 196.6,547.1 196.7,546.3 196.8,546.8 196.9,546.7 197.0,548.6 197.1,548.4 197.3,549.0 197.4,548.5 197.5,548.4 197.6,548.2 197.7,545.7 197.8,547.6 198.0,548.2 198.1,546.6 198.2,549.2 198.3,546.9 198.4,546.7 198.5,548.8 198.7,548.3 198.8,546.4 198.9,548.7 199.0,547.3 199.1,549.2 199.3,546.0 199.4,548.1 199.5,549.4 199.6,549.3 199.7,548.7 199.8,546.2 200.0,546.7 200.1,547.6 200.2,548.0 200.3,549.4 200.4,548.7 200.5,546.3 200.7,547.5 200.8,548.7 200.9,546.9 201.0,549.1 201.1,546.8 201.2,547.7 201.4,547.4 201.5,547.8 201.6,546.6 201.7,548.6 201.8,545.3 201.9,546.0 202.1,545.3 202.2,548.1 202.3,546.2 202.4,546.7 202.5,548.4 202.7,548.3 202.8,548.0 202.9,546.4 203.0,545.6 203.1,546.5 203.2,547.2 203.4,549.1 203.5,547.5 203.6,548.1 203.7,546.9 203.8,548.7 203.9,548.5 204.1,547.1 204.2,546.2 204.3,547.8 204.4,546.1 204.5,547.3 204.6,548.9 204.8,548.2 204.9,547.4 205.0,546.4 205.1,548.9 205.2,546.3 205.3,549.6 205.5,548.0 205.6,546.3 205.7,547.5 205.8,547.3 205.9,546.2 206.1,548.0 206.2,546.6 206.3,546.5 206.4,546.8 206.5,547.8 206.6,548.1 206.8,546.1 206.9,548.6 207.0,549.2 207.1,547.2 207.2,548.3 207.3,548.3 207.5,546.9 207.6,548.5 207.7,548.9 207.8,547.3 207.9,548.0 208.0,548.3 208.2,549.1 208.3,548.5 208.4,548.4 208.5,547.8 208.6,547.0 208.7,546.2 208.9,546.4 209.0,548.2 209.1,547.3 209.2,547.9 209.3,547.1 209.4,546.1 209.6,548.8 209.7,548.7 209.8,545.6 209.9,546.5 210.0,548.8 210.2,545.7 210.3,546.0 210.4,548.4 210.5,546.2 210.6,548.4 210.7,545.9 210.9,547.4 211.0,546.9 211.1,548.1 211.2,547.3 211.3,548.3 211.4,546.2 211.6,546.4 211.7,547.5 211.8,545.9 211.9,547.3 212.0,548.2 212.1,545.9 212.3,546.6 212.4,546.8 212.5,548.3 212.6,546.1 212.7,547.8 212.8,545.8 213.0,546.8 213.1,545.9 213.2,545.6 213.3,548.4 213.4,546.6 213.6,546.0 213.7,546.9 213.8,548.2 213.9,548.1 214.0,547.4 214.1,547.7 214.3,546.2 214.4,546.6 214.5,546.1 214.6,546.6 214.7,547.0 214.8,548.1 215.0,548.2 215.1,548.2 215.2,545.3 215.3,547.7 215.4,548.2 215.5,547.8 215.7,545.0 215.8,547.6 215.9,546.1 216.0,545.7 216.1,546.1 216.2,546.4 216.4,546.2 216.5,545.6 216.6,543.8 216.7,543.1 216.8,545.7 216.9,543.8 217.1,541.5 217.2,540.5 217.3,541.1 217.4,538.0 217.5,531.8 217.7,522.4 217.8,510.4 217.9,491.0 218.0,472.6 218.1,461.6 218.2,471.9 218.4,490.4 218.5,511.2 218.6,525.2 218.7,533.1 218.8,536.9 218.9,538.2 219.1,542.0 219.2,543.0 219.3,544.1 219.4,545.1 219.5,544.3 219.6,544.8 219.8,544.7 219.9,547.2 220.0,546.2 220.1,544.5 220.2,547.8 220.3,546.7 220.5,548.1 220.6,546.4 220.7,546.6 220.8,547.0 220.9,547.8 221.1,547.5 221.2,545.1 221.3,545.1 221.4,547.6 221.5,547.9 221.6,548.8 221.8,546.9 221.9,546.1 222.0,547.4 222.1,547.3 222.2,546.8 222.3,546.9 222.5,548.0 222.6,547.5 222.7,547.6 222.8,547.1 222.9,547.1 223.0,546.8 223.2,546.4 223.3,547.3 223.4,545.0 223.5,546.0 223.6,547.4 223.7,545.2 223.9,545.5 224.0,546.9 224.1,547.0 224.2,546.5 224.3,548.6 224.5,547.3 224.6,547.7 224.7,546.3 224.8,547.2 224.9,546.3 225.0,548.7 225.2,547.9 225.3,548.4 225.4,546.8 225.5,549.0 225.6,547.5 225.7,546.6 225.9,548.3 226.0,547.7 226.1,546.2 226.2,548.6 226.3,547.3 226.4,546.6 226.6,547.8 226.7,546.5 226.8,547.6 226.9,546.6 227.0,547.6 227.1,546.5 227.3,546.2 227.4,547.8 227.5,547.8 227.6,548.6 227.7,548.2 227.8,546.3 228.0,546.1 228.1,547.9 228.2,547.2 228.3,548.7 228.4,548.3 228.6,549.3 228.7,545.7 228.8,546.4 228.9,548.2 229.0,547.7 229.1,545.1 229.3,546.0 229.4,545.8 229.5,547.8 229.6,549.0 229.7,548.0 229.8,548.2 230.0,548.8 230.1,547.2 230.2,545.7 230.3,548.5 230.4,545.5 230.5,546.2 230.7,549.2 230.8,546.8 230.9,547.7 231.0,548.1 231.1,548.3 231.2,548.6 231.4,548.1 231.5,547.4 231.6,546.4 231.7,548.4 231.8,546.6 232.0,549.1 232.1,548.9 232.2,546.6 232.3,547.7 232.4,547.3 232.5,545.8 232.7,546.1 232.8,546.5 232.9,546.3 233.0,545.5 233.1,546.0 233.2,546.0 233.4,547.8 233.5,548.1 233.6,545.8 233.7,548.4 233.8,547.7 233.9,545.9 234.1,546.5 234.2,547.1 234.3,546.5 234.4,546.3 234.5,545.5 234.6,546.1 234.8,546.8 234.9,548.0 235.0,545.5 235.1,548.2 235.2,544.9 235.4,545.8 235.5,545.5 235.6,545.0 235.7,546.5 235.8,546.0 235.9,547.5 236.1,546.0 236.2,548.5 236.3,547.9 236.4,545.5 236.5,546.5 236.6,546.8 236.8,546.2 236.9,547.1 237.0,546.6 237.1,547.8 237.2,547.4 237.3,545.4 237.5,545.0 237.6,545.2 237.7,544.5 237.8,544.1 237.9,544.7 238.0,545.3 238.2,543.8 238.3,541.5 238.4,538.6 238.5,538.2 238.6,536.4 238.7,535.5 238.9,532.9 238.9,532.5 239.1,535.6 239.2,536.1 239.3,539.2 239.5,538.4 239.6,541.5 239.7,543.6 239.8,543.3 239.9,544.0 240.0,547.4 240.2,545.3 240.3,546.8 240.4,545.3 240.5,547.3 240.6,545.5 240.7,545.7 240.9,546.0 241.0,547.0 241.1,545.1 241.2,547.6 241.3,546.3 241.4,546.5 241.6,546.4 241.7,546.7 241.8,546.8 241.9,546.9 242.0,544.8 242.1,548.3 242.3,549.1 242.4,548.4 242.5,546.4 242.6,546.6 242.7,544.4 242.9,545.4 243.0,546.8 243.1,547.7 243.2,547.2 243.3,548.3 243.4,545.0 243.6,545.2 243.7,546.6 243.8,545.6 243.9,546.6 244.0,545.4 244.1,547.1 244.3,545.4 244.4,548.0 244.5,547.3 244.6,546.9 244.7,546.6 244.8,546.0 245.0,547.7 245.1,546.6 245.2,547.1 245.3,547.0 245.4,548.5 245.5,547.8 245.7,546.4 245.8,547.5 245.9,546.9 246.0,548.4 246.1,546.6 246.2,545.9 246.4,545.3 246.5,547.1 246.6,546.4 246.7,547.2 246.8,547.1 247.0,547.4 247.1,547.3 247.2,546.0 247.3,545.5 247.4,546.2 247.5,546.1 247.7,548.2 247.8,546.4 247.9,546.7 248.0,549.0 248.1,545.5 248.2,549.1 248.4,548.9 248.5,547.5 248.6,549.3 248.7,548.0 248.8,545.9 248.9,545.6 249.1,545.5 249.2,546.0 249.3,547.0 249.4,547.2 249.5,546.4 249.6,547.4 249.8,545.8 249.9,545.9 250.0,546.0 250.1,547.6 250.2,547.9 250.4,548.8 250.5,546.8 250.6,547.9 250.7,546.9 250.8,547.4 250.9,548.7 251.1,545.9 251.2,545.3 251.3,547.5 251.4,545.2 251.5,545.7 251.6,546.9 251.8,545.7 251.9,547.2 252.0,546.0 252.1,546.7 252.2,545.6 252.3,546.9 252.5,547.1 252.6,548.2 252.7,548.8 252.8,547.2 252.9,546.6 253.0,547.4 253.2,548.0 253.3,546.8 253.4,548.7 253.5,548.3 253.6,548.3 253.8,545.6 253.9,546.8 254.0,546.9 254.1,548.0 254.2,547.6 254.3,548.0 254.5,546.0 254.6,545.1 254.7,547.6 254.8,546.5 254.9,548.0 255.0,547.2 255.2,546.2 255.3,548.0 255.4,548.6 255.5,547.5 255.6,546.2 255.7,548.3 255.9,546.6 256.0,548.7 256.1,547.2 256.2,548.1 256.3,548.3 256.4,547.6 256.6,546.7 256.7,545.3 256.8,548.5 256.9,547.1 257.0,547.4 257.1,545.9 257.3,548.3 257.4,545.8 257.5,548.6 257.6,548.9 257.7,547.4 257.9,546.7 258.0,546.3 258.1,545.4 258.2,547.0 258.3,546.8 258.4,546.2 258.6,546.9 258.7,546.9 258.8,545.1 258.9,548.4 259.0,548.0 259.1,545.9 259.3,547.3 259.4,547.2 259.5,545.2 259.6,547.2 259.7,547.8 259.8,546.3 260.0,547.2 260.1,546.1 260.2,546.8 260.3,547.4 260.4,546.3 260.5,547.0 260.7,546.9 260.8,547.3 260.9,546.1 261.0,547.9 261.1,548.0 261.3,545.1 261.4,547.9 261.5,547.1 261.6,546.9 261.7,546.7 261.8,549.0 262.0,548.0 262.1,548.3 262.2,548.0 262.3,548.3 262.4,546.2 262.5,548.4 262.7,546.1 262.8,547.9 262.9,545.4 263.0,547.2 263.1,545.8 263.2,544.8 263.4,548.0 263.5,548.0 263.6,546.3 263.7,546.4 263.8,546.9 263.9,545.7 264.1,545.8 264.2,545.4 264.3,547.1 264.4,545.8 264.5,548.3 264.7,545.7 264.8,545.8 264.9,548.3 265.0,546.8 265.1,548.1 265.2,545.7 265.4,545.2 265.5,547.3 265.6,547.1 265.7,547.4 265.8,545.5 265.9,547.4 266.1,547.2 266.2,547.3 266.3,548.0 266.4,546.0 266.5,546.8 266.6,547.1 266.8,547.9 266.9,547.5 267.0,547.0 267.1,547.5 267.2,548.4 267.3,545.4 267.5,547.8 267.6,545.9 267.7,547.4 267.8,548.7 267.9,547.1 268.0,549.0 268.2,548.1 268.3,547.5 268.4,546.5 268.5,547.9 268.6,546.3 268.8,546.9 268.9,548.8 269.0,547.4 269.1,546.6 269.2,547.4 269.3,548.4 269.5,546.5 269.6,547.8 269.7,548.0 269.8,548.0 269.9,547.9 270.0,546.3 270.2,546.5 270.3,545.6 270.4,545.1 270.5,548.7 270.6,545.3 270.7,547.5 270.9,547.4 271.0,548.1 271.1,545.6 271.2,547.7 271.3,548.2 271.4,545.9 271.6,545.8 271.7,547.1 271.8,546.9 271.9,545.3 272.0,548.3 272.2,546.9 272.3,545.8 272.4,547.6 272.5,548.0 272.6,547.2 272.7,546.4 272.9,548.2 273.0,547.9 273.1,549.2 273.2,545.6 273.3,547.6 273.4,545.5 273.6,546.4 273.7,547.2 273.8,546.0 273.9,548.7 274.0,545.4 274.1,546.8 274.3,548.3 274.4,548.4 274.5,547.3 274.6,545.1 274.7,548.7 274.8,547.9 275.0,544.9 275.1,548.1 275.2,547.6 275.3,546.3 275.4,545.4 275.6,547.1 275.7,544.5 275.8,548.2 275.9,545.5 276.0,547.4 276.1,545.8 276.3,546.6 276.4,547.7 276.5,545.8 276.6,545.8 276.7,545.3 276.8,545.5 277.0,544.6 277.1,545.7 277.2,546.4 277.3,545.9 277.4,547.2 277.5,547.0 277.7,545.4 277.8,547.3 277.9,545.5 278.0,547.1 278.1,546.4 278.2,548.0 278.4,545.2 278.5,545.7 278.6,547.2 278.7,546.1 278.8,548.7 278.9,546.9 279.1,548.0 279.2,546.3 279.3,545.0 279.4,547.3 279.5,547.0 279.7,544.7 279.8,546.4 279.9,546.4 280.0,547.9 280.1,546.9 280.2,547.8 280.4,546.9 280.5,545.2 280.6,545.8 280.7,546.1 280.8,546.7 280.9,546.7 281.1,546.8 281.2,545.7 281.3,548.1 281.4,545.3 281.5,548.4 281.6,546.0 281.8,545.9 281.9,545.6 282.0,547.8 282.1,548.1 282.2,547.6 282.3,546.6 282.5,546.0 282.6,548.4 282.7,547.9 282.8,548.4 282.9,546.9 283.1,547.3 283.2,548.3 283.3,547.7 283.4,545.8 283.5,546.6 283.6,543.5 283.8,546.8 283.9,545.5 284.0,544.3 284.1,545.3 284.2,544.6 284.3,543.1 284.5,543.6 284.6,544.2 284.7,544.4 284.8,545.8 284.9,547.4 285.0,546.6 285.2,544.5 285.3,547.9 285.4,547.0 285.5,544.3 285.6,547.5 285.7,544.7 285.9,548.1 286.0,548.8 286.1,547.1 286.2,548.0 286.3,547.5 286.4,546.4 286.6,548.1 286.7,546.2 286.8,545.6 286.9,546.2 287.0,545.5 287.2,548.1 287.3,545.4 287.4,547.1 287.5,546.4 287.6,546.7 287.7,545.6 287.9,547.0 288.0,548.4 288.1,546.0 288.2,545.3 288.3,547.0 288.4,546.7 288.6,548.2 288.7,548.3 288.8,545.3 288.9,548.5 289.0,546.3 289.1,546.9 289.3,548.0 289.4,547.5 289.5,546.1 289.6,549.1 289.7,546.6 289.8,548.8 290.0,545.8 290.1,545.4 290.2,545.2 290.3,546.0 290.4,544.6 290.6,546.6 290.7,544.9 290.8,548.5 290.9,546.4 291.0,548.9 291.1,546.7 291.3,545.3 291.4,546.5 291.5,545.1 291.6,546.8 291.7,548.5 291.8,548.0 292.0,547.8 292.1,548.9 292.2,547.0 292.3,547.6 292.4,545.6 292.5,547.0 292.7,547.2 292.8,547.8 292.9,548.0 293.0,545.9 293.1,547.5 293.2,547.0 293.4,547.7 293.5,547.8 293.6,547.9 293.7,547.8 293.8,546.7 294.0,546.5 294.1,546.6 294.2,544.9 294.3,545.4 294.4,548.5 294.5,545.8 294.7,545.7 294.8,548.3 294.9,546.4 295.0,548.4 295.1,547.3 295.2,545.6 295.4,548.2 295.5,546.2 295.6,547.3 295.7,548.8 295.8,548.1 295.9,545.7 296.1,546.2 296.2,548.6 296.3,549.5 296.4,546.9 296.5,544.7 296.6,546.2 296.8,545.2 296.9,547.6 297.0,547.9 297.1,546.6 297.2,548.4 297.3,545.7 297.5,547.3 297.6,548.2 297.7,544.7 297.8,548.5 297.9,547.6 298.1,548.2 298.2,548.6 298.3,547.7 298.4,545.6 298.5,545.1 298.6,545.3 298.8,546.5 298.9,548.0 299.0,546.1 299.1,545.3 299.2,546.5 299.3,547.8 299.5,547.9 299.6,545.6 299.7,547.1 299.8,545.4 299.9,546.8 300.0,548.7 300.2,545.9 300.3,548.0 300.4,546.7 300.5,548.2 300.6,547.4 300.7,544.7 300.9,546.0 301.0,544.8 301.1,547.2 301.2,545.3 301.3,549.0 301.5,546.1 301.6,547.4 301.7,547.8 301.8,545.4 301.9,545.6 302.0,546.3 302.2,547.8 302.3,545.4 302.4,545.3 302.5,547.6 302.6,547.9 302.7,547.1 302.9,547.3 303.0,548.5 303.1,545.3 303.2,546.1 303.3,548.2 303.4,549.0 303.6,548.2 303.7,547.8 303.8,548.4 303.9,548.3 304.0,547.5 304.1,546.2 304.3,548.2 304.4,547.3 304.5,545.7 304.6,548.6 304.7,547.2 304.9,545.7 305.0,547.9 305.1,546.7 305.2,548.4 305.3,547.5 305.4,545.9 305.6,547.6 305.7,545.9 305.8,546.5 305.9,548.0 306.0,545.8 306.1,548.4 306.3,546.5 306.4,545.4 306.5,547.3 306.6,545.8 306.7,548.8 306.8,549.1 307.0,548.0 307.1,546.4 307.2,545.9 307.3,548.8 307.4,545.8 307.5,547.9 307.7,546.2 307.8,547.8 307.9,547.0 308.0,547.6 308.1,545.5 308.2,545.8 308.4,549.5 308.5,545.9 308.6,549.5 308.7,545.9 308.8,547.5 309.0,548.5 309.1,547.4 309.2,549.5 309.3,545.8 309.4,545.7 309.5,547.6 309.7,548.8 309.8,547.4 309.9,547.4 310.0,547.4 310.1,546.1 310.2,546.1 310.4,548.7 310.5,546.3 310.6,546.4 310.7,546.8 310.8,545.7 310.9,547.0 311.1,546.7 311.2,546.8 311.3,548.1 311.4,548.0 311.5,546.8 311.6,546.8 311.8,547.9 311.9,546.7 312.0,547.4 312.1,545.4 312.2,546.4 312.4,545.8 312.5,546.6 312.6,545.5 312.7,545.1 312.8,547.3 312.9,545.1 313.1,545.8 313.2,547.5 313.3,547.7 313.4,546.8 313.5,546.1 313.6,544.9 313.8,545.2 313.9,546.8 314.0,547.1 314.1,546.3 314.2,548.5 314.3,547.7 314.5,547.5 314.6,545.2 314.7,545.7 314.8,547.8 314.9,547.9 315.0,546.0 315.2,546.3 315.3,546.4 315.4,547.7 315.5,546.9 315.6,546.3 315.7,546.4 315.9,544.9 316.0,547.0 316.1,545.8 316.2,544.9 316.3,548.2 316.5,545.6 316.6,546.1 316.7,544.2 316.8,545.3 316.9,546.2 317.0,546.6 317.2,545.2 317.3,544.1 317.4,540.4 317.5,539.4 317.6,543.5 317.7,543.5 317.9,544.9 318.0,543.4 318.1,544.0 318.2,545.6 318.3,546.5 318.4,546.4 318.6,545.1 318.7,546.6 318.8,544.8 318.9,545.6 319.0,545.8 319.1,549.0" fill="none" stroke="#e9117f" stroke-width="1.1" stroke-linejoin="round"/>
<line x1="56.0" y1="324.4" x2="56.0" y2="554.9" stroke="#888" stroke-width="1.7"/>
<line x1="51.4" y1="554.1" x2="334.3" y2="554.1" stroke="#666" stroke-width="1.5"/>
<line x1="51.4" y1="554.1" x2="56.0" y2="554.1" stroke="#333" stroke-width="1"/>
<text x="48.9" y="558.5" font-size="14.6" fill="#e9117f" text-anchor="end" font-weight="bold" stroke="#e9117f" stroke-width="0.3">0</text>
<line x1="53.5" y1="541.4" x2="56.0" y2="541.4" stroke="#333" stroke-width="1"/>
<line x1="51.4" y1="528.6" x2="56.0" y2="528.6" stroke="#333" stroke-width="1"/>
<text x="48.9" y="533.0" font-size="14.6" fill="#e9117f" text-anchor="end" font-weight="bold" stroke="#e9117f" stroke-width="0.3">250</text>
<line x1="53.5" y1="515.9" x2="56.0" y2="515.9" stroke="#333" stroke-width="1"/>
<line x1="51.4" y1="503.2" x2="56.0" y2="503.2" stroke="#333" stroke-width="1"/>
<text x="48.9" y="507.5" font-size="14.6" fill="#e9117f" text-anchor="end" font-weight="bold" stroke="#e9117f" stroke-width="0.3">500</text>
<line x1="53.5" y1="490.4" x2="56.0" y2="490.4" stroke="#333" stroke-width="1"/>
<line x1="51.4" y1="477.7" x2="56.0" y2="477.7" stroke="#333" stroke-width="1"/>
<text x="48.9" y="482.1" font-size="14.6" fill="#e9117f" text-anchor="end" font-weight="bold" stroke="#e9117f" stroke-width="0.3">750</text>
<line x1="53.5" y1="465.0" x2="56.0" y2="465.0" stroke="#333" stroke-width="1"/>
<line x1="51.4" y1="452.2" x2="56.0" y2="452.2" stroke="#333" stroke-width="1"/>
<text x="48.9" y="456.6" font-size="14.6" fill="#e9117f" text-anchor="end" font-weight="bold" stroke="#e9117f" stroke-width="0.3">1000</text>
<line x1="53.5" y1="439.5" x2="56.0" y2="439.5" stroke="#333" stroke-width="1"/>
<line x1="51.4" y1="426.8" x2="56.0" y2="426.8" stroke="#333" stroke-width="1"/>
<text x="48.9" y="431.1" font-size="14.6" fill="#e9117f" text-anchor="end" font-weight="bold" stroke="#e9117f" stroke-width="0.3">1250</text>
<line x1="53.5" y1="414.0" x2="56.0" y2="414.0" stroke="#333" stroke-width="1"/>
<line x1="51.4" y1="401.3" x2="56.0" y2="401.3" stroke="#333" stroke-width="1"/>
<text x="48.9" y="405.7" font-size="14.6" fill="#e9117f" text-anchor="end" font-weight="bold" stroke="#e9117f" stroke-width="0.3">1500</text>
<line x1="53.5" y1="388.5" x2="56.0" y2="388.5" stroke="#333" stroke-width="1"/>
<line x1="51.4" y1="375.8" x2="56.0" y2="375.8" stroke="#333" stroke-width="1"/>
<text x="48.9" y="380.2" font-size="14.6" fill="#e9117f" text-anchor="end" font-weight="bold" stroke="#e9117f" stroke-width="0.3">1750</text>
<line x1="53.5" y1="363.1" x2="56.0" y2="363.1" stroke="#333" stroke-width="1"/>
<line x1="51.4" y1="350.3" x2="56.0" y2="350.3" stroke="#333" stroke-width="1"/>
<text x="48.9" y="354.7" font-size="14.6" fill="#e9117f" text-anchor="end" font-weight="bold" stroke="#e9117f" stroke-width="0.3">2000</text>
<line x1="53.5" y1="337.6" x2="56.0" y2="337.6" stroke="#333" stroke-width="1"/>
<line x1="51.4" y1="324.9" x2="56.0" y2="324.9" stroke="#333" stroke-width="1"/>
<text x="48.9" y="329.2" font-size="14.6" fill="#e9117f" text-anchor="end" font-weight="bold" stroke="#e9117f" stroke-width="0.3">2250</text>
<line x1="55.8" y1="554.1" x2="55.8" y2="558.3" stroke="#333" stroke-width="1"/>
<text x="55.8" y="572.8" font-size="14.6" fill="#e9117f" text-anchor="middle" font-weight="bold" stroke="#e9117f" stroke-width="0.3">10</text>
<line x1="70.5" y1="554.1" x2="70.5" y2="556.4" stroke="#333" stroke-width="1"/>
<line x1="85.1" y1="554.1" x2="85.1" y2="558.3" stroke="#333" stroke-width="1"/>
<text x="85.1" y="572.8" font-size="14.6" fill="#e9117f" text-anchor="middle" font-weight="bold" stroke="#e9117f" stroke-width="0.3">20</text>
<line x1="99.8" y1="554.1" x2="99.8" y2="556.4" stroke="#333" stroke-width="1"/>
<line x1="114.4" y1="554.1" x2="114.4" y2="558.3" stroke="#333" stroke-width="1"/>
<text x="114.4" y="572.8" font-size="14.6" fill="#e9117f" text-anchor="middle" font-weight="bold" stroke="#e9117f" stroke-width="0.3">30</text>
<line x1="129.1" y1="554.1" x2="129.1" y2="556.4" stroke="#333" stroke-width="1"/>
<line x1="143.7" y1="554.1" x2="143.7" y2="558.3" stroke="#333" stroke-width="1"/>
<text x="143.7" y="572.8" font-size="14.6" fill="#e9117f" text-anchor="middle" font-weight="bold" stroke="#e9117f" stroke-width="0.3">40</text>
<line x1="158.3" y1="554.1" x2="158.3" y2="556.4" stroke="#333" stroke-width="1"/>
<line x1="173.0" y1="554.1" x2="173.0" y2="558.3" stroke="#333" stroke-width="1"/>
<text x="173.0" y="572.8" font-size="14.6" fill="#e9117f" text-anchor="middle" font-weight="bold" stroke="#e9117f" stroke-width="0.3">50</text>
<line x1="187.6" y1="554.1" x2="187.6" y2="556.4" stroke="#333" stroke-width="1"/>
<line x1="202.3" y1="554.1" x2="202.3" y2="558.3" stroke="#333" stroke-width="1"/>
<text x="202.3" y="572.8" font-size="14.6" fill="#e9117f" text-anchor="middle" font-weight="bold" stroke="#e9117f" stroke-width="0.3">60</text>
<line x1="216.9" y1="554.1" x2="216.9" y2="556.4" stroke="#333" stroke-width="1"/>
<line x1="231.6" y1="554.1" x2="231.6" y2="558.3" stroke="#333" stroke-width="1"/>
<text x="231.6" y="572.8" font-size="14.6" fill="#e9117f" text-anchor="middle" font-weight="bold" stroke="#e9117f" stroke-width="0.3">70</text>
<line x1="246.2" y1="554.1" x2="246.2" y2="556.4" stroke="#333" stroke-width="1"/>
<line x1="260.9" y1="554.1" x2="260.9" y2="558.3" stroke="#333" stroke-width="1"/>
<text x="260.9" y="572.8" font-size="14.6" fill="#e9117f" text-anchor="middle" font-weight="bold" stroke="#e9117f" stroke-width="0.3">80</text>
<line x1="275.6" y1="554.1" x2="275.6" y2="556.4" stroke="#333" stroke-width="1"/>
<line x1="290.2" y1="554.1" x2="290.2" y2="558.3" stroke="#333" stroke-width="1"/>
<text x="290.2" y="572.8" font-size="14.6" fill="#e9117f" text-anchor="middle" font-weight="bold" stroke="#e9117f" stroke-width="0.3">90</text>
<line x1="304.9" y1="554.1" x2="304.9" y2="556.4" stroke="#333" stroke-width="1"/>
<line x1="319.5" y1="554.1" x2="319.5" y2="558.3" stroke="#333" stroke-width="1"/>
<text x="319.5" y="572.8" font-size="14.6" fill="#e9117f" text-anchor="middle" font-weight="bold" stroke="#e9117f" stroke-width="0.3">100</text>
<line x1="334.2" y1="554.1" x2="334.2" y2="556.4" stroke="#333" stroke-width="1"/>
<text transform="translate(11.5,439.2) rotate(-90)" font-size="14.5" fill="#e9117f" stroke="#e9117f" stroke-width="0.3" font-weight="bold" text-anchor="middle" textLength="98.4" lengthAdjust="spacingAndGlyphs">Intensity counts</text>
<text x="192.2" y="592.2" font-size="14" fill="#e9117f" text-anchor="middle" font-weight="bold" stroke="#e9117f" stroke-width="0.3" textLength="57.1" lengthAdjust="spacingAndGlyphs">Angle, 2<tspan font-weight="normal">θ</tspan></text>
<text x="113.6" y="623.2" font-size="18" fill="#1a1a1a" textLength="102.2" lengthAdjust="spacingAndGlyphs">(c) <tspan fill="#e0201b">Sample S2</tspan></text>
<text x="95.9" y="485.7" font-size="14" fill="#111" stroke="#111" stroke-width="0.3" font-weight="bold">B<tspan font-size="9.5" dy="3.8">4</tspan><tspan dy="-3.8">C</tspan></text>
<text x="64.5" y="532.3" font-size="14" fill="#111" stroke="#111" stroke-width="0.3" font-weight="bold">B<tspan font-size="9.5" dy="3.8">4</tspan><tspan dy="-3.8">C</tspan></text>
<text x="104.1" y="527.4" font-size="14" fill="#111" text-anchor="start" font-weight="bold" stroke="#111" stroke-width="0.3">Gr</text>
<text x="164.0" y="531.2" font-size="14" fill="#111" text-anchor="start" font-weight="bold" stroke="#111" stroke-width="0.3">Cu</text>
<text x="122.9" y="358.9" font-size="14" fill="#111" text-anchor="start" font-weight="bold" stroke="#111" stroke-width="0.3">Al</text>
<text x="161.0" y="451.8" font-size="14" fill="#111" text-anchor="start" font-weight="bold" stroke="#111" stroke-width="0.3">Al</text>
<text x="222.2" y="463.7" font-size="14" fill="#111" stroke="#111" stroke-width="0.3" font-weight="bold">B<tspan font-size="9.5" dy="3.8">4</tspan><tspan dy="-3.8">C</tspan></text>
<polyline points="434.1,540.4 434.2,540.9 434.3,538.7 434.5,539.0 434.6,539.8 434.7,540.7 434.8,540.9 434.9,538.8 435.0,539.1 435.2,541.1 435.3,539.7 435.4,539.1 435.5,539.7 435.6,539.6 435.7,540.3 435.9,541.4 436.0,539.7 436.1,540.7 436.2,538.9 436.3,539.2 436.4,540.1 436.6,540.5 436.7,539.3 436.8,541.3 436.9,540.5 437.0,539.8 437.1,538.8 437.3,541.0 437.4,539.9 437.5,540.8 437.6,540.9 437.7,540.0 437.9,541.3 438.0,540.9 438.1,540.9 438.2,540.9 438.3,541.6 438.4,539.6 438.6,539.2 438.7,539.0 438.8,538.8 438.9,539.4 439.0,540.2 439.1,539.4 439.3,540.5 439.4,541.2 439.5,541.1 439.6,541.6 439.7,539.3 439.8,540.5 440.0,538.9 440.1,540.4 440.2,541.5 440.3,541.1 440.4,541.6 440.5,540.5 440.7,541.5 440.8,539.7 440.9,538.6 441.0,540.3 441.1,541.6 441.2,540.4 441.4,539.3 441.5,539.9 441.6,540.6 441.7,540.8 441.8,541.1 442.0,541.1 442.1,538.4 442.2,540.4 442.3,539.2 442.4,539.6 442.5,541.2 442.7,539.4 442.8,540.6 442.9,540.0 443.0,539.5 443.1,540.6 443.2,541.4 443.4,539.8 443.5,539.4 443.6,539.4 443.7,539.6 443.8,541.7 443.9,541.6 444.1,541.4 444.2,540.0 444.3,539.6 444.4,539.5 444.5,542.0 444.6,539.7 444.8,539.8 444.9,539.4 445.0,541.5 445.1,539.6 445.2,540.0 445.4,542.3 445.5,542.1 445.6,539.9 445.7,540.6 445.8,540.0 445.9,540.5 446.1,539.3 446.2,541.5 446.3,539.8 446.4,541.2 446.5,539.3 446.6,541.5 446.8,539.2 446.9,540.2 447.0,539.9 447.1,541.7 447.2,541.0 447.3,539.7 447.5,541.9 447.6,539.6 447.7,540.6 447.8,541.0 447.9,540.4 448.0,542.4 448.2,541.0 448.3,540.1 448.4,541.5 448.5,539.8 448.6,539.6 448.8,540.2 448.9,541.3 449.0,539.8 449.1,541.8 449.2,540.0 449.3,541.0 449.5,542.1 449.6,540.5 449.7,542.1 449.8,540.0 449.9,541.7 450.0,540.4 450.2,541.2 450.3,541.1 450.4,539.6 450.5,541.2 450.6,541.0 450.7,539.2 450.9,539.6 451.0,539.2 451.1,541.9 451.2,540.8 451.3,539.8 451.4,542.0 451.6,540.9 451.7,541.0 451.8,540.5 451.9,541.6 452.0,540.5 452.1,541.1 452.3,541.5 452.4,539.5 452.5,539.5 452.6,539.9 452.7,541.3 452.9,541.6 453.0,540.6 453.1,541.2 453.2,539.7 453.3,542.2 453.4,539.6 453.6,540.2 453.7,541.1 453.8,541.2 453.9,539.2 454.0,541.2 454.1,541.3 454.3,541.7 454.4,539.4 454.5,539.1 454.6,541.4 454.7,541.9 454.8,542.0 455.0,541.9 455.1,539.1 455.2,540.0 455.3,539.4 455.4,539.3 455.5,540.1 455.7,540.2 455.8,540.6 455.9,539.7 456.0,540.5 456.1,539.1 456.3,540.7 456.4,539.1 456.5,540.3 456.6,541.2 456.7,538.5 456.8,539.9 457.0,539.9 457.1,539.4 457.2,538.8 457.3,539.9 457.4,537.7 457.5,536.8 457.7,536.5 457.8,536.7 457.9,536.5 458.0,534.8 458.1,535.6 458.2,534.1 458.4,534.5 458.5,530.1 458.6,527.9 458.7,524.3 458.8,519.8 458.9,512.0 459.1,505.2 459.2,498.3 459.3,491.2 459.4,487.0 459.5,484.3 459.6,487.9 459.8,495.3 459.9,501.6 460.0,508.7 460.1,515.2 460.2,521.2 460.4,525.4 460.5,529.2 460.6,531.3 460.7,535.0 460.8,535.5 460.9,534.8 461.1,537.2 461.2,537.9 461.3,538.2 461.4,536.9 461.5,539.0 461.6,538.5 461.8,539.3 461.9,540.4 462.0,537.9 462.1,539.9 462.2,539.0 462.3,538.7 462.5,540.6 462.6,539.7 462.7,540.3 462.8,538.6 462.9,540.8 463.0,538.2 463.2,540.6 463.3,538.6 463.4,540.2 463.5,541.7 463.6,539.2 463.8,541.3 463.9,541.5 464.0,538.7 464.1,539.8 464.2,538.9 464.3,540.8 464.5,539.3 464.6,540.7 464.7,540.8 464.8,540.5 464.9,538.7 465.0,539.0 465.2,541.5 465.3,539.2 465.4,539.5 465.5,539.0 465.6,539.7 465.7,541.7 465.9,541.8 466.0,540.6 466.1,540.4 466.2,539.8 466.3,539.8 466.4,541.3 466.6,541.3 466.7,540.3 466.8,541.2 466.9,539.7 467.0,541.5 467.2,541.8 467.3,541.8 467.4,539.8 467.5,538.9 467.6,541.0 467.7,539.9 467.9,541.0 468.0,540.7 468.1,541.8 468.2,542.0 468.3,540.8 468.4,542.1 468.6,539.8 468.7,540.7 468.8,541.4 468.9,540.3 469.0,540.2 469.1,542.4 469.3,542.3 469.4,542.3 469.5,541.0 469.6,541.2 469.7,541.2 469.8,540.4 470.0,540.1 470.1,542.0 470.2,541.1 470.3,541.3 470.4,540.9 470.5,542.0 470.7,539.3 470.8,541.9 470.9,542.2 471.0,540.2 471.1,539.7 471.3,540.1 471.4,541.8 471.5,542.4 471.6,542.3 471.7,541.3 471.8,539.8 472.0,539.6 472.1,542.2 472.2,540.5 472.3,541.7 472.4,541.0 472.5,539.4 472.7,541.2 472.8,539.4 472.9,541.8 473.0,539.0 473.1,542.2 473.2,540.6 473.4,540.9 473.5,540.0 473.6,540.0 473.7,540.2 473.8,542.0 473.9,542.0 474.1,540.0 474.2,541.5 474.3,540.4 474.4,541.7 474.5,539.1 474.7,540.2 474.8,540.4 474.9,539.7 475.0,540.3 475.1,540.2 475.2,541.6 475.4,540.9 475.5,540.7 475.6,539.6 475.7,540.4 475.8,541.1 475.9,541.9 476.1,541.8 476.2,541.5 476.3,541.4 476.4,541.0 476.5,539.7 476.6,540.0 476.8,541.9 476.9,541.8 477.0,542.0 477.1,539.6 477.2,540.2 477.3,541.3 477.5,540.8 477.6,540.8 477.7,541.2 477.8,541.7 477.9,541.8 478.1,542.1 478.2,539.8 478.3,540.4 478.4,540.9 478.5,540.0 478.6,539.6 478.8,540.3 478.9,541.2 479.0,540.2 479.1,541.2 479.2,541.6 479.3,541.7 479.5,540.7 479.6,539.5 479.7,541.5 479.8,541.4 479.9,540.1 480.0,539.6 480.2,539.0 480.3,540.5 480.4,540.1 480.5,540.1 480.6,539.5 480.7,542.1 480.9,539.4 481.0,541.5 481.1,541.8 481.2,541.6 481.3,541.2 481.4,542.3 481.6,539.7 481.7,539.7 481.8,540.5 481.9,541.5 482.0,541.1 482.2,540.5 482.3,539.8 482.4,539.2 482.5,538.8 482.6,540.5 482.7,540.3 482.9,539.2 483.0,540.0 483.1,540.4 483.2,541.7 483.3,542.1 483.4,539.4 483.6,541.9 483.7,539.7 483.8,539.6 483.9,539.6 484.0,541.9 484.1,541.9 484.3,540.4 484.4,541.3 484.5,540.1 484.6,541.4 484.7,539.3 484.8,541.0 485.0,540.3 485.1,539.7 485.2,539.0 485.3,540.7 485.4,541.0 485.6,541.4 485.7,539.3 485.8,538.9 485.9,540.7 486.0,539.8 486.1,538.7 486.3,539.2 486.4,538.5 486.5,538.5 486.6,538.4 486.7,538.2 486.8,540.1 487.0,539.0 487.1,537.4 487.2,538.9 487.3,538.0 487.4,538.8 487.5,537.3 487.7,536.0 487.8,535.9 487.9,536.7 488.0,533.7 488.1,534.1 488.2,533.2 488.4,531.6 488.5,529.6 488.6,527.8 488.7,522.6 488.8,516.7 488.9,502.1 489.1,478.8 489.2,439.0 489.3,382.5 489.5,320.4 489.5,328.8 489.7,380.8 489.8,439.5 489.9,477.9 490.0,501.7 490.1,516.0 490.2,523.6 490.4,526.6 490.5,529.0 490.6,531.6 490.7,532.8 490.8,534.5 490.9,534.0 491.1,535.1 491.2,537.0 491.3,536.8 491.4,536.7 491.5,537.4 491.6,538.1 491.8,538.5 491.9,538.3 492.0,539.8 492.1,539.0 492.2,540.0 492.3,539.4 492.5,540.2 492.6,539.5 492.7,540.1 492.8,539.8 492.9,539.1 493.1,541.0 493.2,538.6 493.3,541.0 493.4,539.0 493.5,538.9 493.6,539.0 493.8,539.9 493.9,540.2 494.0,539.4 494.1,539.9 494.2,538.3 494.3,538.4 494.5,540.2 494.6,541.4 494.7,539.0 494.8,539.6 494.9,538.7 495.0,538.3 495.2,540.7 495.3,538.8 495.4,538.4 495.5,539.6 495.6,538.3 495.7,540.8 495.9,540.0 496.0,539.5 496.1,538.8 496.2,539.4 496.3,540.9 496.5,538.9 496.6,541.4 496.7,540.8 496.8,540.3 496.9,539.9 497.0,540.3 497.2,540.7 497.3,538.3 497.4,540.7 497.5,539.6 497.6,539.5 497.7,538.6 497.9,539.5 498.0,539.9 498.1,539.1 498.2,539.6 498.3,538.7 498.4,539.2 498.6,539.3 498.7,538.3 498.8,539.0 498.9,540.0 499.0,540.1 499.1,538.4 499.3,539.2 499.4,539.1 499.5,539.2 499.6,539.3 499.7,539.1 499.8,539.9 500.0,538.3 500.1,538.8 500.2,538.0 500.3,540.3 500.4,540.1 500.6,539.7 500.7,539.3 500.8,539.4 500.9,538.8 501.0,538.9 501.1,539.0 501.3,538.8 501.4,538.6 501.5,538.5 501.6,539.4 501.7,537.6 501.8,539.0 502.0,536.9 502.1,535.4 502.2,534.7 502.3,535.4 502.4,531.8 502.5,532.9 502.7,531.0 502.8,527.9 502.9,523.7 503.0,521.2 503.1,520.1 503.2,520.5 503.4,522.2 503.5,522.7 503.6,523.9 503.7,527.9 503.8,530.5 504.0,532.3 504.1,534.1 504.2,535.0 504.3,534.0 504.4,534.6 504.5,536.4 504.7,537.6 504.8,535.8 504.9,537.4 505.0,536.2 505.1,539.1 505.2,536.0 505.4,536.5 505.5,538.0 505.6,538.7 505.7,537.2 505.8,535.7 505.9,537.5 506.1,535.6 506.2,533.8 506.3,534.1 506.4,532.2 506.5,531.5 506.6,526.8 506.8,523.4 506.9,511.0 507.0,495.0 507.1,465.0 507.2,432.9 507.4,414.0 507.5,433.6 507.6,465.9 507.7,496.2 507.8,513.0 507.9,523.4 508.1,528.4 508.2,529.9 508.3,533.8 508.4,534.9 508.5,535.4 508.6,534.6 508.8,535.3 508.9,537.1 509.0,537.3 509.1,537.9 509.2,536.1 509.3,537.1 509.5,536.8 509.6,539.0 509.7,538.9 509.8,538.5 509.9,537.8 510.0,538.7 510.2,536.9 510.3,539.8 510.4,537.7 510.5,538.4 510.6,538.8 510.7,539.7 510.9,538.8 511.0,538.8 511.1,539.8 511.2,537.7 511.3,540.9 511.5,540.6 511.6,539.5 511.7,538.5 511.8,538.4 511.9,540.0 512.0,538.5 512.2,538.5 512.3,540.0 512.4,539.5 512.5,540.7 512.6,540.6 512.7,538.4 512.9,539.8 513.0,538.6 513.1,540.6 513.2,539.9 513.3,538.9 513.4,538.4 513.6,539.0 513.7,539.8 513.8,537.8 513.9,538.6 514.0,539.8 514.1,540.5 514.3,539.1 514.4,539.4 514.5,538.8 514.6,541.0 514.7,540.1 514.9,540.9 515.0,540.2 515.1,539.6 515.2,541.0 515.3,539.9 515.4,540.1 515.6,540.7 515.7,540.7 515.8,538.9 515.9,540.9 516.0,538.7 516.1,540.2 516.3,539.8 516.4,539.3 516.5,537.6 516.6,539.3 516.7,539.3 516.8,540.8 517.0,541.1 517.1,539.2 517.2,539.6 517.3,538.4 517.4,540.1 517.5,540.6 517.7,541.1 517.8,540.1 517.9,539.2 518.0,540.7 518.1,540.0 518.2,539.7 518.4,539.5 518.5,539.6 518.6,541.2 518.7,539.1 518.8,539.5 519.0,539.7 519.1,539.9 519.2,540.2 519.3,541.3 519.4,538.6 519.5,541.0 519.7,538.5 519.8,539.2 519.9,539.2 520.0,538.3 520.1,538.7 520.2,539.0 520.4,538.7 520.5,538.5 520.6,539.5 520.7,539.9 520.8,539.4 520.9,538.5 521.1,539.6 521.2,540.0 521.3,539.5 521.4,539.2 521.5,538.4 521.6,539.7 521.8,540.5 521.9,538.8 522.0,538.8 522.1,539.2 522.2,537.9 522.4,539.0 522.5,540.1 522.6,538.0 522.7,538.4 522.8,538.5 522.9,537.2 523.1,538.6 523.2,540.1 523.3,539.6 523.4,540.0 523.5,538.0 523.6,538.7 523.8,539.0 523.9,537.6 524.0,538.5 524.1,537.2 524.2,538.5 524.3,536.8 524.5,536.0 524.6,537.3 524.7,536.1 524.8,536.6 524.9,536.0 525.0,538.4 525.2,536.0 525.3,538.0 525.4,536.4 525.5,536.7 525.6,539.3 525.8,537.5 525.9,539.2 526.0,537.3 526.1,538.2 526.2,538.7 526.3,537.5 526.5,538.1 526.6,537.6 526.7,538.0 526.8,538.3 526.9,539.2 527.0,540.5 527.2,539.1 527.3,540.2 527.4,540.3 527.5,539.2 527.6,541.2 527.7,538.2 527.9,541.0 528.0,539.6 528.1,540.7 528.2,540.8 528.3,539.2 528.4,539.5 528.6,539.5 528.7,539.7 528.8,539.8 528.9,540.6 529.0,538.4 529.1,540.6 529.3,538.2 529.4,539.8 529.5,539.7 529.6,538.3 529.7,539.4 529.9,538.8 530.0,538.7 530.1,539.1 530.2,538.8 530.3,538.5 530.4,540.0 530.6,540.2 530.7,537.7 530.8,539.6 530.9,538.2 531.0,538.4 531.1,540.0 531.3,540.2 531.4,538.4 531.5,540.4 531.6,538.5 531.7,540.0 531.8,541.1 532.0,539.4 532.1,540.9 532.2,539.4 532.3,540.4 532.4,539.2 532.5,540.8 532.7,540.3 532.8,540.6 532.9,538.6 533.0,538.3 533.1,539.5 533.3,540.2 533.4,538.1 533.5,540.4 533.6,538.8 533.7,539.5 533.8,540.6 534.0,538.3 534.1,539.2 534.2,539.5 534.3,539.3 534.4,538.1 534.5,539.0 534.7,538.2 534.8,541.3 534.9,539.3 535.0,541.2 535.1,539.7 535.2,537.6 535.4,538.6 535.5,538.8 535.6,538.0 535.7,540.1 535.8,541.0 535.9,540.5 536.1,540.3 536.2,538.6 536.3,537.3 536.4,539.8 536.5,540.3 536.6,539.4 536.8,540.0 536.9,540.8 537.0,539.1 537.1,540.7 537.2,539.8 537.4,540.3 537.5,538.2 537.6,540.5 537.7,539.5 537.8,540.2 537.9,539.0 538.1,540.0 538.2,540.1 538.3,538.4 538.4,539.6 538.5,539.9 538.6,538.9 538.8,540.7 538.9,540.1 539.0,539.5 539.1,539.8 539.2,539.3 539.3,538.2 539.5,539.0 539.6,540.7 539.7,539.8 539.8,538.2 539.9,539.3 540.0,538.5 540.2,539.8 540.3,540.8 540.4,540.8 540.5,540.1 540.6,538.9 540.8,538.5 540.9,540.1 541.0,539.1 541.1,539.8 541.2,540.6 541.3,537.8 541.5,538.6 541.6,539.7 541.7,538.5 541.8,537.8 541.9,538.5 542.0,538.2 542.2,539.8 542.3,538.4 542.4,538.0 542.5,540.3 542.6,538.8 542.7,537.4 542.9,538.5 543.0,537.8 543.1,539.1 543.2,538.2 543.3,539.4 543.4,537.8 543.6,540.2 543.7,539.5 543.8,539.6 543.9,540.7 544.0,540.2 544.2,539.1 544.3,539.1 544.4,540.8 544.5,539.7 544.6,537.8 544.7,538.5 544.9,540.6 545.0,538.7 545.1,537.5 545.2,538.8 545.3,540.4 545.4,538.7 545.6,540.8 545.7,541.0 545.8,538.9 545.9,537.5 546.0,540.4 546.1,539.5 546.3,538.5 546.4,539.0 546.5,538.2 546.6,540.6 546.7,537.6 546.8,538.7 547.0,537.8 547.1,538.5 547.2,539.2 547.3,540.1 547.4,538.1 547.5,538.9 547.7,539.7 547.8,540.8 547.9,539.1 548.0,537.8 548.1,538.1 548.3,540.3 548.4,538.1 548.5,539.6 548.6,538.9 548.7,539.0 548.8,537.7 549.0,538.0 549.1,537.6 549.2,540.0 549.3,539.4 549.4,538.7 549.5,540.3 549.7,540.1 549.8,538.0 549.9,540.8 550.0,538.5 550.1,540.9 550.2,538.7 550.4,539.1 550.5,539.3 550.6,539.1 550.7,537.8 550.8,538.7 550.9,537.8 551.1,537.9 551.2,538.7 551.3,538.3 551.4,538.6 551.5,539.4 551.7,538.7 551.8,539.9 551.9,538.7 552.0,539.1 552.1,538.6 552.2,541.0 552.4,539.8 552.5,540.6 552.6,538.8 552.7,538.3 552.8,540.0 552.9,537.5 553.1,539.8 553.2,539.8 553.3,540.2 553.4,538.3 553.5,540.5 553.6,539.2 553.8,538.8 553.9,538.3 554.0,538.6 554.1,538.1 554.2,540.1 554.3,538.3 554.5,538.4 554.6,538.8 554.7,540.1 554.8,540.5 554.9,539.2 555.1,539.5 555.2,537.6 555.3,537.6 555.4,537.7 555.5,539.2 555.6,540.3 555.8,539.6 555.9,540.3 556.0,538.1 556.1,538.3 556.2,538.2 556.3,539.4 556.5,539.3 556.6,538.3 556.7,538.5 556.8,538.5 556.9,539.3 557.0,539.1 557.2,540.2 557.3,537.8 557.4,539.7 557.5,540.6 557.6,540.5 557.7,537.5 557.9,539.5 558.0,539.2 558.1,539.0 558.2,537.7 558.3,539.0 558.4,539.5 558.6,539.4 558.7,538.7 558.8,540.5 558.9,537.7 559.0,539.6 559.2,540.2 559.3,540.2 559.4,539.9 559.5,540.3 559.6,539.5 559.7,537.4 559.9,537.2 560.0,539.2 560.1,538.2 560.2,539.5 560.3,537.9 560.4,537.7 560.6,538.7 560.7,537.8 560.8,540.3 560.9,540.2 561.0,538.8 561.1,538.9 561.3,538.1 561.4,538.7 561.5,537.4 561.6,539.1 561.7,540.3 561.8,539.9 562.0,538.6 562.1,539.5 562.2,540.0 562.3,537.4 562.4,540.2 562.6,539.1 562.7,539.1 562.8,539.3 562.9,537.4 563.0,538.1 563.1,539.3 563.3,538.5 563.4,538.4 563.5,538.7 563.6,540.1 563.7,540.1 563.8,538.6 564.0,536.6 564.1,538.6 564.2,538.6 564.3,538.5 564.4,537.1 564.5,538.6 564.7,537.6 564.8,538.8 564.9,538.2 565.0,539.1 565.1,536.6 565.2,536.2 565.4,537.9 565.5,537.0 565.6,536.6 565.7,537.4 565.8,535.9 566.0,536.6 566.1,534.6 566.2,534.3 566.3,532.9 566.4,534.2 566.5,531.3 566.7,527.6 566.8,521.8 566.9,510.0 567.0,497.6 567.1,481.8 567.3,469.8 567.4,474.6 567.5,489.0 567.6,502.7 567.7,516.3 567.8,524.4 567.9,528.8 568.1,529.7 568.2,531.9 568.3,535.9 568.4,534.8 568.5,534.3 568.6,536.4 568.8,536.6 568.9,535.5 569.0,536.2 569.1,536.4 569.2,537.9 569.3,538.5 569.5,538.2 569.6,539.0 569.7,539.3 569.8,538.2 569.9,537.4 570.1,536.8 570.2,537.2 570.3,537.3 570.4,538.8 570.5,537.4 570.6,537.7 570.8,538.1 570.9,537.3 571.0,536.5 571.1,539.4 571.2,538.8 571.3,538.4 571.5,537.1 571.6,538.5 571.7,537.9 571.8,538.5 571.9,538.3 572.0,537.0 572.2,539.4 572.3,539.2 572.4,539.6 572.5,538.7 572.6,537.0 572.7,539.1 572.9,538.0 573.0,537.3 573.1,538.1 573.2,540.0 573.3,539.7 573.5,539.4 573.6,540.4 573.7,537.6 573.8,540.6 573.9,539.4 574.0,537.7 574.2,538.4 574.3,537.2 574.4,537.5 574.5,539.5 574.6,537.2 574.7,537.9 574.9,538.8 575.0,539.6 575.1,540.2 575.2,537.6 575.3,539.2 575.4,538.8 575.6,538.7 575.7,538.8 575.8,538.6 575.9,539.9 576.0,538.0 576.1,538.2 576.3,540.1 576.4,538.1 576.5,537.1 576.6,537.9 576.7,539.4 576.8,537.9 577.0,539.6 577.1,537.8 577.2,538.4 577.3,540.1 577.4,539.0 577.6,538.5 577.7,539.2 577.8,539.2 577.9,538.4 578.0,537.3 578.1,537.8 578.3,538.2 578.4,537.4 578.5,538.4 578.6,539.0 578.7,537.6 578.8,537.5 579.0,538.0 579.1,539.5 579.2,538.8 579.3,537.3 579.4,537.8 579.5,539.3 579.7,538.2 579.8,538.6 579.9,538.2 580.0,538.4 580.1,539.9 580.2,538.4 580.4,538.0 580.5,537.8 580.6,537.7 580.7,537.8 580.8,538.8 581.0,537.9 581.1,537.0 581.2,537.3 581.3,536.7 581.4,536.5 581.5,538.6 581.7,537.8 581.8,539.7 581.9,539.2 582.0,539.0 582.1,537.1 582.2,540.4 582.4,538.3 582.5,540.0 582.6,539.6 582.7,538.2 582.8,539.3 582.9,540.3 583.1,539.9 583.2,538.8 583.3,540.1 583.4,538.1 583.5,537.7 583.6,537.7 583.8,537.8 583.9,538.0 584.0,538.6 584.1,537.3 584.2,537.8 584.4,538.9 584.5,538.8 584.6,537.7 584.7,538.5 584.8,537.7 584.9,539.4 585.1,538.0 585.2,537.8 585.3,537.5 585.4,537.3 585.5,538.9 585.6,537.4 585.8,537.0 585.9,538.1 586.0,538.8 586.1,539.0 586.2,539.7 586.3,538.8 586.5,537.1 586.6,536.4 586.7,539.0 586.8,536.7 586.9,537.9 587.0,536.6 587.2,536.8 587.3,534.1 587.4,532.3 587.5,533.5 587.6,531.8 587.7,527.6 587.9,524.6 588.0,524.2 588.1,523.1 588.2,523.0 588.3,525.3 588.5,528.2 588.6,533.2 588.7,533.9 588.8,533.0 588.9,534.5 589.0,536.0 589.2,535.8 589.3,539.1 589.4,539.3 589.5,538.3 589.6,539.5 589.7,535.9 589.9,536.3 590.0,538.8 590.1,538.2 590.2,539.0 590.3,536.3 590.4,538.6 590.6,539.1 590.7,538.9 590.8,537.4 590.9,539.7 591.0,538.6 591.1,538.4 591.3,537.5 591.4,539.9 591.5,537.6 591.6,538.5 591.7,539.1 591.9,538.2 592.0,540.0 592.1,538.1 592.2,538.7 592.3,538.3 592.4,539.1 592.6,537.2 592.7,539.4 592.8,537.9 592.9,537.1 593.0,537.4 593.1,538.2 593.3,537.2 593.4,537.6 593.5,539.3 593.6,537.7 593.7,539.2 593.8,540.1 594.0,537.7 594.1,537.3 594.2,539.1 594.3,539.7 594.4,537.4 594.5,537.0 594.7,539.8 594.8,539.5 594.9,538.7 595.0,538.0 595.1,537.5 595.2,539.6 595.4,536.3 595.5,537.8 595.6,539.0 595.7,538.8 595.8,536.7 596.0,537.3 596.1,537.9 596.2,538.0 596.3,539.5 596.4,539.7 596.5,536.9 596.7,536.7 596.8,537.8 596.9,538.5 597.0,536.8 597.1,538.1 597.2,539.0 597.4,539.8 597.5,537.4 597.6,538.1 597.7,537.5 597.8,538.1 597.9,538.3 598.1,539.1 598.2,537.3 598.3,538.9 598.4,539.6 598.5,539.3 598.6,539.8 598.8,539.8 598.9,537.6 599.0,537.1 599.1,538.0 599.2,538.0 599.4,536.9 599.5,537.6 599.6,536.8 599.7,537.7 599.8,536.3 599.9,536.4 600.1,539.3 600.2,537.2 600.3,538.1 600.4,536.7 600.5,538.9 600.6,537.4 600.8,539.3 600.9,536.8 601.0,539.6 601.1,537.9 601.2,539.0 601.3,536.3 601.5,536.7 601.6,536.9 601.7,539.4 601.8,539.2 601.9,538.2 602.0,536.6 602.2,536.9 602.3,537.1 602.4,539.6 602.5,538.7 602.6,539.1 602.8,535.9 602.9,536.5 603.0,538.1 603.1,536.6 603.2,538.4 603.3,537.9 603.5,537.0 603.6,539.2 603.7,536.7 603.8,537.9 603.9,536.1 604.0,536.7 604.2,538.1 604.3,540.2 604.4,536.5 604.5,540.0 604.6,539.6 604.7,537.4 604.9,539.6 605.0,538.0 605.1,539.6 605.2,539.5 605.3,537.9 605.4,539.2 605.6,536.7 605.7,536.5 605.8,537.0 605.9,536.5 606.0,539.8 606.1,537.0 606.3,537.8 606.4,539.2 606.5,536.7 606.6,538.2 606.7,536.2 606.9,536.8 607.0,537.0 607.1,537.2 607.2,538.4 607.3,538.2 607.4,539.3 607.6,538.3 607.7,539.3 607.8,536.6 607.9,539.6 608.0,537.5 608.1,538.0 608.3,538.3 608.4,538.1 608.5,536.6 608.6,537.1 608.7,539.1 608.8,537.5 609.0,538.5 609.1,536.7 609.2,537.9 609.3,539.2 609.4,539.3 609.5,536.0 609.7,536.9 609.8,537.7 609.9,538.7 610.0,537.2 610.1,537.0 610.3,539.5 610.4,539.1 610.5,539.5 610.6,538.7 610.7,537.3 610.8,538.6 611.0,537.1 611.1,536.5 611.2,537.0 611.3,536.3 611.4,537.0 611.5,536.9 611.7,537.6 611.8,537.4 611.9,538.9 612.0,539.3 612.1,538.6 612.2,537.7 612.4,537.8 612.5,536.6 612.6,536.6 612.7,538.2 612.8,539.1 612.9,538.4 613.1,539.5 613.2,537.0 613.3,536.5 613.4,537.8 613.5,536.8 613.7,537.4 613.8,536.0 613.9,537.7 614.0,538.7 614.1,537.0 614.2,537.8 614.4,539.2 614.5,535.9 614.6,536.1 614.7,538.5 614.8,539.6 614.9,537.0 615.1,539.6 615.2,536.2 615.3,539.0 615.4,538.9 615.5,536.7 615.6,538.9 615.8,535.5 615.9,535.5 616.0,536.3 616.1,537.5 616.2,538.5 616.3,536.9 616.5,536.9 616.6,536.8 616.7,534.8 616.8,533.5 616.9,533.6 617.0,532.7 617.2,526.9 617.3,526.8 617.4,522.6 617.5,521.8 617.6,523.4 617.8,524.6 617.9,530.2 618.0,530.9 618.1,532.9 618.2,536.1 618.3,535.2 618.5,537.5 618.6,537.9 618.7,535.4 618.8,535.4 618.9,537.6 619.0,537.6 619.2,538.5 619.3,535.4 619.4,535.5 619.5,535.8 619.6,537.1 619.7,536.9 619.9,538.5 620.0,538.6 620.1,538.3 620.2,538.2 620.3,536.7 620.4,538.1 620.6,538.6 620.7,536.3 620.8,536.1 620.9,537.0 621.0,538.2 621.2,539.7 621.3,536.8 621.4,537.7 621.5,537.3 621.6,539.8 621.7,538.0 621.9,538.6 622.0,537.6 622.1,538.9 622.2,538.7 622.3,537.0 622.4,539.8 622.6,536.6 622.7,536.5 622.8,537.8 622.9,537.9 623.0,536.5 623.1,538.5 623.3,536.1 623.4,536.0 623.5,538.3 623.6,539.2 623.7,538.5 623.8,536.9 624.0,536.8 624.1,536.2 624.2,539.7 624.3,538.4 624.4,536.0 624.5,536.8 624.7,537.0 624.8,538.2 624.9,539.1 625.0,536.3 625.1,537.1 625.3,537.4 625.4,537.6 625.5,538.0 625.6,538.0 625.7,537.3 625.8,537.8 626.0,536.7 626.1,536.9 626.2,538.7 626.3,537.3 626.4,539.1 626.5,537.5 626.7,538.1 626.8,538.4 626.9,537.9 627.0,539.1 627.1,538.8 627.2,536.6 627.4,538.9 627.5,538.7 627.6,537.2 627.7,538.8 627.8,536.3 627.9,536.6 628.1,537.4 628.2,536.9 628.3,539.4 628.4,536.0 628.5,538.5 628.7,537.4 628.8,539.3 628.9,538.5 629.0,538.7 629.1,536.4 629.2,538.9 629.4,535.9 629.5,538.3 629.6,537.4 629.7,539.4 629.8,537.0 629.9,536.3 630.1,538.5 630.2,539.3 630.3,539.5 630.4,539.2 630.5,536.5 630.6,537.9 630.8,539.1 630.9,536.6 631.0,538.2 631.1,535.2 631.2,537.7 631.3,536.8 631.5,538.7 631.6,538.3 631.7,537.0 631.8,536.4 631.9,537.1 632.1,537.0 632.2,536.0 632.3,536.6 632.4,536.2 632.5,535.5 632.6,535.9 632.8,537.1 632.9,535.1 633.0,536.4 633.1,534.0 633.2,536.1 633.3,536.3 633.5,535.3 633.6,536.3 633.7,534.7 633.8,535.0 633.9,536.5 634.0,535.4 634.2,537.2 634.3,535.0 634.4,535.6 634.5,535.4 634.6,537.5 634.7,536.2 634.9,538.3 635.0,537.1 635.1,538.0 635.2,538.0 635.3,537.0 635.4,538.7 635.6,536.0 635.7,538.7 635.8,538.3 635.9,538.6 636.0,538.1 636.2,537.6 636.3,536.5 636.4,536.4 636.5,537.6 636.6,539.1 636.7,538.0 636.9,538.4 637.0,538.6 637.1,538.8 637.2,540.3 637.3,537.1 637.4,537.5 637.6,536.9 637.7,540.1 637.8,539.2 637.9,539.8 638.0,538.9 638.1,538.5 638.3,537.1 638.4,538.9 638.5,536.1 638.6,538.5 638.7,538.4 638.8,537.0 639.0,536.8 639.1,538.0 639.2,537.8 639.3,537.4 639.4,536.8 639.6,536.7 639.7,537.3 639.8,538.5 639.9,539.2 640.0,539.5 640.1,537.7 640.3,537.6 640.4,535.8 640.5,538.2 640.6,539.1 640.7,538.3 640.8,536.2 641.0,536.3 641.1,536.1 641.2,536.6 641.3,538.1 641.4,539.0 641.5,537.0 641.7,535.6 641.8,538.7 641.9,535.9 642.0,536.5 642.1,536.4 642.2,537.3 642.4,535.6 642.5,538.4 642.6,538.4 642.7,536.6 642.8,539.1 643.0,535.5 643.1,537.8 643.2,538.9 643.3,538.5 643.4,537.9 643.5,538.9 643.7,535.7 643.8,535.8 643.9,538.3 644.0,539.3 644.1,538.5 644.2,537.1 644.4,539.6 644.5,539.0 644.6,537.8 644.7,537.8 644.8,536.7 644.9,540.0 645.1,539.8 645.2,539.3 645.3,539.0 645.4,539.7 645.5,537.8 645.6,537.5 645.8,538.4 645.9,540.1 646.0,537.2 646.1,537.4 646.2,536.3 646.3,536.1 646.5,538.3 646.6,539.1 646.7,539.4 646.8,539.5 646.9,536.2 647.1,537.6 647.2,536.7 647.3,537.1 647.4,538.4 647.5,539.4 647.6,536.4 647.8,537.9 647.9,536.9 648.0,538.0 648.1,539.6 648.2,539.1 648.3,539.7 648.5,536.4 648.6,539.2 648.7,537.1 648.8,539.5 648.9,536.7 649.0,536.8 649.2,537.1 649.3,537.3 649.4,537.2 649.5,537.0 649.6,537.4 649.7,538.0 649.9,537.1 650.0,536.6 650.1,536.9 650.2,536.4 650.3,539.6 650.5,537.6 650.6,536.0 650.7,536.0 650.8,538.3 650.9,539.2 651.0,537.8 651.2,538.5 651.3,535.6 651.4,536.1 651.5,536.1 651.6,537.2 651.7,536.8 651.9,538.6 652.0,538.7 652.1,538.1 652.2,538.0 652.3,537.7 652.4,539.3 652.6,537.5 652.7,538.2 652.8,538.0 652.9,539.8 653.0,540.1 653.1,537.0 653.3,536.2 653.4,536.7 653.5,536.6 653.6,536.2 653.7,539.4 653.9,539.5 654.0,537.3 654.1,537.6 654.2,536.8 654.3,536.8 654.4,536.4 654.6,536.5 654.7,536.6 654.8,537.7 654.9,537.8 655.0,537.4 655.1,536.5 655.3,536.1 655.4,537.1 655.5,537.6 655.6,537.8 655.7,538.2 655.8,538.6 656.0,536.4 656.1,538.3 656.2,539.2 656.3,538.5 656.4,540.2 656.5,538.0 656.7,537.3 656.8,535.9 656.9,535.6 657.0,535.8 657.1,536.3 657.2,536.1 657.4,537.9 657.5,537.9 657.6,537.8 657.7,536.9 657.8,537.4 658.0,538.3 658.1,539.8 658.2,539.9 658.3,538.0 658.4,537.5 658.5,537.9 658.7,536.0 658.8,536.0 658.9,537.9 659.0,539.8 659.1,536.5 659.2,536.0 659.4,539.0 659.5,537.6 659.6,537.8 659.7,538.0 659.8,538.0 659.9,538.3 660.1,537.6 660.2,540.2 660.3,538.9 660.4,536.3 660.5,539.0 660.6,537.6 660.8,536.4 660.9,538.3 661.0,538.6 661.1,535.3 661.2,537.5 661.4,536.8 661.5,537.8 661.6,538.5 661.7,537.3 661.8,535.5 661.9,538.7 662.1,536.1 662.2,536.3 662.3,538.4 662.4,538.6 662.5,539.7 662.6,536.7 662.8,538.1 662.9,535.7 663.0,539.4 663.1,539.4 663.2,540.0 663.3,538.4 663.5,535.7 663.6,538.1 663.7,535.9 663.8,535.8 663.9,539.1 664.0,539.4 664.2,538.5 664.3,537.4 664.4,537.4 664.5,537.6 664.6,537.2 664.7,539.0 664.9,535.4 665.0,536.3 665.1,538.0 665.2,536.9 665.3,536.3 665.5,536.9 665.6,536.8 665.7,533.8 665.8,534.0 665.9,534.2 666.0,531.7 666.2,535.2 666.3,534.0 666.4,534.9 666.5,535.9 666.6,535.5 666.7,536.3 666.9,534.6 667.0,535.5 667.1,536.4 667.2,535.7 667.3,538.8 667.4,537.7 667.6,537.2 667.7,535.7 667.8,535.7 667.9,538.6 668.0,538.5 668.1,536.1 668.3,536.5" fill="none" stroke="#e9117f" stroke-width="1.1" stroke-linejoin="round"/>
<line x1="404.9" y1="320.6" x2="404.9" y2="545.8" stroke="#555" stroke-width="1.5"/>
<line x1="400.3" y1="545.2" x2="683.1" y2="545.2" stroke="#333" stroke-width="1.2"/>
<line x1="400.3" y1="545.2" x2="404.9" y2="545.2" stroke="#333" stroke-width="1"/>
<text x="398.1" y="549.0" font-size="14.4" fill="#e9117f" text-anchor="end" font-weight="bold" stroke="#e9117f" stroke-width="0.3">0</text>
<line x1="402.4" y1="533.0" x2="404.9" y2="533.0" stroke="#333" stroke-width="1"/>
<line x1="400.3" y1="520.7" x2="404.9" y2="520.7" stroke="#333" stroke-width="1"/>
<text x="398.1" y="524.5" font-size="14.4" fill="#e9117f" text-anchor="end" font-weight="bold" stroke="#e9117f" stroke-width="0.3">250</text>
<line x1="402.4" y1="508.5" x2="404.9" y2="508.5" stroke="#333" stroke-width="1"/>
<line x1="400.3" y1="496.2" x2="404.9" y2="496.2" stroke="#333" stroke-width="1"/>
<text x="398.1" y="500.0" font-size="14.4" fill="#e9117f" text-anchor="end" font-weight="bold" stroke="#e9117f" stroke-width="0.3">500</text>
<line x1="402.4" y1="484.0" x2="404.9" y2="484.0" stroke="#333" stroke-width="1"/>
<line x1="400.3" y1="471.7" x2="404.9" y2="471.7" stroke="#333" stroke-width="1"/>
<text x="398.1" y="475.5" font-size="14.4" fill="#e9117f" text-anchor="end" font-weight="bold" stroke="#e9117f" stroke-width="0.3">750</text>
<line x1="402.4" y1="459.5" x2="404.9" y2="459.5" stroke="#333" stroke-width="1"/>
<line x1="400.3" y1="447.2" x2="404.9" y2="447.2" stroke="#333" stroke-width="1"/>
<text x="398.1" y="451.0" font-size="14.4" fill="#e9117f" text-anchor="end" font-weight="bold" stroke="#e9117f" stroke-width="0.3">1000</text>
<line x1="402.4" y1="435.0" x2="404.9" y2="435.0" stroke="#333" stroke-width="1"/>
<line x1="400.3" y1="422.7" x2="404.9" y2="422.7" stroke="#333" stroke-width="1"/>
<text x="398.1" y="426.5" font-size="14.4" fill="#e9117f" text-anchor="end" font-weight="bold" stroke="#e9117f" stroke-width="0.3">1250</text>
<line x1="402.4" y1="410.5" x2="404.9" y2="410.5" stroke="#333" stroke-width="1"/>
<line x1="400.3" y1="398.2" x2="404.9" y2="398.2" stroke="#333" stroke-width="1"/>
<text x="398.1" y="402.0" font-size="14.4" fill="#e9117f" text-anchor="end" font-weight="bold" stroke="#e9117f" stroke-width="0.3">1500</text>
<line x1="402.4" y1="386.0" x2="404.9" y2="386.0" stroke="#333" stroke-width="1"/>
<line x1="400.3" y1="373.7" x2="404.9" y2="373.7" stroke="#333" stroke-width="1"/>
<text x="398.1" y="377.5" font-size="14.4" fill="#e9117f" text-anchor="end" font-weight="bold" stroke="#e9117f" stroke-width="0.3">1750</text>
<line x1="402.4" y1="361.5" x2="404.9" y2="361.5" stroke="#333" stroke-width="1"/>
<line x1="400.3" y1="349.2" x2="404.9" y2="349.2" stroke="#333" stroke-width="1"/>
<text x="398.1" y="353.0" font-size="14.4" fill="#e9117f" text-anchor="end" font-weight="bold" stroke="#e9117f" stroke-width="0.3">2000</text>
<line x1="402.4" y1="337.0" x2="404.9" y2="337.0" stroke="#333" stroke-width="1"/>
<line x1="400.3" y1="324.7" x2="404.9" y2="324.7" stroke="#333" stroke-width="1"/>
<text x="398.1" y="328.5" font-size="14.4" fill="#e9117f" text-anchor="end" font-weight="bold" stroke="#e9117f" stroke-width="0.3">2250</text>
<line x1="404.8" y1="545.2" x2="404.8" y2="549.4" stroke="#333" stroke-width="1"/>
<text x="404.8" y="563.4" font-size="14.4" fill="#e9117f" text-anchor="middle" font-weight="bold" stroke="#e9117f" stroke-width="0.3">10</text>
<line x1="419.4" y1="545.2" x2="419.4" y2="547.5" stroke="#333" stroke-width="1"/>
<line x1="434.1" y1="545.2" x2="434.1" y2="549.4" stroke="#333" stroke-width="1"/>
<text x="434.1" y="563.4" font-size="14.4" fill="#e9117f" text-anchor="middle" font-weight="bold" stroke="#e9117f" stroke-width="0.3">20</text>
<line x1="448.8" y1="545.2" x2="448.8" y2="547.5" stroke="#333" stroke-width="1"/>
<line x1="463.4" y1="545.2" x2="463.4" y2="549.4" stroke="#333" stroke-width="1"/>
<text x="463.4" y="563.4" font-size="14.4" fill="#e9117f" text-anchor="middle" font-weight="bold" stroke="#e9117f" stroke-width="0.3">30</text>
<line x1="478.1" y1="545.2" x2="478.1" y2="547.5" stroke="#333" stroke-width="1"/>
<line x1="492.7" y1="545.2" x2="492.7" y2="549.4" stroke="#333" stroke-width="1"/>
<text x="492.7" y="563.4" font-size="14.4" fill="#e9117f" text-anchor="middle" font-weight="bold" stroke="#e9117f" stroke-width="0.3">40</text>
<line x1="507.4" y1="545.2" x2="507.4" y2="547.5" stroke="#333" stroke-width="1"/>
<line x1="522.0" y1="545.2" x2="522.0" y2="549.4" stroke="#333" stroke-width="1"/>
<text x="522.0" y="563.4" font-size="14.4" fill="#e9117f" text-anchor="middle" font-weight="bold" stroke="#e9117f" stroke-width="0.3">50</text>
<line x1="536.6" y1="545.2" x2="536.6" y2="547.5" stroke="#333" stroke-width="1"/>
<line x1="551.3" y1="545.2" x2="551.3" y2="549.4" stroke="#333" stroke-width="1"/>
<text x="551.3" y="563.4" font-size="14.4" fill="#e9117f" text-anchor="middle" font-weight="bold" stroke="#e9117f" stroke-width="0.3">60</text>
<line x1="566.0" y1="545.2" x2="566.0" y2="547.5" stroke="#333" stroke-width="1"/>
<line x1="580.6" y1="545.2" x2="580.6" y2="549.4" stroke="#333" stroke-width="1"/>
<text x="580.6" y="563.4" font-size="14.4" fill="#e9117f" text-anchor="middle" font-weight="bold" stroke="#e9117f" stroke-width="0.3">70</text>
<line x1="595.2" y1="545.2" x2="595.2" y2="547.5" stroke="#333" stroke-width="1"/>
<line x1="609.9" y1="545.2" x2="609.9" y2="549.4" stroke="#333" stroke-width="1"/>
<text x="609.9" y="563.4" font-size="14.4" fill="#e9117f" text-anchor="middle" font-weight="bold" stroke="#e9117f" stroke-width="0.3">80</text>
<line x1="624.5" y1="545.2" x2="624.5" y2="547.5" stroke="#333" stroke-width="1"/>
<line x1="639.2" y1="545.2" x2="639.2" y2="549.4" stroke="#333" stroke-width="1"/>
<text x="639.2" y="563.4" font-size="14.4" fill="#e9117f" text-anchor="middle" font-weight="bold" stroke="#e9117f" stroke-width="0.3">90</text>
<line x1="653.9" y1="545.2" x2="653.9" y2="547.5" stroke="#333" stroke-width="1"/>
<line x1="668.5" y1="545.2" x2="668.5" y2="549.4" stroke="#333" stroke-width="1"/>
<text x="668.5" y="563.4" font-size="14.4" fill="#e9117f" text-anchor="middle" font-weight="bold" stroke="#e9117f" stroke-width="0.3">100</text>
<line x1="683.2" y1="545.2" x2="683.2" y2="547.5" stroke="#333" stroke-width="1"/>
<text transform="translate(361.7,437.2) rotate(-90)" font-size="15.1" fill="#e9117f" stroke="#e9117f" stroke-width="0.3" font-weight="bold" text-anchor="middle" textLength="96.7" lengthAdjust="spacingAndGlyphs">Intensity counts</text>
<text x="544.2" y="584.2" font-size="14" fill="#e9117f" text-anchor="middle" font-weight="bold" stroke="#e9117f" stroke-width="0.3" textLength="57.1" lengthAdjust="spacingAndGlyphs">Angle, 2<tspan font-weight="normal">θ</tspan></text>
<text x="463.1" y="623.2" font-size="18" fill="#1a1a1a" textLength="102.7" lengthAdjust="spacingAndGlyphs">(d) <tspan fill="#e0201b">Sample S3</tspan></text>
<text x="446.6" y="475.2" font-size="14" fill="#111" text-anchor="start" font-weight="bold" stroke="#111" stroke-width="0.3">Gr</text>
<text x="472.8" y="340.8" font-size="14" fill="#111" text-anchor="start" font-weight="bold" stroke="#111" stroke-width="0.3">Al</text>
<text x="513.2" y="426.1" font-size="14" fill="#111" text-anchor="start" font-weight="bold" stroke="#111" stroke-width="0.3">Al</text>
<text x="513.2" y="523.0" font-size="14" fill="#111" text-anchor="start" font-weight="bold" stroke="#111" stroke-width="0.3">Cu</text>
<text x="546.5" y="463.5" font-size="14" fill="#111" stroke="#111" stroke-width="0.3" font-weight="bold">B<tspan font-size="9.5" dy="3.8">4</tspan><tspan dy="-3.8">C</tspan></text>
<text x="581.8" y="515.5" font-size="14" fill="#111" text-anchor="start" font-weight="bold" stroke="#111" stroke-width="0.3">Al</text>
<text x="618.4" y="515.5" font-size="14" fill="#111" stroke="#111" stroke-width="0.3" font-weight="bold">B<tspan font-size="9.5" dy="3.8">4</tspan><tspan dy="-3.8">C</tspan></text>
<polyline points="86.5,845.4 86.6,844.8 86.7,850.1 86.7,848.2 86.8,844.6 86.9,849.4 87.0,846.9 87.1,846.5 87.2,847.8 87.2,843.9 87.3,844.6 87.4,848.8 87.5,849.7 87.6,844.5 87.7,843.6 87.7,843.9 87.8,846.2 87.9,844.3 88.0,844.1 88.1,841.8 88.2,845.6 88.2,847.4 88.3,846.7 88.4,844.9 88.5,846.0 88.6,846.4 88.7,846.4 88.7,846.0 88.8,843.0 88.9,848.9 89.0,848.8 89.1,844.9 89.2,849.7 89.2,848.7 89.3,847.3 89.4,843.0 89.5,844.9 89.6,845.7 89.7,848.1 89.7,844.3 89.8,848.2 89.9,843.5 90.0,845.0 90.1,842.8 90.2,845.5 90.2,846.0 90.3,847.6 90.4,847.0 90.5,847.5 90.6,849.3 90.7,846.2 90.7,847.1 90.8,846.2 90.9,846.5 91.0,847.6 91.1,844.5 91.2,843.0 91.2,841.9 91.3,847.5 91.4,845.8 91.5,845.8 91.6,844.1 91.7,840.1 91.7,843.5 91.8,844.0 91.9,844.7 92.0,844.0 92.1,839.5 92.2,840.9 92.2,840.4 92.3,833.8 92.4,825.0 92.5,811.7 92.6,799.2 92.7,807.0 92.7,821.5 92.8,831.8 92.9,837.0 93.0,839.8 93.1,840.4 93.2,842.8 93.2,841.0 93.3,842.4 93.4,841.4 93.5,842.3 93.6,841.3 93.7,841.6 93.7,842.1 93.8,842.2 93.9,842.7 94.0,840.1 94.1,842.5 94.2,841.6 94.2,845.7 94.3,842.5 94.4,844.5 94.5,843.4 94.6,843.0 94.6,844.0 94.7,842.2 94.8,841.4 94.9,842.8 95.0,839.7 95.1,833.8 95.1,830.2 95.2,838.9 95.3,839.7 95.4,841.3 95.5,845.5 95.6,842.5 95.6,844.7 95.7,840.2 95.8,841.9 95.9,845.2 96.0,842.7 96.1,840.5 96.1,841.2 96.2,842.6 96.3,842.9 96.4,842.8 96.5,841.5 96.6,843.6 96.6,845.1 96.7,842.4 96.8,842.2 96.9,840.7 97.0,845.0 97.1,844.1 97.1,839.6 97.2,840.1 97.3,839.9 97.4,842.9 97.5,840.2 97.6,842.7 97.6,845.0 97.7,841.3 97.8,840.7 97.9,840.1 98.0,842.8 98.1,838.8 98.1,842.7 98.2,843.5 98.3,840.0 98.4,840.4 98.5,838.3 98.6,841.2 98.6,836.1 98.7,832.2 98.8,820.0 98.9,801.5 99.0,788.3 99.1,802.7 99.1,818.0 99.2,830.7 99.3,835.9 99.4,837.4 99.5,839.4 99.6,838.1 99.6,839.1 99.7,842.9 99.8,844.1 99.9,838.7 100.0,842.5 100.1,840.0 100.1,841.7 100.2,841.4 100.3,844.2 100.4,841.4 100.5,843.4 100.6,840.0 100.6,844.6 100.7,840.9 100.8,839.4 100.9,843.9 101.0,840.2 101.1,838.7 101.1,842.8 101.2,839.2 101.3,841.9 101.4,843.0 101.5,843.6 101.6,842.1 101.6,840.8 101.7,839.8 101.8,841.5 101.9,842.5 102.0,839.0 102.1,842.6 102.1,843.2 102.2,840.1 102.3,841.5 102.4,840.9 102.5,843.0 102.5,839.4 102.6,842.7 102.7,841.9 102.8,839.7 102.9,840.3 103.0,843.0 103.0,842.5 103.1,838.3 103.2,840.8 103.3,843.7 103.4,838.6 103.5,836.9 103.5,838.3 103.6,836.2 103.7,837.4 103.8,836.7 103.9,836.5 104.0,830.2 104.0,822.4 104.2,808.7 104.2,809.8 104.3,819.4 104.4,830.9 104.5,834.7 104.5,839.0 104.6,840.9 104.7,842.2 104.8,837.8 104.9,843.0 105.0,840.3 105.0,841.1 105.1,842.9 105.2,842.8 105.3,838.6 105.4,842.6 105.5,842.6 105.5,841.5 105.6,843.2 105.7,837.4 105.8,839.7 105.9,839.0 106.0,843.5 106.0,839.9 106.1,839.6 106.2,842.3 106.3,842.0 106.4,843.0 106.5,842.2 106.5,841.7 106.6,839.5 106.7,839.5 106.8,839.6 106.9,837.7 107.0,837.9 107.0,844.1 107.1,840.9 107.2,843.0 107.3,841.4 107.4,842.6 107.5,838.8 107.5,841.1 107.6,842.4 107.7,843.6 107.8,842.4 107.9,841.4 108.0,843.6 108.0,837.8 108.1,841.1 108.2,839.9 108.3,842.4 108.4,839.8 108.5,837.6 108.5,842.1 108.6,840.0 108.7,839.7 108.8,839.4 108.9,837.8 109.0,838.6 109.0,841.9 109.1,842.7 109.2,838.4 109.3,842.4 109.4,843.2 109.5,841.1 109.5,840.1 109.6,839.4 109.7,843.3 109.8,841.2 109.9,842.7 110.0,839.2 110.0,840.2 110.1,838.6 110.2,840.2 110.3,840.5 110.4,838.2 110.5,842.4 110.5,839.7 110.6,844.1 110.7,843.1 110.8,842.4 110.9,843.0 110.9,843.3 111.0,843.8 111.1,838.5 111.2,837.7 111.3,841.2 111.4,841.8 111.4,840.4 111.5,838.8 111.6,840.6 111.7,843.0 111.8,838.3 111.9,839.6 111.9,838.4 112.0,840.9 112.1,839.4 112.2,838.1 112.3,841.2 112.4,844.1 112.4,844.0 112.5,838.6 112.6,840.8 112.7,838.3 112.8,842.2 112.9,842.4 112.9,839.5 113.0,842.6 113.1,838.2 113.2,838.6 113.3,841.0 113.4,843.1 113.4,843.4 113.5,843.0 113.6,837.9 113.7,841.8 113.8,838.9 113.9,838.3 113.9,841.7 114.0,844.3 114.1,843.4 114.2,841.8 114.3,841.9 114.4,841.1 114.4,841.3 114.5,837.1 114.6,838.0 114.7,838.3 114.8,839.5 114.9,836.1 114.9,835.1 115.0,833.1 115.1,826.3 115.2,825.7 115.3,826.0 115.4,833.7 115.4,833.7 115.5,836.3 115.6,836.5 115.7,836.8 115.8,841.2 115.9,840.2 115.9,837.2 116.0,840.1 116.1,841.1 116.2,842.4 116.3,838.5 116.4,840.9 116.4,840.3 116.5,840.7 116.6,838.7 116.7,843.1 116.8,840.5 116.9,838.3 116.9,838.8 117.0,841.7 117.1,837.7 117.2,837.5 117.3,840.6 117.4,840.6 117.4,841.8 117.5,840.1 117.6,843.4 117.7,843.0 117.8,843.2 117.9,843.2 117.9,840.5 118.0,840.4 118.1,839.0 118.2,838.0 118.3,840.3 118.4,837.7 118.4,838.3 118.5,840.1 118.6,842.1 118.7,842.6 118.8,842.4 118.8,838.2 118.9,838.4 119.0,839.9 119.1,839.4 119.2,838.0 119.3,843.4 119.3,842.5 119.4,840.0 119.5,839.2 119.6,840.2 119.7,841.2 119.8,840.9 119.8,838.9 119.9,838.7 120.0,843.9 120.1,842.4 120.2,844.1 120.3,840.5 120.3,839.0 120.4,841.7 120.5,840.0 120.6,842.3 120.7,842.6 120.8,843.9 120.8,842.0 120.9,843.9 121.0,842.0 121.1,837.4 121.2,840.1 121.3,843.8 121.3,841.5 121.4,839.1 121.5,841.7 121.6,840.9 121.7,841.4 121.8,842.7 121.8,838.1 121.9,844.0 122.0,842.6 122.1,840.5 122.2,843.6 122.3,841.9 122.3,840.4 122.4,839.7 122.5,843.9 122.6,840.9 122.7,838.2 122.8,841.0 122.8,838.3 122.9,843.4 123.0,840.3 123.1,839.7 123.2,843.5 123.3,842.0 123.3,842.8 123.4,843.5 123.5,841.8 123.6,838.6 123.7,838.4 123.8,838.8 123.8,837.9 123.9,842.6 124.0,838.4 124.1,842.7 124.2,841.1 124.3,841.2 124.3,837.4 124.4,835.0 124.5,834.7 124.6,833.0 124.7,833.8 124.8,834.4 124.8,833.9 124.9,840.0 125.0,838.8 125.1,840.0 125.2,839.2 125.3,840.5 125.3,840.3 125.4,843.9 125.5,841.6 125.6,842.1 125.7,844.0 125.8,840.3 125.8,838.2 125.9,840.0 126.0,838.2 126.1,841.1 126.2,842.7 126.3,841.0 126.3,839.5 126.4,838.9 126.5,842.7 126.6,844.4 126.7,843.1 126.7,844.3 126.8,842.4 126.9,842.7 127.0,843.7 127.1,842.6 127.2,839.6 127.2,839.3 127.3,840.9 127.4,843.6 127.5,842.9 127.6,838.7 127.7,843.5 127.7,839.9 127.8,840.9 127.9,839.2 128.0,841.3 128.1,840.7 128.2,843.7 128.2,840.8 128.3,843.7 128.4,844.3 128.5,840.5 128.6,841.7 128.7,840.4 128.7,843.5 128.8,840.6 128.9,839.8 129.0,843.0 129.1,839.9 129.2,841.4 129.2,843.2 129.3,843.2 129.4,843.3 129.5,843.0 129.6,841.3 129.7,840.1 129.7,843.4 129.8,841.5 129.9,841.1 130.0,839.3 130.1,841.5 130.2,840.9 130.2,839.7 130.3,841.6 130.4,842.2 130.5,844.0 130.6,839.0 130.7,842.1 130.7,838.0 130.8,843.2 130.9,842.4 131.0,838.3 131.1,839.3 131.2,830.4 131.2,827.1 131.3,823.2 131.4,827.7 131.5,832.7 131.6,832.4 131.7,840.6 131.7,836.7 131.8,838.1 131.9,842.3 132.0,841.1 132.1,840.3 132.2,842.1 132.2,837.8 132.3,837.7 132.4,839.2 132.5,843.3 132.6,838.2 132.7,841.0 132.7,841.2 132.8,838.4 132.9,841.5 133.0,838.8 133.1,839.2 133.2,842.3 133.2,843.3 133.3,844.3 133.4,841.4 133.5,838.7 133.6,843.0 133.7,840.3 133.7,840.0 133.8,840.4 133.9,839.7 134.0,839.4 134.1,842.0 134.2,841.4 134.2,838.7 134.3,837.5 134.4,842.3 134.5,839.2 134.6,842.9 134.6,838.7 134.7,840.8 134.8,839.1 134.9,838.1 135.0,838.4 135.1,838.7 135.1,842.9 135.2,838.2 135.3,843.2 135.4,839.9 135.5,844.8 135.6,838.9 135.6,840.1 135.7,840.6 135.8,841.9 135.9,839.5 136.0,840.4 136.1,840.6 136.1,843.4 136.2,837.2 136.3,841.3 136.4,838.9 136.5,835.7 136.5,833.5 136.6,832.0 136.7,835.8 136.8,840.4 136.9,838.7 137.0,839.5 137.1,840.7 137.1,842.1 137.2,840.2 137.3,839.6 137.4,844.3 137.5,842.5 137.6,843.5 137.6,843.9 137.7,841.0 137.8,841.2 137.9,840.4 138.0,843.9 138.1,839.8 138.1,839.1 138.2,839.3 138.3,840.8 138.4,837.2 138.5,842.0 138.6,842.2 138.6,840.5 138.7,842.6 138.8,839.9 138.9,840.5 139.0,841.2 139.1,837.2 139.1,840.7 139.2,840.0 139.3,842.0 139.4,838.5 139.5,837.0 139.6,837.0 139.6,837.0 139.7,837.9 139.8,837.9 139.9,838.1 140.0,839.5 140.1,835.8 140.1,833.9 140.2,832.0 140.3,832.8 140.4,830.4 140.5,828.9 140.6,825.6 140.6,819.9 140.7,814.7 140.8,807.6 140.9,803.8 141.0,804.5 141.1,807.7 141.1,807.1 141.2,810.0 141.3,817.4 141.4,820.7 141.5,827.3 141.6,826.9 141.6,832.8 141.7,835.9 141.8,833.7 141.9,834.5 142.0,838.0 142.1,837.6 142.1,835.3 142.2,836.7 142.3,840.9 142.4,838.0 142.5,836.4 142.5,839.0 142.6,839.5 142.7,840.9 142.8,839.7 142.9,840.5 143.0,840.1 143.0,836.1 143.1,840.1 143.2,836.0 143.3,841.4 143.4,838.2 143.5,839.4 143.5,839.8 143.6,837.4 143.7,842.5 143.8,841.2 143.9,837.7 144.0,839.4 144.0,837.7 144.1,839.0 144.2,839.4 144.3,840.5 144.4,840.4 144.5,837.6 144.5,839.4 144.6,839.0 144.7,838.0 144.8,842.0 144.9,836.3 145.0,841.3 145.0,839.8 145.1,837.6 145.2,840.5 145.3,839.7 145.4,837.0 145.5,837.6 145.5,842.3 145.6,840.7 145.7,842.8 145.8,837.1 145.9,837.1 146.0,836.3 146.0,836.3 146.1,840.5 146.2,837.6 146.3,837.8 146.4,831.1 146.5,831.5 146.5,831.8 146.6,832.4 146.7,838.7 146.8,835.3 146.9,838.3 147.0,838.4 147.0,838.2 147.1,840.9 147.2,841.9 147.3,836.4 147.4,840.0 147.5,838.4 147.5,835.3 147.6,836.6 147.7,841.3 147.8,840.3 147.9,838.9 148.0,838.3 148.0,833.9 148.1,835.7 148.2,834.9 148.3,838.8 148.4,839.7 148.5,838.6 148.5,839.6 148.6,837.8 148.7,833.9 148.8,833.5 148.9,833.4 149.0,830.1 149.0,828.6 149.1,822.9 149.2,819.7 149.3,814.9 149.4,812.8 149.5,816.7 149.5,823.2 149.6,827.3 149.7,827.3 149.8,832.3 149.9,830.8 150.0,832.8 150.0,831.9 150.1,831.2 150.2,829.7 150.3,825.5 150.4,826.3 150.5,818.7 150.5,814.2 150.6,804.1 150.7,796.6 150.8,777.8 150.9,753.7 150.9,718.6 151.0,688.4 151.1,664.0 151.2,662.8 151.3,686.6 151.4,719.6 151.4,749.2 151.5,775.3 151.6,793.3 151.7,803.7 151.8,817.8 151.9,823.8 151.9,826.0 152.0,824.5 152.1,831.3 152.2,830.0 152.3,834.4 152.4,830.1 152.4,833.5 152.5,834.1 152.6,836.3 152.7,835.3 152.8,835.9 152.9,835.5 152.9,840.2 153.0,838.8 153.1,836.2 153.2,836.6 153.3,835.0 153.4,832.9 153.4,831.2 153.5,828.8 153.6,829.7 153.7,828.5 153.8,831.9 153.9,834.9 153.9,834.2 154.0,835.1 154.1,839.2 154.2,841.0 154.3,837.7 154.4,837.6 154.4,837.3 154.5,838.2 154.6,837.1 154.7,835.5 154.8,840.7 154.9,836.1 154.9,836.6 155.0,838.3 155.1,836.6 155.2,836.8 155.3,835.6 155.4,837.6 155.4,837.6 155.5,837.6 155.6,835.9 155.7,832.7 155.8,836.2 155.9,836.0 155.9,831.5 156.0,832.4 156.1,831.7 156.2,831.3 156.3,827.3 156.4,819.9 156.4,815.1 156.5,816.1 156.6,810.8 156.7,809.9 156.7,809.7 156.9,813.2 156.9,813.5 157.0,814.4 157.1,822.1 157.2,821.7 157.3,827.6 157.4,826.2 157.4,830.0 157.5,836.1 157.6,836.3 157.7,834.1 157.8,839.0 157.9,837.8 157.9,839.7 158.0,838.1 158.1,838.9 158.2,838.6 158.3,836.1 158.4,840.4 158.4,839.2 158.5,837.0 158.6,836.2 158.7,838.2 158.8,839.5 158.8,836.2 158.9,836.2 159.0,831.6 159.1,828.7 159.2,826.8 159.3,832.4 159.3,832.6 159.4,836.3 159.5,840.8 159.6,835.4 159.7,840.5 159.8,838.8 159.8,840.0 159.9,840.6 160.0,840.4 160.1,838.6 160.2,837.6 160.3,836.4 160.3,835.0 160.4,836.5 160.5,832.9 160.6,836.9 160.7,831.4 160.8,831.5 160.8,828.5 160.9,820.9 161.0,814.2 161.1,798.9 161.2,780.1 161.3,772.5 161.3,779.8 161.4,799.5 161.5,818.1 161.6,823.7 161.7,829.7 161.8,832.5 161.8,834.8 161.9,838.0 162.0,840.5 162.1,841.3 162.2,838.8 162.3,839.4 162.3,839.4 162.4,841.0 162.5,841.5 162.6,840.1 162.7,840.8 162.8,840.8 162.8,840.0 162.9,839.8 163.0,837.4 163.1,841.2 163.2,839.8 163.3,841.0 163.3,843.1 163.4,842.2 163.5,840.1 163.6,842.1 163.7,843.8 163.8,839.4 163.8,839.4 163.9,836.9 164.0,835.5 164.1,839.0 164.2,835.8 164.3,828.7 164.3,832.7 164.4,831.3 164.5,835.1 164.6,839.3 164.7,836.6 164.8,838.9 164.8,839.9 164.9,842.4 165.0,840.4 165.1,840.3 165.2,838.3 165.3,837.8 165.3,841.6 165.4,842.2 165.5,843.7 165.6,839.0 165.7,842.0 165.8,841.5 165.8,844.3 165.9,840.3 166.0,839.6 166.1,839.5 166.2,843.1 166.3,839.3 166.3,839.1 166.4,840.7 166.5,836.4 166.6,837.0 166.7,834.6 166.7,834.6 166.8,833.4 166.9,827.5 167.0,823.0 167.1,819.1 167.2,814.7 167.2,818.3 167.3,823.3 167.4,827.6 167.5,829.3 167.6,833.3 167.7,836.7 167.7,836.4 167.8,836.9 167.9,843.5 168.0,839.3 168.1,843.8 168.2,839.0 168.2,843.3 168.3,839.4 168.4,843.9 168.5,841.7 168.6,845.3 168.7,844.3 168.7,839.8 168.8,844.2 168.9,844.7 169.0,845.7 169.1,840.0 169.2,843.5 169.2,841.2 169.3,844.0 169.4,842.0 169.5,844.4 169.6,844.4 169.7,845.8 169.7,843.6 169.8,845.5 169.9,841.9 170.0,842.0 170.1,842.7 170.2,841.6 170.2,842.3 170.3,844.0 170.4,837.5 170.5,834.3 170.6,835.0 170.7,838.8 170.7,843.5 170.8,842.3 170.9,844.7 171.0,844.2 171.1,844.8 171.2,844.0 171.2,844.4 171.3,842.9 171.4,842.2 171.5,845.3 171.6,844.6 171.7,841.0 171.7,845.8 171.8,844.2 171.9,845.9 172.0,844.8 172.1,840.7 172.2,844.3 172.2,843.2 172.3,843.9 172.4,844.9 172.5,844.6 172.6,845.3 172.7,844.0 172.7,846.1 172.8,842.2 172.9,845.3 173.0,840.6 173.1,845.8 173.2,841.2 173.2,844.0 173.3,842.5 173.4,844.8 173.5,843.8 173.6,846.7 173.7,844.6 173.7,842.8 173.8,840.5 173.9,840.2 174.0,842.6 174.1,840.5 174.2,842.9 174.2,839.8 174.3,842.5 174.4,837.8 174.5,833.4 174.6,831.5 174.6,838.5 174.7,839.8 174.8,842.3 174.9,845.0 175.0,845.4 175.1,841.9 175.1,842.7 175.2,845.6 175.3,841.1 175.4,842.7 175.5,844.6 175.6,845.2 175.6,845.4 175.7,842.5 175.8,846.1 175.9,844.0 176.0,845.8 176.1,845.3 176.1,842.4 176.2,844.0 176.3,844.6 176.4,846.2 176.5,843.5 176.6,842.2 176.6,844.6 176.7,844.1 176.8,844.4 176.9,844.7 177.0,842.6 177.1,843.3 177.1,843.6 177.2,843.9 177.3,845.0 177.4,843.3 177.5,843.8 177.6,844.1 177.6,846.1 177.7,842.5 177.8,845.9 177.9,844.1 178.0,846.4 178.1,841.9 178.1,843.0 178.2,845.2 178.3,841.6 178.4,845.5 178.5,841.4 178.6,844.2 178.6,846.5 178.7,845.2 178.8,847.3 178.9,842.3 179.0,847.1 179.1,843.8 179.1,843.0 179.2,844.8 179.3,845.2 179.4,848.2 179.5,843.8 179.6,841.7 179.6,843.3 179.7,844.8 179.8,843.3 179.9,843.1 180.0,844.9 180.1,845.8 180.1,845.5 180.2,842.3 180.3,843.5 180.4,842.2 180.5,840.8 180.6,843.4 180.6,840.5 180.7,840.9 180.8,840.0 180.9,845.2 181.0,846.2 181.1,843.4 181.1,843.2 181.2,845.6 181.3,846.9 181.4,846.5 181.5,846.4 181.6,843.7 181.6,845.1 181.7,845.5 181.8,847.0 181.9,844.1 182.0,847.2 182.1,847.3 182.1,843.4 182.2,842.6 182.3,843.5 182.4,843.5 182.5,845.4 182.5,847.1 182.6,847.2 182.7,846.8 182.8,843.0 182.9,843.0 183.0,844.3 183.0,846.8 183.1,844.5 183.2,844.4 183.3,846.8 183.4,848.3 183.5,849.3 183.5,846.9 183.6,843.8 183.7,847.2 183.8,846.2 183.9,844.2 184.0,845.9 184.0,846.4 184.1,843.3 184.2,844.4 184.3,843.9 184.4,845.3 184.5,847.3 184.5,844.3 184.6,844.5 184.7,843.9 184.8,844.5 184.9,846.5 185.0,848.5 185.0,843.5 185.1,846.2 185.2,847.5 185.3,843.7 185.4,845.3 185.5,845.4 185.5,843.3 185.6,843.4 185.7,844.4 185.8,842.6 185.9,843.3 186.0,843.2 186.0,843.4 186.1,846.0 186.2,844.1 186.3,844.9 186.4,845.5 186.5,845.8 186.5,844.0 186.6,844.3 186.7,844.9 186.8,847.0 186.9,847.0 187.0,843.6 187.0,843.8 187.1,847.4 187.2,844.9 187.3,845.3 187.4,847.9 187.5,844.9 187.5,846.4 187.6,847.7 187.7,846.8 187.8,843.7 187.9,845.0 188.0,844.5 188.0,845.8 188.1,844.2 188.2,843.9 188.3,845.0 188.4,846.1 188.5,844.3 188.5,845.6 188.6,844.0 188.7,843.7 188.8,844.9 188.9,848.3 189.0,846.7 189.0,847.5 189.1,847.3 189.2,847.5 189.3,848.4 189.4,843.4 189.5,845.6 189.5,847.1 189.6,848.1 189.7,845.5 189.8,844.4 189.9,843.9 190.0,843.3 190.0,846.4 190.1,843.6 190.2,846.2 190.3,845.4 190.4,848.3 190.4,847.0 190.5,846.0 190.6,845.9 190.7,844.5 190.8,845.4 190.9,847.4 190.9,846.2 191.0,848.2 191.1,846.4 191.2,846.4 191.3,846.3 191.4,846.6 191.4,845.5 191.5,846.8 191.6,845.8 191.7,848.2 191.8,849.4 191.9,848.6 191.9,845.5 192.0,844.9 192.1,847.8 192.2,848.8 192.3,848.0 192.4,846.8 192.4,847.0 192.5,846.5 192.6,848.2 192.7,845.9 192.8,846.6 192.9,845.1 192.9,847.1 193.0,849.1 193.1,846.0 193.2,846.6 193.3,845.3 193.4,846.0 193.4,846.3 193.5,847.6 193.6,845.6 193.7,847.5 193.8,844.1 193.9,843.0 193.9,843.7 194.0,843.8 194.1,845.8 194.2,847.9 194.3,846.6 194.4,847.1 194.4,845.9 194.5,843.6 194.6,845.2 194.7,844.2 194.8,846.6 194.9,845.6 194.9,843.8 195.0,844.2 195.1,844.7 195.2,845.0 195.3,845.2 195.4,847.3 195.4,845.3 195.5,845.3 195.6,845.8 195.7,844.1 195.8,843.4 195.9,846.5 195.9,848.1 196.0,844.6 196.1,844.8 196.2,848.5 196.3,847.4 196.4,848.4 196.4,846.3 196.5,845.7 196.6,847.7 196.7,843.9 196.8,847.2 196.9,843.8 196.9,847.6 197.0,846.6 197.1,847.3 197.2,847.2 197.3,844.6 197.4,846.7 197.4,845.3 197.5,846.7 197.6,847.8 197.7,848.4 197.8,848.9 197.9,847.7 197.9,846.9 198.0,848.5 198.1,844.6 198.2,845.3 198.3,848.0 198.4,846.9 198.4,848.3 198.5,844.1 198.6,848.2 198.7,843.8 198.8,847.5 198.8,847.4 198.9,844.3 199.0,848.0 199.1,844.7 199.2,844.1 199.3,847.7 199.3,845.2 199.4,846.8 199.5,843.7 199.6,846.0 199.7,846.9 199.8,847.9 199.8,845.9 199.9,847.5 200.0,846.1 200.1,847.8 200.2,844.6 200.3,848.2 200.3,846.8 200.4,848.1 200.5,844.3 200.6,846.9 200.7,844.4 200.8,846.0 200.8,847.8 200.9,846.0 201.0,845.0 201.1,845.3 201.2,844.9 201.3,848.2 201.3,843.8 201.4,843.9 201.5,845.7 201.6,845.5 201.7,844.9 201.8,846.7 201.8,845.6 201.9,846.0 202.0,847.0 202.1,845.2 202.2,843.5 202.3,845.3 202.3,844.9 202.4,844.5 202.5,847.4 202.6,848.7 202.7,846.3 202.8,846.7 202.8,844.9 202.9,845.0 203.0,844.2 203.1,844.5 203.2,847.3 203.3,843.6 203.3,846.2 203.4,845.9 203.5,842.7 203.6,844.0 203.7,843.3 203.8,842.3 203.8,842.5 203.9,843.0 204.0,840.4 204.1,845.3 204.2,846.6 204.3,842.4 204.3,845.4 204.4,844.8 204.5,846.5 204.6,844.6 204.7,846.3 204.8,845.6 204.8,848.4 204.9,845.1 205.0,846.2 205.1,846.2 205.2,845.1 205.3,845.4 205.3,847.9 205.4,847.9 205.5,844.3 205.6,848.7 205.7,843.7 205.8,848.5 205.8,845.8 205.9,848.3 206.0,847.1 206.1,848.6 206.2,847.8 206.3,848.6 206.3,844.7 206.4,845.4 206.5,845.4 206.6,845.3 206.7,844.5 206.7,847.0 206.8,844.4 206.9,846.0 207.0,844.2 207.1,847.8 207.2,845.8 207.2,845.8 207.3,846.0 207.4,844.2 207.5,847.9 207.6,847.2 207.7,845.2 207.7,844.6 207.8,844.6 207.9,844.2 208.0,848.4 208.1,845.3 208.2,845.7 208.2,847.4 208.3,846.9 208.4,846.2 208.5,849.2 208.6,847.6 208.7,845.0 208.7,846.5 208.8,845.0 208.9,845.0 209.0,846.6 209.1,845.5 209.2,848.8 209.2,848.6 209.3,844.1 209.4,847.2 209.5,845.8 209.6,845.9 209.7,843.9 209.7,847.7 209.8,848.0 209.9,842.9 210.0,847.8 210.1,847.0 210.2,844.2 210.2,844.9 210.3,844.6 210.4,845.1 210.5,846.8 210.6,848.7 210.7,845.5 210.7,845.7 210.8,846.9 210.9,847.8 211.0,845.6 211.1,846.7 211.2,841.4 211.2,841.6 211.3,846.1 211.4,845.7 211.5,845.9 211.6,843.0 211.7,845.1 211.7,843.6 211.8,844.0 211.9,845.5 212.0,848.3 212.1,845.5 212.2,845.6 212.2,847.0 212.3,848.3 212.4,845.2 212.5,845.1 212.6,846.7 212.7,845.4 212.7,848.1 212.8,847.7 212.9,844.8 213.0,847.4 213.1,844.8 213.2,844.4 213.2,844.7 213.3,844.0 213.4,845.5 213.5,843.8 213.6,844.8 213.7,845.8 213.7,845.7 213.8,847.1 213.9,847.0 214.0,845.4 214.1,844.3 214.2,845.1 214.2,848.3 214.3,845.1 214.4,845.2 214.5,844.9 214.6,844.0 214.6,845.1 214.7,848.7 214.8,848.0 214.9,846.8 215.0,845.1 215.1,845.6 215.1,844.8 215.2,846.6 215.3,845.5 215.4,847.2 215.5,844.5 215.6,845.4 215.6,846.7 215.7,847.4 215.8,844.3 215.9,848.3 216.0,844.7 216.1,846.4 216.1,846.0 216.2,844.5 216.3,847.7 216.4,846.1 216.5,844.6 216.6,848.5 216.6,847.8 216.7,846.4 216.8,847.2 216.9,845.0 217.0,848.3 217.1,845.2 217.1,845.6 217.2,847.5 217.3,845.5 217.4,848.5 217.5,846.2 217.6,848.3 217.6,848.4 217.7,843.9 217.8,847.0 217.9,846.2 218.0,847.8 218.1,843.9 218.1,844.9 218.2,843.7 218.3,845.5 218.4,846.9 218.5,844.4 218.6,847.5 218.6,845.7 218.7,844.0 218.8,844.9 218.9,845.0 219.0,843.7 219.1,843.7 219.1,845.0 219.2,847.5 219.3,847.5 219.4,846.5 219.5,845.3 219.6,844.8 219.6,839.9 219.7,841.2 219.8,837.2 219.9,836.0 219.9,837.2 220.1,838.7 220.1,841.8 220.2,839.6 220.3,844.9 220.4,844.3 220.5,846.1 220.6,846.1 220.6,844.5 220.7,844.9 220.8,847.2 220.9,844.4 221.0,846.2 221.1,847.4 221.1,846.9 221.2,846.0 221.3,845.9 221.4,843.6 221.5,847.3 221.6,845.1 221.6,845.3 221.7,847.8 221.8,842.9 221.9,844.9 222.0,841.3 222.1,841.5 222.1,842.9 222.2,838.5 222.3,840.8 222.4,842.9 222.5,841.0 222.5,841.8 222.6,842.1 222.7,843.7 222.8,847.1 222.9,844.7 223.0,848.1 223.0,846.2 223.1,846.2 223.2,845.3 223.3,846.9 223.4,845.1 223.5,844.7 223.5,845.6 223.6,845.8 223.7,847.9 223.8,846.9 223.9,848.2 224.0,848.2 224.0,844.4 224.1,846.0 224.2,848.0 224.3,845.0 224.4,849.2 224.5,849.7 224.5,848.9 224.6,846.7 224.7,847.9 224.8,844.6 224.9,846.1 225.0,844.3 225.0,848.5 225.1,848.8 225.2,846.1 225.3,848.0 225.4,846.5 225.5,844.4 225.5,847.2 225.6,845.0 225.7,846.6 225.8,847.7 225.9,845.3 226.0,848.2 226.0,849.3 226.1,847.4 226.2,847.9 226.3,847.0 226.4,848.3 226.5,848.4 226.5,848.5 226.6,847.7 226.7,847.0 226.8,848.4 226.9,848.1 227.0,848.7 227.0,846.0 227.1,845.4 227.2,844.6 227.3,846.2 227.4,845.1 227.5,848.5 227.5,849.3 227.6,849.1 227.7,845.4 227.8,845.3 227.9,846.7 228.0,848.4 228.0,848.2 228.1,846.9 228.2,849.1 228.3,847.2 228.4,849.6 228.5,848.4 228.5,845.3 228.6,846.2 228.7,845.9 228.8,847.6 228.9,849.7 229.0,846.7 229.0,847.0 229.1,845.6 229.2,846.0 229.3,846.8 229.4,846.3 229.5,850.0 229.5,845.5 229.6,846.6 229.7,848.3 229.8,849.1 229.9,848.9 230.0,845.4 230.0,845.2 230.1,847.9 230.2,848.9 230.3,845.9 230.4,846.5 230.4,843.5 230.5,841.3 230.6,842.9 230.7,843.1 230.8,845.9 230.9,847.3 230.9,849.1 231.0,846.6 231.1,848.6 231.2,846.5 231.3,846.5 231.4,846.0 231.4,849.4 231.5,847.0 231.6,850.3 231.7,845.8 231.8,846.4 231.9,847.0 231.9,844.6 232.0,847.6 232.1,849.3 232.2,849.0 232.3,847.1 232.4,846.6 232.4,846.3 232.5,847.4 232.6,846.9 232.7,847.5 232.8,848.4 232.9,847.5 232.9,845.6 233.0,844.5 233.1,844.4 233.2,849.9 233.3,846.4 233.4,846.8 233.4,849.7 233.5,847.5 233.6,848.9 233.7,847.4 233.8,847.6 233.9,847.2 233.9,845.4 234.0,844.5 234.1,849.5 234.2,849.4 234.3,848.7 234.4,847.6 234.4,845.7 234.5,847.0 234.6,846.8 234.7,845.5 234.8,846.5 234.9,848.5 234.9,844.0 235.0,847.3 235.1,847.3 235.2,848.3 235.3,845.2 235.4,845.6 235.4,846.2 235.5,849.7 235.6,845.6 235.7,845.3 235.8,844.3 235.9,848.6 235.9,848.4 236.0,845.5 236.1,844.7 236.2,845.6 236.3,846.9 236.4,847.3 236.4,849.6 236.5,848.8 236.6,846.5 236.7,849.3 236.8,849.3 236.9,846.8 236.9,845.9 237.0,848.4 237.1,846.2 237.2,850.0 237.3,845.6 237.4,845.0 237.4,847.1 237.5,849.1 237.6,845.3 237.7,848.6 237.8,848.8 237.9,847.7 238.0,842.4 238.0,844.1 238.1,846.3 238.2,846.8 238.3,848.6 238.4,849.9 238.4,848.6 238.5,849.2 238.6,847.4 238.7,848.0 238.8,845.4 238.8,847.9 238.9,847.3 239.0,849.6 239.1,847.1 239.2,845.1 239.3,847.4 239.3,846.4 239.4,847.4 239.5,849.5 239.6,846.6 239.7,847.9 239.8,849.3 239.8,849.7 239.9,848.0 240.0,849.8 240.1,849.1 240.2,847.9 240.3,849.9 240.3,847.3 240.4,846.9 240.5,846.8 240.6,844.8 240.7,846.8 240.8,848.7 240.8,848.3 240.9,849.1 241.0,847.9 241.1,849.2 241.2,846.6 241.3,848.9 241.3,845.8 241.4,846.0 241.5,847.2 241.6,849.7 241.7,847.0 241.8,849.9 241.8,847.6 241.9,847.0 242.0,846.7 242.1,846.6 242.2,848.1 242.3,848.4 242.3,848.2 242.4,849.4 242.5,850.4 242.6,847.1 242.7,847.7 242.8,845.8 242.8,845.6 242.9,849.0 243.0,846.1 243.1,846.0 243.2,848.8 243.3,845.2 243.3,848.3 243.4,846.3 243.5,844.8 243.6,846.1 243.7,849.0 243.8,845.8 243.8,845.9 243.9,846.8 244.0,846.3 244.1,846.3 244.2,849.7 244.3,846.1 244.3,846.3 244.4,848.9 244.5,848.3 244.6,848.2 244.7,847.3 244.8,846.3 244.8,845.9 244.9,845.7 245.0,847.7 245.1,848.1 245.2,848.7 245.3,849.8 245.3,847.3 245.4,845.8 245.5,847.9 245.6,844.9 245.7,849.2 245.8,845.7 245.8,847.9 245.9,846.9 246.0,849.7 246.1,848.3 246.2,844.4 246.3,844.3 246.3,845.0 246.4,844.0 246.5,847.4 246.6,845.6 246.7,847.2 246.7,843.7 246.8,844.1 246.9,843.7 247.0,841.0 247.1,840.3 247.2,837.1 247.2,838.5 247.3,839.8 247.4,840.8 247.5,842.6 247.6,845.9 247.7,847.6 247.7,847.4 247.8,845.5 247.9,844.4 248.0,844.5 248.1,846.8 248.2,844.5 248.2,844.7 248.3,846.0 248.4,846.9 248.5,849.4 248.6,845.0 248.7,845.7 248.7,848.9 248.8,846.1 248.9,847.7 249.0,847.0 249.1,847.2 249.2,847.8 249.2,849.6 249.3,847.6 249.4,849.4 249.5,849.3 249.6,847.0 249.7,846.7 249.7,848.0 249.8,846.6 249.9,846.3 250.0,846.5 250.1,845.8 250.2,848.1 250.2,849.1 250.3,847.2 250.4,846.7 250.5,846.6 250.6,846.9 250.7,848.4 250.7,848.2 250.8,849.0 250.9,845.6 251.0,848.8 251.1,850.5 251.2,850.0 251.2,849.5 251.3,850.1 251.4,848.7 251.5,848.7 251.6,849.3 251.7,848.2 251.7,847.1 251.8,850.2 251.9,846.4 252.0,846.5 252.1,849.3 252.2,847.5 252.2,850.4 252.3,847.5 252.4,847.8 252.5,845.2 252.6,848.7 252.7,850.3 252.7,847.2 252.8,849.1 252.9,848.5 253.0,847.4 253.1,846.7 253.2,850.4 253.2,846.5 253.3,845.2 253.4,845.9 253.5,846.0 253.6,849.2 253.7,845.2 253.7,844.9 253.8,847.8 253.9,848.0 254.0,848.3 254.1,846.3 254.2,847.7 254.2,850.4 254.3,847.4 254.4,848.5 254.5,849.2 254.6,846.5 254.6,847.0 254.7,848.2 254.8,848.8 254.9,850.0 255.0,849.6 255.1,848.7 255.1,845.3 255.2,848.2 255.3,846.8 255.4,848.1 255.5,846.0 255.6,848.4 255.6,846.3 255.7,845.5 255.8,846.7 255.9,846.7 256.0,845.3 256.1,844.9 256.1,846.1 256.2,847.7 256.3,846.5 256.4,847.7 256.5,849.4 256.6,847.4 256.6,844.7 256.7,845.4 256.8,846.7 256.9,845.9 257.0,846.5 257.1,846.8 257.1,846.6 257.2,845.6 257.3,843.2 257.4,843.8 257.5,843.3 257.6,844.5 257.6,845.8 257.7,844.1 257.8,841.0 257.9,839.6 258.0,838.8 258.1,842.0 258.1,839.4 258.2,837.8 258.3,839.2 258.4,837.9 258.5,839.6 258.6,841.6 258.6,843.3 258.7,841.2 258.8,843.9 258.9,841.5 259.0,845.3 259.1,842.1 259.1,845.3 259.2,844.2 259.3,846.0 259.4,848.1 259.5,846.9 259.6,844.6 259.6,845.0 259.7,845.2 259.8,845.8 259.9,845.1 260.0,845.6 260.1,846.2 260.1,849.9 260.2,850.4 260.3,850.4 260.4,846.7 260.5,848.1 260.6,849.5 260.6,846.8 260.7,850.0 260.8,847.2 261.0,848.2 261.4,852.4 261.7,848.1 262.1,852.6 262.4,847.5 262.8,852.6 263.2,848.0 263.5,852.9 263.9,847.6 264.2,852.4 264.6,847.7 264.9,852.7 265.3,847.9 265.7,852.9 266.0,847.6 266.4,852.8 266.7,847.8 267.1,852.7 267.4,847.7 267.8,853.2 268.1,848.0 268.5,852.6 268.9,847.7 269.2,852.5 269.6,848.2 269.9,853.0 270.3,847.8 270.6,852.6 271.0,848.1 271.4,852.5 271.7,847.9 272.1,852.9 272.4,847.5 272.8,853.1 273.1,847.4 273.5,852.9 273.8,847.9 274.2,853.0 274.6,847.8 274.9,852.5 275.3,848.0 275.6,852.7 276.0,847.9 276.3,852.9 276.7,848.1 277.1,852.6 277.4,847.9 277.8,852.8 278.1,847.7 278.5,853.1 278.8,847.5 279.2,852.4 279.5,848.0 279.9,852.5 280.3,847.6 280.6,853.0 281.0,848.0 281.3,853.1 281.7,847.9 282.0,852.8 282.4,847.8 282.8,852.8 283.1,847.8 283.5,853.1 283.8,848.0 284.2,852.7 284.5,847.8 284.9,853.1 285.3,848.0 285.6,852.4 286.0,847.5 286.3,852.6 286.7,847.9 287.0,852.8 287.4,847.6 287.7,852.7 288.1,847.7 288.5,853.2 288.8,847.6 289.2,853.0 289.5,848.0 289.9,852.7 290.2,847.4 290.6,852.9 291.0,847.7 291.3,853.0 291.7,847.4 292.0,853.0 292.4,847.8 292.7,852.6 293.1,847.6 293.4,852.8 293.8,847.7 294.2,853.2 294.5,847.4 294.9,852.7 295.2,847.7 295.6,853.0 295.9,847.8 296.3,852.7 296.7,847.9 297.0,853.1 297.4,848.1 297.7,852.5 298.1,848.1 298.4,852.8 298.8,847.6 299.2,853.0 299.5,847.5 299.9,852.8 300.2,847.4 300.6,853.0 300.9,847.9 301.3,852.9 301.6,848.0 302.0,852.8 302.4,847.9 302.7,852.9 303.1,847.5 303.4,852.9 303.8,848.2 304.1,852.6 304.5,847.9 304.9,853.2 305.2,847.6 305.6,852.6 305.9,847.7 306.3,852.5 306.6,848.0 307.0,852.5 307.3,847.9 307.7,852.5 308.1,847.4 308.4,852.7 308.8,847.9 309.1,852.6 309.5,847.6 309.8,852.8 310.2,848.2 310.6,852.9 310.9,847.6 311.3,853.2 311.6,847.9 312.0,852.4 312.3,847.6 312.7,853.0 313.1,848.1 313.4,852.7 313.8,847.7 314.1,853.0 314.5,847.8 314.8,852.3 315.2,847.7 315.5,852.7 315.9,848.2 316.3,852.8 316.6,848.2 317.0,852.4 317.3,847.8 317.7,852.7 318.0,847.6 318.4,853.2 318.8,847.5 319.1,852.6 319.5,848.2 319.8,852.4 320.2,847.5 320.5,852.3 320.9,848.2 321.2,852.4 321.6,847.6 322.0,853.0 322.3,848.2 322.7,852.6 323.0,848.2 323.4,852.7 323.7,847.5 324.1,852.9 324.0,848.1 324.1,859.6" fill="none" stroke="#e9117f" stroke-width="1.0" stroke-linejoin="round"/>
<line x1="56.8" y1="646.4" x2="56.8" y2="864.8" stroke="#888" stroke-width="1.7"/>
<line x1="52.2" y1="864.2" x2="324.6" y2="864.2" stroke="#333" stroke-width="1.2"/>
<line x1="52.2" y1="864.2" x2="56.8" y2="864.2" stroke="#333" stroke-width="1"/>
<text x="49.8" y="868.6" font-size="14.6" fill="#e9117f" text-anchor="end" font-weight="bold" stroke="#e9117f" stroke-width="0.3">0</text>
<line x1="54.3" y1="853.3" x2="56.8" y2="853.3" stroke="#333" stroke-width="1"/>
<line x1="52.2" y1="842.4" x2="56.8" y2="842.4" stroke="#333" stroke-width="1"/>
<text x="49.8" y="846.8" font-size="14.6" fill="#e9117f" text-anchor="end" font-weight="bold" stroke="#e9117f" stroke-width="0.3">250</text>
<line x1="54.3" y1="831.5" x2="56.8" y2="831.5" stroke="#333" stroke-width="1"/>
<line x1="52.2" y1="820.6" x2="56.8" y2="820.6" stroke="#333" stroke-width="1"/>
<text x="49.8" y="825.0" font-size="14.6" fill="#e9117f" text-anchor="end" font-weight="bold" stroke="#e9117f" stroke-width="0.3">500</text>
<line x1="54.3" y1="809.7" x2="56.8" y2="809.7" stroke="#333" stroke-width="1"/>
<line x1="52.2" y1="798.8" x2="56.8" y2="798.8" stroke="#333" stroke-width="1"/>
<text x="49.8" y="803.2" font-size="14.6" fill="#e9117f" text-anchor="end" font-weight="bold" stroke="#e9117f" stroke-width="0.3">750</text>
<line x1="54.3" y1="787.9" x2="56.8" y2="787.9" stroke="#333" stroke-width="1"/>
<line x1="52.2" y1="777.0" x2="56.8" y2="777.0" stroke="#333" stroke-width="1"/>
<text x="49.8" y="781.4" font-size="14.6" fill="#e9117f" text-anchor="end" font-weight="bold" stroke="#e9117f" stroke-width="0.3">1000</text>
<line x1="54.3" y1="766.1" x2="56.8" y2="766.1" stroke="#333" stroke-width="1"/>
<line x1="52.2" y1="755.2" x2="56.8" y2="755.2" stroke="#333" stroke-width="1"/>
<text x="49.8" y="759.6" font-size="14.6" fill="#e9117f" text-anchor="end" font-weight="bold" stroke="#e9117f" stroke-width="0.3">1250</text>
<line x1="54.3" y1="744.3" x2="56.8" y2="744.3" stroke="#333" stroke-width="1"/>
<line x1="52.2" y1="733.4" x2="56.8" y2="733.4" stroke="#333" stroke-width="1"/>
<text x="49.8" y="737.8" font-size="14.6" fill="#e9117f" text-anchor="end" font-weight="bold" stroke="#e9117f" stroke-width="0.3">1500</text>
<line x1="54.3" y1="722.5" x2="56.8" y2="722.5" stroke="#333" stroke-width="1"/>
<line x1="52.2" y1="711.6" x2="56.8" y2="711.6" stroke="#333" stroke-width="1"/>
<text x="49.8" y="716.0" font-size="14.6" fill="#e9117f" text-anchor="end" font-weight="bold" stroke="#e9117f" stroke-width="0.3">1750</text>
<line x1="54.3" y1="700.7" x2="56.8" y2="700.7" stroke="#333" stroke-width="1"/>
<line x1="52.2" y1="689.8" x2="56.8" y2="689.8" stroke="#333" stroke-width="1"/>
<text x="49.8" y="694.2" font-size="14.6" fill="#e9117f" text-anchor="end" font-weight="bold" stroke="#e9117f" stroke-width="0.3">2000</text>
<line x1="54.3" y1="678.9" x2="56.8" y2="678.9" stroke="#333" stroke-width="1"/>
<line x1="52.2" y1="668.0" x2="56.8" y2="668.0" stroke="#333" stroke-width="1"/>
<text x="49.8" y="672.4" font-size="14.6" fill="#e9117f" text-anchor="end" font-weight="bold" stroke="#e9117f" stroke-width="0.3">2250</text>
<line x1="54.3" y1="657.1" x2="56.8" y2="657.1" stroke="#333" stroke-width="1"/>
<line x1="52.2" y1="646.2" x2="56.8" y2="646.2" stroke="#333" stroke-width="1"/>
<text x="49.8" y="650.6" font-size="14.6" fill="#e9117f" text-anchor="end" font-weight="bold" stroke="#e9117f" stroke-width="0.3">2500</text>
<line x1="56.8" y1="864.2" x2="56.8" y2="868.4" stroke="#333" stroke-width="1"/>
<text x="56.8" y="882.0" font-size="13.4" fill="#e9117f" text-anchor="middle" font-weight="bold" stroke="#e9117f" stroke-width="0.3">10</text>
<line x1="71.6" y1="864.2" x2="71.6" y2="866.5" stroke="#333" stroke-width="1"/>
<line x1="86.5" y1="864.2" x2="86.5" y2="868.4" stroke="#333" stroke-width="1"/>
<text x="86.5" y="882.0" font-size="13.4" fill="#e9117f" text-anchor="middle" font-weight="bold" stroke="#e9117f" stroke-width="0.3">20</text>
<line x1="101.3" y1="864.2" x2="101.3" y2="866.5" stroke="#333" stroke-width="1"/>
<line x1="116.2" y1="864.2" x2="116.2" y2="868.4" stroke="#333" stroke-width="1"/>
<text x="116.2" y="882.0" font-size="13.4" fill="#e9117f" text-anchor="middle" font-weight="bold" stroke="#e9117f" stroke-width="0.3">30</text>
<line x1="131.1" y1="864.2" x2="131.1" y2="866.5" stroke="#333" stroke-width="1"/>
<line x1="145.9" y1="864.2" x2="145.9" y2="868.4" stroke="#333" stroke-width="1"/>
<text x="145.9" y="882.0" font-size="13.4" fill="#e9117f" text-anchor="middle" font-weight="bold" stroke="#e9117f" stroke-width="0.3">40</text>
<line x1="160.8" y1="864.2" x2="160.8" y2="866.5" stroke="#333" stroke-width="1"/>
<line x1="175.6" y1="864.2" x2="175.6" y2="868.4" stroke="#333" stroke-width="1"/>
<text x="175.6" y="882.0" font-size="13.4" fill="#e9117f" text-anchor="middle" font-weight="bold" stroke="#e9117f" stroke-width="0.3">50</text>
<line x1="190.4" y1="864.2" x2="190.4" y2="866.5" stroke="#333" stroke-width="1"/>
<line x1="205.3" y1="864.2" x2="205.3" y2="868.4" stroke="#333" stroke-width="1"/>
<text x="205.3" y="882.0" font-size="13.4" fill="#e9117f" text-anchor="middle" font-weight="bold" stroke="#e9117f" stroke-width="0.3">60</text>
<line x1="220.1" y1="864.2" x2="220.1" y2="866.5" stroke="#333" stroke-width="1"/>
<line x1="235.0" y1="864.2" x2="235.0" y2="868.4" stroke="#333" stroke-width="1"/>
<text x="235.0" y="882.0" font-size="13.4" fill="#e9117f" text-anchor="middle" font-weight="bold" stroke="#e9117f" stroke-width="0.3">70</text>
<line x1="249.9" y1="864.2" x2="249.9" y2="866.5" stroke="#333" stroke-width="1"/>
<line x1="264.7" y1="864.2" x2="264.7" y2="868.4" stroke="#333" stroke-width="1"/>
<text x="264.7" y="882.0" font-size="13.4" fill="#e9117f" text-anchor="middle" font-weight="bold" stroke="#e9117f" stroke-width="0.3">80</text>
<line x1="279.6" y1="864.2" x2="279.6" y2="866.5" stroke="#333" stroke-width="1"/>
<line x1="294.4" y1="864.2" x2="294.4" y2="868.4" stroke="#333" stroke-width="1"/>
<text x="294.4" y="882.0" font-size="13.4" fill="#e9117f" text-anchor="middle" font-weight="bold" stroke="#e9117f" stroke-width="0.3">90</text>
<line x1="309.2" y1="864.2" x2="309.2" y2="866.5" stroke="#333" stroke-width="1"/>
<line x1="324.1" y1="864.2" x2="324.1" y2="868.4" stroke="#333" stroke-width="1"/>
<text x="324.1" y="882.0" font-size="13.4" fill="#e9117f" text-anchor="middle" font-weight="bold" stroke="#e9117f" stroke-width="0.3">100</text>
<text transform="translate(9.7,770.6) rotate(-90)" font-size="15.3" fill="#e9117f" stroke="#e9117f" stroke-width="0.3" font-weight="bold" text-anchor="middle" textLength="100.4" lengthAdjust="spacingAndGlyphs">Intensity Counts</text>
<text x="169.1" y="899.0" font-size="13.2" fill="#e9117f" text-anchor="middle" font-weight="bold" stroke="#e9117f" stroke-width="0.3" textLength="52.9" lengthAdjust="spacingAndGlyphs">Angle, 2<tspan font-weight="normal">θ</tspan></text>
<text x="113.6" y="929.5" font-size="18" fill="#1a1a1a" textLength="102.2" lengthAdjust="spacingAndGlyphs">(e) <tspan fill="#e0201b">Sample S4</tspan></text>
<text x="74.2" y="796.3" font-size="14" fill="#111" stroke="#111" stroke-width="0.3" font-weight="bold">B<tspan font-size="9.5" dy="3.8">4</tspan><tspan dy="-3.8">C</tspan></text>
<text x="100.3" y="784.0" font-size="14" fill="#111" text-anchor="start" font-weight="bold" stroke="#111" stroke-width="0.3">Gr</text>
<text x="101.3" y="805.4" font-size="14" fill="#111" stroke="#111" stroke-width="0.3" font-weight="bold">B<tspan font-size="9.5" dy="3.8">4</tspan><tspan dy="-3.8">C</tspan></text>
<text x="135.3" y="801.2" font-size="14" fill="#111" text-anchor="start" font-weight="bold" stroke="#111" stroke-width="0.3">Al</text>
<text x="156.2" y="672.7" font-size="14" fill="#111" text-anchor="start" font-weight="bold" stroke="#111" stroke-width="0.3">Al</text>
<text x="177.6" y="772.4" font-size="14" fill="#111" text-anchor="start" font-weight="bold" stroke="#111" stroke-width="0.3">Al</text>
<text x="180.8" y="806.6" font-size="14" fill="#111" text-anchor="start" font-weight="bold" stroke="#111" stroke-width="0.3">Cu</text>
<polyline points="408.2,850.0 408.3,852.1 408.4,850.1 408.4,848.5 408.5,851.8 408.6,848.1 408.7,849.8 408.8,849.4 408.9,848.4 408.9,851.0 409.0,847.6 409.1,851.2 409.2,847.9 409.3,849.7 409.4,848.6 409.4,850.6 409.5,850.8 409.6,848.6 409.7,847.9 409.8,849.4 409.9,848.2 409.9,847.7 410.0,849.4 410.1,851.0 410.2,847.9 410.3,850.0 410.4,850.8 410.4,851.1 410.5,851.4 410.6,847.7 410.7,848.3 410.8,852.8 410.8,849.7 410.9,850.6 411.0,852.1 411.1,846.8 411.2,847.9 411.3,850.0 411.3,846.5 411.4,847.2 411.5,850.3 411.6,848.8 411.7,850.5 411.8,849.5 411.8,849.1 411.9,851.6 412.0,852.7 412.1,853.3 412.2,850.7 412.3,851.0 412.3,851.9 412.4,850.6 412.5,850.9 412.6,850.2 412.7,850.9 412.8,851.2 412.8,849.0 412.9,847.5 413.0,849.1 413.1,851.0 413.2,848.6 413.2,847.3 413.3,850.2 413.4,852.4 413.5,851.4 413.6,847.9 413.7,847.9 413.7,851.8 413.8,848.4 413.9,848.8 414.0,848.7 414.1,849.9 414.2,851.5 414.2,848.6 414.3,848.9 414.4,852.1 414.5,849.5 414.6,846.8 414.7,851.9 414.7,848.2 414.8,847.2 414.9,847.0 415.0,848.0 415.1,847.9 415.2,846.6 415.2,848.8 415.3,850.1 415.4,848.2 415.5,846.1 415.6,850.1 415.6,846.9 415.7,850.5 415.8,846.5 415.9,852.0 416.0,847.9 416.1,848.4 416.1,849.5 416.2,851.5 416.3,845.9 416.4,847.7 416.5,847.8 416.6,851.4 416.6,849.8 416.7,852.3 416.8,852.1 416.9,849.1 417.0,851.2 417.1,848.6 417.1,851.0 417.2,848.9 417.3,851.0 417.4,850.5 417.5,847.8 417.5,848.6 417.6,849.7 417.7,849.2 417.8,849.8 417.9,848.2 418.0,847.6 418.0,850.7 418.1,852.3 418.2,850.3 418.3,853.4 418.4,848.7 418.5,851.9 418.5,849.9 418.6,847.1 418.7,850.5 418.8,851.1 418.9,850.3 419.0,852.0 419.0,849.7 419.1,847.4 419.2,852.4 419.3,848.1 419.4,848.2 419.5,850.0 419.5,851.6 419.6,847.7 419.7,851.6 419.8,848.3 419.9,848.6 419.9,848.1 420.0,847.7 420.1,851.6 420.2,849.5 420.3,851.0 420.4,845.5 420.4,846.1 420.5,851.1 420.6,851.3 420.7,851.8 420.8,848.4 420.9,850.6 420.9,850.9 421.0,846.0 421.1,849.0 421.2,848.3 421.3,851.5 421.4,847.1 421.4,847.4 421.5,848.4 421.6,848.2 421.7,851.1 421.8,847.3 421.9,849.4 421.9,849.9 422.0,848.3 422.1,847.4 422.2,847.6 422.3,850.9 422.3,851.8 422.4,850.9 422.5,852.2 422.6,848.6 422.7,847.6 422.8,849.7 422.8,851.4 422.9,848.5 423.0,846.5 423.1,849.9 423.2,850.5 423.3,848.3 423.3,846.8 423.4,852.0 423.5,852.1 423.6,848.0 423.7,850.9 423.8,848.1 423.8,847.5 423.9,847.2 424.0,850.1 424.1,847.1 424.2,846.0 424.3,847.8 424.3,846.4 424.4,850.9 424.5,848.5 424.6,849.4 424.7,848.0 424.7,846.3 424.8,850.2 424.9,850.9 425.0,845.5 425.1,850.0 425.2,847.4 425.2,851.5 425.3,846.8 425.4,851.4 425.5,847.7 425.6,851.9 425.7,848.8 425.7,849.2 425.8,851.9 425.9,846.9 426.0,848.4 426.1,847.1 426.2,846.6 426.2,848.1 426.3,849.5 426.4,848.4 426.5,846.5 426.6,848.6 426.7,851.9 426.7,848.4 426.8,852.5 426.9,848.8 427.0,851.1 427.1,850.7 427.1,850.0 427.2,847.4 427.3,847.4 427.4,847.1 427.5,848.1 427.6,848.8 427.6,849.6 427.7,849.3 427.8,847.8 427.9,847.0 428.0,850.6 428.1,848.1 428.1,847.9 428.2,845.8 428.3,848.1 428.4,850.1 428.5,850.6 428.6,849.1 428.6,849.4 428.7,845.8 428.8,850.2 428.9,849.5 429.0,846.9 429.1,850.5 429.1,848.7 429.2,850.0 429.3,851.5 429.4,849.2 429.5,847.6 429.5,846.5 429.6,849.8 429.7,846.8 429.8,850.4 429.9,848.5 430.0,846.3 430.0,847.2 430.1,845.4 430.2,845.9 430.3,850.1 430.4,847.8 430.5,850.2 430.5,850.0 430.6,850.1 430.7,848.6 430.8,848.2 430.9,848.2 431.0,849.7 431.0,850.6 431.1,851.0 431.2,850.3 431.3,849.6 431.4,848.5 431.4,848.5 431.5,847.1 431.6,848.1 431.7,850.4 431.8,847.0 431.9,847.6 431.9,849.4 432.0,848.5 432.1,846.8 432.2,849.1 432.3,847.3 432.4,848.2 432.4,849.9 432.5,847.1 432.6,846.8 432.7,848.5 432.8,845.2 432.9,846.6 432.9,847.5 433.0,846.0 433.1,845.6 433.2,849.4 433.3,846.0 433.4,847.9 433.4,850.5 433.5,847.8 433.6,847.6 433.7,844.8 433.8,846.3 433.8,848.9 433.9,844.7 434.0,849.7 434.1,846.0 434.2,846.3 434.3,850.8 434.3,846.9 434.4,847.4 434.5,848.8 434.6,850.0 434.7,850.6 434.8,849.5 434.8,848.3 434.9,848.3 435.0,847.3 435.1,848.8 435.2,846.9 435.3,846.7 435.3,846.5 435.4,843.5 435.5,849.5 435.6,845.1 435.7,849.9 435.8,846.6 435.8,844.8 435.9,850.3 436.0,849.2 436.1,847.2 436.2,847.1 436.2,850.9 436.3,849.3 436.4,846.9 436.5,847.3 436.6,849.0 436.7,846.7 436.7,846.0 436.8,847.9 436.9,845.6 437.0,844.5 437.1,846.8 437.2,848.8 437.2,848.1 437.3,847.5 437.4,848.9 437.5,845.7 437.6,845.9 437.7,847.8 437.7,847.5 437.8,849.2 437.9,844.2 438.0,846.9 438.1,847.8 438.2,850.2 438.2,847.3 438.3,849.1 438.4,848.5 438.5,849.2 438.6,847.5 438.6,848.2 438.7,843.9 438.8,844.9 438.9,849.0 439.0,846.1 439.1,846.5 439.1,844.0 439.2,848.1 439.3,849.4 439.4,844.1 439.5,847.6 439.6,848.3 439.6,846.8 439.7,846.4 439.8,845.8 439.9,844.7 440.0,848.5 440.1,849.1 440.1,848.1 440.2,844.7 440.3,844.5 440.4,846.4 440.5,848.3 440.6,846.1 440.6,847.6 440.7,843.3 440.8,845.4 440.9,847.1 441.0,848.3 441.0,844.6 441.1,846.3 441.2,845.3 441.3,846.2 441.4,844.5 441.5,847.9 441.5,843.4 441.6,844.2 441.7,843.4 441.8,842.7 441.9,847.7 442.0,843.2 442.0,843.5 442.1,846.7 442.2,847.6 442.3,844.0 442.4,842.1 442.5,845.8 442.5,842.3 442.6,844.1 442.7,842.5 442.8,844.3 442.9,842.1 443.0,843.1 443.0,844.9 443.1,845.1 443.2,842.7 443.3,844.4 443.4,842.8 443.4,841.9 443.5,834.4 443.6,827.7 443.7,817.6 443.8,801.1 443.9,802.9 443.9,822.8 444.0,830.1 444.1,838.3 444.2,843.8 444.3,839.1 444.4,844.0 444.4,844.3 444.5,846.3 444.6,842.9 444.7,844.6 444.8,846.6 444.9,845.0 444.9,842.0 445.0,842.9 445.1,844.9 445.2,847.2 445.3,843.6 445.4,845.6 445.4,842.6 445.5,844.3 445.6,843.2 445.7,848.9 445.8,847.9 445.8,845.8 445.9,842.2 446.0,844.1 446.1,843.2 446.2,838.9 446.3,831.9 446.3,831.2 446.4,836.5 446.5,841.7 446.6,842.8 446.7,844.6 446.8,842.4 446.8,841.7 446.9,842.0 447.0,846.2 447.1,845.2 447.2,844.6 447.3,845.7 447.3,846.4 447.4,844.6 447.5,845.7 447.6,841.4 447.7,844.7 447.7,845.5 447.8,844.4 447.9,840.3 448.0,843.1 448.1,843.5 448.2,841.9 448.2,845.9 448.3,845.3 448.4,840.4 448.5,844.5 448.6,840.9 448.7,841.7 448.7,846.5 448.8,843.0 448.9,846.3 449.0,843.7 449.1,841.3 449.2,845.5 449.2,840.0 449.3,840.8 449.4,844.3 449.5,844.1 449.6,841.0 449.7,840.2 449.7,838.6 449.8,835.9 449.9,829.2 450.0,820.2 450.1,804.8 450.2,790.4 450.2,798.6 450.3,816.5 450.4,827.4 450.5,837.9 450.6,836.4 450.6,841.7 450.7,839.4 450.8,843.9 450.9,844.3 451.0,841.7 451.1,839.6 451.1,841.2 451.2,842.8 451.3,841.9 451.4,844.7 451.5,845.8 451.6,840.6 451.6,841.8 451.7,843.6 451.8,841.1 451.9,844.2 452.0,843.1 452.1,840.3 452.1,843.4 452.2,842.9 452.3,840.8 452.4,842.0 452.5,844.5 452.5,845.8 452.6,844.0 452.7,840.6 452.8,841.4 452.9,844.5 453.0,843.1 453.0,842.4 453.1,842.4 453.2,843.1 453.3,843.8 453.4,844.1 453.5,841.4 453.5,843.8 453.6,842.2 453.7,842.9 453.8,838.7 453.9,839.2 454.0,843.2 454.0,838.3 454.1,839.8 454.2,842.0 454.3,838.6 454.4,841.1 454.5,840.4 454.5,841.9 454.6,839.9 454.7,840.9 454.8,838.7 454.9,839.9 454.9,840.7 455.0,839.5 455.1,832.8 455.2,825.2 455.3,813.4 455.3,810.3 455.4,821.2 455.5,831.6 455.6,837.4 455.7,838.3 455.8,841.0 455.9,842.3 455.9,840.3 456.0,839.3 456.1,838.3 456.2,838.9 456.3,843.6 456.4,838.3 456.4,842.4 456.5,843.7 456.6,839.0 456.7,840.1 456.8,839.8 456.9,840.5 456.9,845.0 457.0,841.1 457.1,843.2 457.2,841.4 457.3,845.5 457.3,845.3 457.4,840.9 457.5,841.4 457.6,839.2 457.7,842.4 457.8,840.8 457.8,840.8 457.9,843.9 458.0,840.9 458.1,842.9 458.2,840.2 458.3,843.6 458.3,840.7 458.4,841.3 458.5,844.4 458.6,843.0 458.7,843.5 458.8,840.7 458.8,840.5 458.9,839.1 459.0,838.9 459.1,838.9 459.2,843.4 459.3,839.5 459.3,841.6 459.4,839.7 459.5,842.0 459.6,842.9 459.7,839.4 459.7,841.9 459.8,841.5 459.9,843.1 460.0,841.6 460.1,842.8 460.2,843.6 460.2,843.2 460.3,842.4 460.4,838.8 460.5,838.9 460.6,839.0 460.7,838.9 460.7,842.2 460.8,839.8 460.9,840.2 461.0,840.8 461.1,844.6 461.2,840.3 461.2,843.7 461.3,842.7 461.4,839.4 461.5,842.1 461.6,840.8 461.7,839.9 461.7,843.4 461.8,838.5 461.9,842.6 462.0,841.2 462.1,842.0 462.1,843.8 462.2,841.9 462.3,843.4 462.4,839.6 462.5,842.0 462.6,844.2 462.6,841.3 462.7,838.7 462.8,840.8 462.9,841.4 463.0,840.0 463.1,840.0 463.1,843.5 463.2,841.7 463.3,838.7 463.4,839.9 463.5,843.8 463.6,844.1 463.6,839.2 463.7,842.5 463.8,843.0 463.9,838.6 464.0,842.3 464.0,840.3 464.1,839.5 464.2,840.6 464.3,841.1 464.4,842.1 464.5,842.5 464.5,839.4 464.6,839.9 464.7,842.0 464.8,839.4 464.9,843.1 465.0,839.8 465.0,843.5 465.1,839.1 465.2,840.0 465.3,838.0 465.4,842.5 465.5,842.3 465.5,842.4 465.6,837.7 465.7,841.3 465.8,837.9 465.9,834.6 466.0,839.1 466.0,833.8 466.1,831.5 466.2,830.3 466.3,826.8 466.4,830.7 466.4,830.7 466.5,834.6 466.6,840.1 466.7,837.2 466.8,838.7 466.9,841.1 466.9,839.5 467.0,841.5 467.1,843.2 467.2,842.0 467.3,841.7 467.4,837.2 467.4,843.2 467.5,837.9 467.6,839.7 467.7,841.5 467.8,840.6 467.9,840.6 467.9,841.1 468.0,842.2 468.1,841.7 468.2,841.6 468.3,839.2 468.4,842.5 468.4,842.5 468.5,843.3 468.6,841.4 468.7,840.2 468.8,840.3 468.8,840.3 468.9,841.0 469.0,844.2 469.1,842.5 469.2,840.3 469.3,841.7 469.3,843.3 469.4,839.5 469.5,842.3 469.6,839.6 469.7,840.7 469.8,840.4 469.8,839.4 469.9,839.8 470.0,841.3 470.1,843.5 470.2,840.1 470.3,838.7 470.3,839.2 470.4,838.1 470.5,843.3 470.6,838.6 470.7,843.2 470.8,839.2 470.8,839.0 470.9,840.0 471.0,842.8 471.1,842.8 471.2,841.6 471.2,842.5 471.3,842.2 471.4,843.2 471.5,841.2 471.6,844.7 471.7,842.5 471.7,842.8 471.8,843.0 471.9,840.2 472.0,841.3 472.1,841.8 472.2,843.5 472.2,845.0 472.3,845.0 472.4,845.1 472.5,839.9 472.6,839.7 472.7,842.8 472.7,844.5 472.8,842.8 472.9,841.1 473.0,839.5 473.1,842.0 473.2,841.0 473.2,844.6 473.3,842.4 473.4,842.0 473.5,844.3 473.6,840.2 473.6,838.4 473.7,841.2 473.8,843.3 473.9,840.6 474.0,840.2 474.1,839.7 474.1,843.1 474.2,842.7 474.3,837.9 474.4,843.5 474.5,840.0 474.6,841.3 474.6,842.5 474.7,842.9 474.8,843.1 474.9,845.4 475.0,844.2 475.1,843.0 475.1,839.1 475.2,840.7 475.3,841.9 475.4,838.6 475.5,840.6 475.6,839.1 475.6,837.0 475.7,837.2 475.8,836.6 475.9,837.6 476.0,838.5 476.0,838.4 476.1,843.8 476.2,843.2 476.3,845.0 476.4,844.1 476.5,843.4 476.5,841.8 476.6,842.9 476.7,842.3 476.8,839.4 476.9,842.0 477.0,844.1 477.0,840.6 477.1,843.7 477.2,840.7 477.3,843.2 477.4,840.5 477.5,842.4 477.5,840.8 477.6,842.1 477.7,840.3 477.8,839.6 477.9,841.1 477.9,844.0 478.0,845.1 478.1,839.3 478.2,843.3 478.3,839.7 478.4,841.3 478.4,841.7 478.5,840.3 478.6,840.3 478.7,844.1 478.8,843.8 478.9,843.0 478.9,839.4 479.0,842.8 479.1,841.3 479.2,843.2 479.3,840.3 479.4,839.9 479.4,844.4 479.5,844.3 479.6,845.5 479.7,841.6 479.8,839.6 479.9,842.3 479.9,839.9 480.0,840.6 480.1,842.4 480.2,844.8 480.3,843.2 480.3,844.1 480.4,841.0 480.5,842.0 480.6,843.9 480.7,846.1 480.8,843.6 480.8,845.0 480.9,845.1 481.0,843.7 481.1,839.8 481.2,841.9 481.3,843.9 481.3,839.8 481.4,841.2 481.5,842.2 481.6,841.6 481.7,841.6 481.8,839.5 481.8,843.4 481.9,839.3 482.0,840.5 482.1,836.6 482.2,835.5 482.3,830.9 482.4,824.4 482.4,825.4 482.5,830.6 482.6,836.7 482.7,835.8 482.7,840.4 482.8,842.7 482.9,842.4 483.0,842.6 483.1,839.3 483.2,842.6 483.2,838.8 483.3,841.7 483.4,843.7 483.5,841.7 483.6,838.7 483.7,841.4 483.7,843.4 483.8,843.9 483.9,839.5 484.0,839.4 484.1,841.0 484.2,842.8 484.2,842.1 484.3,840.9 484.4,843.7 484.5,843.8 484.6,842.7 484.7,841.9 484.7,840.2 484.8,842.1 484.9,838.6 485.0,840.1 485.1,841.0 485.1,842.9 485.2,840.0 485.3,842.6 485.4,841.9 485.5,840.8 485.6,839.4 485.6,843.9 485.7,840.4 485.8,839.5 485.9,842.0 486.0,841.2 486.1,844.3 486.1,839.0 486.2,841.4 486.3,842.2 486.4,841.8 486.5,840.8 486.6,839.4 486.6,842.5 486.7,842.7 486.8,842.4 486.9,838.6 487.0,838.0 487.1,840.4 487.1,837.2 487.2,842.2 487.3,838.7 487.4,836.2 487.5,835.8 487.5,835.1 487.6,834.5 487.7,839.2 487.8,839.4 487.9,840.7 488.0,840.5 488.0,838.5 488.1,838.4 488.2,842.2 488.3,841.0 488.4,839.6 488.5,841.9 488.5,842.7 488.6,842.7 488.7,843.8 488.8,841.2 488.9,840.8 489.0,841.8 489.0,838.6 489.1,838.9 489.2,838.5 489.3,841.3 489.4,839.0 489.5,841.8 489.5,841.9 489.6,842.5 489.7,839.0 489.8,840.6 489.9,842.2 489.9,842.4 490.0,838.1 490.1,838.5 490.2,838.2 490.3,840.4 490.4,839.9 490.4,842.8 490.5,843.2 490.6,838.7 490.7,841.2 490.8,837.3 490.9,838.9 490.9,835.7 491.0,836.5 491.1,837.7 491.2,833.6 491.3,834.8 491.4,830.4 491.4,827.9 491.5,826.3 491.6,823.3 491.7,817.2 491.8,815.5 491.9,812.4 492.0,806.2 492.0,804.6 492.1,810.7 492.2,815.6 492.3,820.3 492.3,823.8 492.4,823.4 492.5,830.7 492.6,831.2 492.7,833.2 492.8,833.9 492.8,834.9 492.9,836.5 493.0,841.1 493.1,839.4 493.2,840.7 493.3,839.5 493.3,836.9 493.4,837.7 493.5,837.2 493.6,841.5 493.7,841.9 493.8,838.6 493.8,842.0 493.9,840.7 494.0,839.0 494.1,841.8 494.2,839.9 494.2,838.4 494.3,841.8 494.4,841.5 494.5,841.0 494.6,839.0 494.7,839.1 494.7,839.3 494.8,841.5 494.9,840.4 495.0,839.6 495.1,843.2 495.2,839.5 495.2,839.7 495.3,843.6 495.4,837.6 495.5,839.2 495.6,837.9 495.7,843.0 495.7,840.5 495.8,840.4 495.9,842.5 496.0,841.8 496.1,838.5 496.2,840.0 496.2,841.7 496.3,841.4 496.4,838.9 496.5,840.5 496.6,839.3 496.6,841.1 496.7,838.4 496.8,840.0 496.9,841.6 497.0,840.1 497.1,836.1 497.1,835.7 497.2,838.5 497.3,833.1 497.4,829.7 497.4,831.6 497.6,831.7 497.6,834.5 497.7,836.1 497.8,837.9 497.9,841.0 498.0,839.3 498.1,836.8 498.1,837.6 498.2,843.4 498.3,837.3 498.4,841.7 498.5,839.8 498.6,842.3 498.6,840.8 498.7,840.6 498.8,837.5 498.9,842.2 499.0,837.0 499.0,839.7 499.1,836.3 499.2,836.0 499.3,837.4 499.4,837.9 499.5,840.4 499.5,836.8 499.6,836.1 499.7,834.7 499.8,835.1 499.9,835.0 500.0,829.3 500.0,822.7 500.1,816.8 500.2,816.4 500.3,816.1 500.4,820.8 500.5,822.9 500.5,827.6 500.6,826.9 500.7,832.8 500.8,828.1 500.9,828.4 501.0,828.6 501.0,827.8 501.1,831.2 501.2,824.1 501.3,825.5 501.4,822.8 501.4,815.4 501.5,809.5 501.6,798.3 501.7,782.1 501.8,755.2 501.9,728.0 501.9,697.2 502.0,673.9 502.1,668.0 502.2,689.5 502.3,721.6 502.4,752.7 502.4,772.8 502.5,796.4 502.6,806.5 502.7,817.5 502.8,821.9 502.9,824.1 502.9,825.5 503.0,829.1 503.1,835.0 503.2,835.6 503.3,832.5 503.4,834.9 503.4,837.9 503.5,838.5 503.6,839.5 503.7,837.4 503.8,837.4 503.8,839.6 503.9,835.1 504.0,837.1 504.1,834.1 504.2,839.3 504.3,832.9 504.3,831.0 504.4,833.6 504.5,826.9 504.6,830.2 504.7,828.9 504.8,837.0 504.8,838.4 504.9,839.4 505.0,840.3 505.1,837.7 505.2,838.9 505.3,838.5 505.3,839.0 505.4,842.1 505.5,840.4 505.6,836.5 505.7,838.9 505.8,839.6 505.8,841.1 505.9,837.0 506.0,838.2 506.1,836.3 506.2,839.8 506.2,840.7 506.3,839.2 506.4,839.5 506.5,836.0 506.6,836.9 506.7,836.1 506.7,833.1 506.8,830.8 506.9,833.5 507.0,834.1 507.1,827.9 507.2,828.3 507.2,823.6 507.3,821.2 507.4,815.2 507.5,812.3 507.6,814.1 507.6,811.3 507.7,810.8 507.8,815.8 507.9,820.9 508.0,822.5 508.1,822.2 508.1,826.5 508.2,830.9 508.3,835.5 508.4,836.5 508.5,834.8 508.6,836.1 508.6,840.3 508.7,840.2 508.8,837.1 508.9,839.4 509.0,836.0 509.1,838.0 509.1,836.2 509.2,841.1 509.3,837.8 509.4,840.6 509.5,840.2 509.6,838.0 509.6,839.6 509.7,834.9 509.8,836.8 509.9,828.5 510.0,826.4 510.1,828.9 510.1,830.9 510.2,835.4 510.3,837.4 510.4,837.9 510.5,837.3 510.5,842.0 510.6,841.7 510.7,842.1 510.8,838.8 510.9,839.1 511.0,841.6 511.0,839.5 511.1,837.0 511.2,841.2 511.3,838.5 511.4,838.9 511.5,833.6 511.5,835.4 511.6,834.5 511.7,830.6 511.8,826.6 511.9,818.4 512.0,800.7 512.0,784.8 512.1,775.0 512.2,782.4 512.3,799.5 512.4,816.1 512.5,822.9 512.5,831.3 512.6,832.4 512.7,836.9 512.8,835.1 512.9,837.2 512.9,839.2 513.0,841.3 513.1,840.8 513.2,838.6 513.3,837.5 513.4,839.0 513.4,841.0 513.5,837.8 513.6,840.4 513.7,840.1 513.8,844.4 513.9,840.6 513.9,841.7 514.0,843.9 514.1,838.5 514.2,837.8 514.3,839.6 514.4,842.8 514.4,843.2 514.5,839.5 514.6,839.5 514.7,840.3 514.8,842.2 514.9,838.5 514.9,836.7 515.0,835.7 515.1,830.1 515.2,831.1 515.3,832.2 515.3,833.2 515.4,835.8 515.5,843.1 515.6,839.7 515.7,842.6 515.8,843.9 515.8,843.4 515.9,844.8 516.0,839.0 516.1,839.7 516.2,844.2 516.3,845.6 516.3,840.4 516.4,842.6 516.5,840.3 516.6,840.3 516.7,841.9 516.8,843.3 516.8,841.9 516.9,838.1 517.0,839.4 517.1,840.1 517.2,837.9 517.3,837.1 517.3,839.9 517.4,837.7 517.5,838.2 517.6,839.3 517.7,833.6 517.7,831.7 517.8,824.4 517.9,817.3 518.0,817.2 518.0,816.1 518.2,818.8 518.2,825.3 518.3,828.9 518.4,831.6 518.5,838.7 518.6,838.6 518.7,840.8 518.7,838.6 518.8,840.4 518.9,842.5 519.0,841.7 519.1,843.3 519.2,841.4 519.2,843.0 519.3,846.6 519.4,844.7 519.5,843.5 519.6,846.2 519.7,841.0 519.7,844.0 519.8,846.0 519.9,840.7 520.0,840.4 520.1,841.9 520.1,843.6 520.2,842.5 520.3,843.1 520.4,846.3 520.5,845.1 520.6,840.5 520.6,844.3 520.7,844.7 520.8,843.4 520.9,843.8 521.0,844.1 521.1,844.0 521.1,843.1 521.2,840.0 521.3,839.3 521.4,835.1 521.5,839.6 521.6,838.9 521.6,845.6 521.7,842.9 521.8,843.2 521.9,842.7 522.0,844.9 522.1,842.3 522.1,842.7 522.2,840.7 522.3,842.4 522.4,843.5 522.5,842.1 522.5,840.1 522.6,844.4 522.7,843.3 522.8,841.7 522.9,841.7 523.0,840.6 523.0,843.3 523.1,843.1 523.2,842.0 523.3,847.6 523.4,842.6 523.5,843.4 523.5,845.0 523.6,846.5 523.7,843.1 523.8,845.9 523.9,847.0 524.0,843.4 524.0,846.3 524.1,846.7 524.2,844.3 524.3,844.5 524.4,843.0 524.4,843.9 524.5,846.5 524.6,846.1 524.7,846.1 524.8,845.0 524.9,844.0 524.9,843.5 525.0,840.3 525.1,843.4 525.2,837.7 525.3,834.4 525.4,834.1 525.4,833.9 525.5,838.1 525.6,839.0 525.7,840.2 525.8,843.4 525.9,844.0 525.9,842.2 526.0,844.4 526.1,843.6 526.2,842.1 526.3,845.9 526.4,842.3 526.4,845.0 526.5,846.1 526.6,842.6 526.7,845.5 526.8,842.0 526.8,845.9 526.9,847.7 527.0,842.8 527.1,843.5 527.2,843.5 527.3,844.7 527.3,847.6 527.4,842.5 527.5,848.3 527.6,847.2 527.7,847.2 527.8,846.6 527.8,843.1 527.9,842.6 528.0,843.4 528.1,847.8 528.2,843.7 528.3,845.7 528.3,844.0 528.4,846.4 528.5,846.9 528.6,845.9 528.7,844.9 528.8,845.0 528.8,846.5 528.9,842.4 529.0,842.2 529.1,843.1 529.2,844.2 529.2,842.2 529.3,846.2 529.4,845.0 529.5,844.5 529.6,847.1 529.7,845.6 529.7,843.6 529.8,843.6 529.9,848.4 530.0,846.8 530.1,845.9 530.2,847.2 530.2,843.3 530.3,846.6 530.4,846.5 530.5,844.2 530.6,846.0 530.7,843.2 530.7,843.3 530.8,846.1 530.9,843.2 531.0,846.9 531.1,844.5 531.2,844.5 531.2,840.9 531.3,839.6 531.4,840.5 531.5,843.7 531.6,842.3 531.6,842.6 531.7,847.9 531.8,845.2 531.9,843.0 532.0,846.0 532.1,847.3 532.1,848.5 532.2,846.8 532.3,844.4 532.4,847.5 532.5,848.4 532.6,844.7 532.6,848.2 532.7,848.5 532.8,846.1 532.9,845.7 533.0,846.5 533.1,843.8 533.1,846.1 533.2,846.1 533.3,848.7 533.4,846.4 533.5,849.1 533.6,846.1 533.6,845.4 533.7,847.5 533.8,845.0 533.9,846.3 534.0,846.3 534.0,847.0 534.1,848.9 534.2,847.3 534.3,847.8 534.4,848.1 534.5,844.0 534.5,842.4 534.6,844.7 534.7,846.2 534.8,847.0 534.9,843.9 535.0,846.2 535.0,844.7 535.1,847.8 535.2,844.4 535.3,848.2 535.4,845.4 535.5,848.5 535.5,845.4 535.6,845.5 535.7,846.9 535.8,845.5 535.9,845.0 536.0,844.4 536.0,845.6 536.1,846.0 536.2,844.5 536.3,845.8 536.4,846.4 536.4,844.4 536.5,845.9 536.6,842.9 536.7,841.2 536.7,843.1 536.9,844.2 536.9,844.2 537.0,848.2 537.1,844.1 537.2,846.5 537.3,846.0 537.4,847.6 537.4,844.7 537.5,843.8 537.6,846.4 537.7,846.1 537.8,846.3 537.9,846.3 537.9,845.7 538.0,844.4 538.1,846.0 538.2,847.9 538.3,846.8 538.4,847.5 538.4,843.5 538.5,845.4 538.6,845.7 538.7,846.4 538.8,848.0 538.8,847.6 538.9,848.3 539.0,844.7 539.1,846.4 539.2,845.7 539.3,848.8 539.3,848.6 539.4,845.8 539.5,846.8 539.6,844.3 539.7,847.4 539.8,848.0 539.8,848.2 539.9,847.8 540.0,844.6 540.1,848.2 540.2,849.0 540.3,846.6 540.3,849.0 540.4,844.7 540.5,848.5 540.6,844.9 540.7,848.6 540.7,844.3 540.8,844.9 540.9,846.1 541.0,848.0 541.1,846.6 541.2,844.7 541.2,845.8 541.3,844.8 541.4,844.7 541.5,845.4 541.6,849.5 541.7,846.4 541.7,848.3 541.8,845.3 541.9,846.9 542.0,847.8 542.1,845.8 542.2,846.9 542.2,845.9 542.3,845.9 542.4,846.7 542.5,847.4 542.6,849.0 542.7,846.4 542.7,845.3 542.8,845.5 542.9,849.1 543.0,848.4 543.1,847.3 543.1,845.6 543.2,848.6 543.3,845.4 543.4,848.4 543.5,849.0 543.6,844.6 543.6,845.7 543.7,847.5 543.8,844.4 543.9,845.7 544.0,847.2 544.1,844.0 544.1,846.4 544.2,847.9 544.3,844.6 544.4,846.9 544.5,846.1 544.6,844.3 544.6,843.5 544.7,841.3 544.8,842.7 544.9,846.2 545.0,843.7 545.1,846.3 545.1,848.1 545.2,847.8 545.3,846.0 545.4,844.9 545.5,848.0 545.5,845.6 545.6,845.2 545.7,844.4 545.8,846.1 545.9,844.9 546.0,849.0 546.0,844.6 546.1,848.4 546.2,847.4 546.3,845.5 546.4,847.5 546.5,846.4 546.5,849.0 546.6,845.0 546.7,846.0 546.8,848.9 546.9,849.5 547.0,845.6 547.0,844.3 547.1,845.7 547.2,847.4 547.3,845.3 547.4,844.6 547.5,845.9 547.5,846.3 547.6,849.1 547.7,848.6 547.8,846.7 547.9,846.1 547.9,844.4 548.0,844.9 548.1,847.4 548.2,848.5 548.3,844.8 548.4,847.5 548.4,848.7 548.5,846.5 548.6,847.1 548.7,847.7 548.8,845.8 548.9,848.9 548.9,849.3 549.0,849.4 549.1,847.2 549.2,848.5 549.3,846.7 549.4,849.6 549.4,849.4 549.5,846.3 549.6,848.6 549.7,848.5 549.8,849.0 549.9,850.1 549.9,846.5 550.0,846.2 550.1,845.8 550.2,845.6 550.3,845.9 550.3,849.3 550.4,848.1 550.5,847.4 550.6,845.0 550.7,846.1 550.8,848.8 550.8,845.7 550.9,848.7 551.0,846.5 551.1,848.3 551.2,846.1 551.3,846.5 551.3,848.9 551.4,849.2 551.5,845.3 551.6,846.8 551.7,844.1 551.8,846.1 551.8,844.6 551.9,848.2 552.0,846.4 552.1,848.1 552.2,846.8 552.3,849.2 552.3,849.1 552.4,849.5 552.5,847.0 552.6,846.8 552.7,848.7 552.7,846.2 552.8,847.2 552.9,849.4 553.0,847.1 553.1,847.8 553.2,844.4 553.2,848.4 553.3,845.4 553.4,844.6 553.5,845.8 553.6,844.1 553.7,844.4 553.7,845.5 553.8,848.3 553.9,843.7 554.0,845.5 554.1,846.2 554.2,845.6 554.2,843.6 554.3,843.2 554.4,842.7 554.5,843.6 554.6,840.8 554.6,845.6 554.7,846.7 554.8,845.8 554.9,844.5 555.0,845.3 555.1,848.6 555.1,846.7 555.2,846.9 555.3,846.8 555.4,848.7 555.5,846.7 555.6,848.4 555.6,847.2 555.7,846.0 555.8,845.4 555.9,845.2 556.0,848.0 556.1,849.1 556.1,848.3 556.2,850.0 556.3,848.3 556.4,845.4 556.5,845.5 556.6,845.7 556.6,844.7 556.7,846.3 556.8,844.4 556.9,847.6 557.0,845.8 557.0,846.5 557.1,846.4 557.2,848.5 557.3,846.7 557.4,848.8 557.5,846.3 557.5,847.2 557.6,846.0 557.7,848.5 557.8,847.4 557.9,846.2 558.0,846.3 558.0,846.3 558.1,847.6 558.2,847.0 558.3,848.0 558.4,848.3 558.5,846.4 558.5,847.1 558.6,849.2 558.7,844.3 558.8,845.9 558.9,847.1 559.0,848.3 559.0,847.7 559.1,846.2 559.2,847.9 559.3,844.5 559.4,845.4 559.4,845.5 559.5,849.6 559.6,844.6 559.7,845.2 559.8,848.2 559.9,845.7 559.9,848.3 560.0,848.1 560.1,848.7 560.2,845.0 560.3,847.0 560.4,845.8 560.4,845.3 560.5,847.3 560.6,845.8 560.7,846.1 560.8,846.9 560.9,849.3 560.9,849.9 561.0,848.3 561.1,845.8 561.2,847.6 561.3,848.2 561.4,845.4 561.4,849.4 561.5,849.1 561.6,843.8 561.7,846.8 561.8,845.9 561.9,845.2 561.9,846.3 562.0,843.2 562.1,844.5 562.2,846.1 562.3,847.9 562.3,847.8 562.4,845.6 562.5,846.6 562.6,849.0 562.7,848.1 562.8,847.3 562.8,848.7 562.9,846.5 563.0,844.0 563.1,845.7 563.2,845.1 563.3,844.5 563.3,844.8 563.4,844.4 563.5,848.6 563.6,847.3 563.7,849.0 563.8,845.8 563.8,847.2 563.9,848.3 564.0,849.6 564.1,849.7 564.2,845.9 564.2,848.5 564.3,847.8 564.4,845.1 564.5,848.1 564.6,849.0 564.7,848.7 564.7,845.6 564.8,844.5 564.9,845.9 565.0,849.2 565.1,845.1 565.2,849.3 565.2,846.8 565.3,848.0 565.4,844.6 565.5,849.1 565.6,848.6 565.7,847.6 565.7,848.3 565.8,848.6 565.9,846.2 566.0,847.0 566.1,844.7 566.2,844.3 566.2,845.4 566.3,846.2 566.4,845.7 566.5,847.7 566.6,848.5 566.6,844.8 566.7,846.4 566.8,849.5 566.9,844.7 567.0,845.4 567.1,849.4 567.1,848.2 567.2,847.7 567.3,844.5 567.4,849.1 567.5,849.6 567.6,846.5 567.6,847.8 567.7,849.3 567.8,848.8 567.9,849.7 568.0,848.5 568.1,849.8 568.1,848.6 568.2,847.5 568.3,848.2 568.4,848.0 568.5,844.9 568.6,845.8 568.6,847.6 568.7,848.9 568.8,849.3 568.9,849.7 569.0,849.0 569.0,849.8 569.1,845.1 569.2,848.2 569.3,845.0 569.4,849.4 569.5,845.7 569.5,849.4 569.6,848.3 569.7,847.3 569.8,848.3 569.9,846.4 570.0,848.5 570.0,845.8 570.1,842.7 570.2,841.1 570.3,844.4 570.4,841.8 570.5,838.4 570.5,838.1 570.6,841.2 570.7,839.6 570.8,842.9 570.9,844.8 570.9,844.7 571.0,844.0 571.1,848.1 571.2,846.9 571.3,847.0 571.4,849.1 571.4,848.4 571.5,844.3 571.6,848.3 571.7,844.5 571.8,845.6 571.9,847.4 571.9,844.7 572.0,845.2 572.1,846.5 572.2,847.6 572.3,846.7 572.4,847.4 572.4,847.0 572.5,844.4 572.6,844.2 572.7,842.6 572.8,843.0 572.9,839.6 572.9,843.1 573.0,842.4 573.1,843.2 573.2,846.7 573.3,846.0 573.3,848.2 573.4,849.7 573.5,847.6 573.6,847.9 573.7,846.0 573.8,846.5 573.8,845.3 573.9,848.8 574.0,847.3 574.1,844.8 574.2,849.4 574.3,845.6 574.3,848.7 574.4,847.9 574.5,849.0 574.6,846.1 574.7,848.1 574.8,849.8 574.8,847.7 574.9,848.9 575.0,846.5 575.1,846.8 575.2,846.9 575.3,848.2 575.3,847.7 575.4,847.5 575.5,845.6 575.6,847.9 575.7,844.7 575.7,847.0 575.8,846.7 575.9,845.7 576.0,849.3 576.1,847.2 576.2,848.5 576.2,847.8 576.3,846.5 576.4,849.6 576.5,845.4 576.6,847.9 576.7,846.0 576.7,848.7 576.8,849.0 576.9,847.3 577.0,849.0 577.1,847.0 577.2,845.1 577.2,845.2 577.3,849.9 577.4,848.2 577.5,847.4 577.6,846.6 577.7,846.0 577.7,849.6 577.8,847.9 577.9,849.5 578.0,847.7 578.1,845.9 578.1,850.4 578.2,850.2 578.3,848.6 578.4,848.3 578.5,848.8 578.6,845.6 578.6,847.6 578.7,847.4 578.8,847.3 578.9,847.2 579.0,849.4 579.1,847.0 579.1,849.5 579.2,844.8 579.3,847.5 579.4,847.5 579.5,847.7 579.6,849.6 579.6,848.3 579.7,846.1 579.8,850.1 579.9,847.6 580.0,846.3 580.1,847.8 580.1,847.8 580.2,849.9 580.3,847.9 580.4,845.8 580.5,845.4 580.5,847.1 580.6,845.6 580.7,845.9 580.8,845.9 580.9,848.6 581.0,847.2 581.1,845.6 581.1,846.6 581.2,846.0 581.3,847.8 581.4,847.3 581.5,850.7 581.5,846.2 581.6,849.4 581.7,846.3 581.8,846.1 581.9,848.5 582.0,848.5 582.0,846.8 582.1,848.5 582.2,848.2 582.3,848.7 582.4,847.7 582.5,849.9 582.5,850.2 582.6,847.6 582.7,849.2 582.8,846.6 582.9,846.7 582.9,849.9 583.0,850.5 583.1,847.3 583.2,851.3 583.3,847.5 583.4,848.0 583.4,851.1 583.5,847.5 583.6,850.7 583.7,850.0 583.8,847.6 583.9,847.2 583.9,848.0 584.0,849.5 584.1,846.5 584.2,847.0 584.3,848.1 584.4,846.3 584.4,850.4 584.5,847.3 584.6,848.0 584.7,846.3 584.8,849.5 584.8,846.8 584.9,846.6 585.0,846.1 585.1,848.0 585.2,848.1 585.3,848.7 585.3,850.6 585.4,848.5 585.5,846.4 585.6,847.9 585.7,846.6 585.8,847.1 585.8,850.3 585.9,849.4 586.0,848.1 586.1,847.5 586.2,847.3 586.3,848.9 586.3,845.7 586.4,850.7 586.5,849.7 586.6,846.2 586.7,848.1 586.8,849.1 586.8,850.5 586.9,848.0 587.0,848.3 587.1,850.0 587.2,849.7 587.2,845.8 587.3,845.6 587.4,848.3 587.5,848.6 587.6,847.6 587.7,845.8 587.7,847.4 587.8,846.2 587.9,847.2 588.0,845.5 588.1,847.1 588.2,846.9 588.2,847.3 588.3,845.1 588.4,843.2 588.5,842.8 588.6,845.4 588.7,848.9 588.7,846.7 588.8,849.4 588.9,845.1 589.0,848.0 589.1,845.9 589.2,851.1 589.2,848.1 589.3,848.6 589.4,848.5 589.5,848.3 589.6,849.0 589.6,848.6 589.7,850.5 589.8,847.9 589.9,847.1 590.0,850.6 590.1,850.1 590.1,849.2 590.2,847.4 590.3,849.3 590.4,847.2 590.5,848.5 590.6,849.6 590.6,847.0 590.7,847.4 590.8,848.6 590.9,845.7 591.0,847.7 591.1,849.6 591.1,848.3 591.2,846.8 591.3,849.8 591.4,846.7 591.5,846.7 591.6,848.3 591.6,847.2 591.7,850.3 591.8,847.5 591.9,848.8 592.0,847.7 592.0,847.9 592.1,846.2 592.2,846.9 592.3,846.2 592.4,850.1 592.5,845.8 592.5,848.0 592.6,846.8 592.7,847.8 592.8,848.0 592.9,846.5 593.0,849.2 593.0,848.5 593.1,846.7 593.2,850.0 593.3,849.7 593.4,850.1 593.5,851.1 593.5,847.3 593.6,848.0 593.7,851.2 593.8,850.9 593.9,848.4 594.0,848.0 594.0,849.3 594.1,848.4 594.2,848.6 594.3,849.3 594.4,848.5 594.4,849.2 594.5,849.9 594.6,849.9 594.7,849.2 594.8,846.9 594.9,847.3 594.9,848.5 595.0,846.3 595.1,849.2 595.2,847.4 595.3,849.5 595.4,849.4 595.4,845.7 595.5,847.1 595.6,848.7 595.7,849.9 595.8,850.8 595.9,847.4 595.9,847.6 596.0,848.3 596.1,847.7 596.2,846.5 596.3,849.5 596.4,847.4 596.4,846.8 596.5,848.1 596.6,849.4 596.7,848.7 596.8,849.8 596.8,846.0 596.9,848.8 597.0,847.8 597.1,845.5 597.2,844.7 597.3,844.0 597.3,844.6 597.4,841.2 597.5,842.5 597.6,839.1 597.7,838.8 597.8,842.0 597.8,845.2 597.9,844.9 598.0,846.3 598.1,848.8 598.2,845.3 598.3,847.1 598.3,849.1 598.4,850.0 598.5,846.8 598.6,846.9 598.7,847.7 598.8,850.0 598.8,846.7 598.9,848.8 599.0,846.0 599.1,850.8 599.2,847.4 599.2,851.1 599.3,847.7 599.4,848.1 599.5,847.6 599.6,848.1 599.7,848.6 599.7,849.0 599.8,850.5 599.9,847.7 600.0,847.8 600.1,849.8 600.2,848.5 600.2,849.2 600.3,845.3 600.4,848.9 600.5,846.9 600.6,849.4 600.7,848.1 600.7,847.9 600.8,846.9 600.9,847.4 601.0,849.7 601.1,846.2 601.1,847.0 601.2,846.6 601.3,848.7 601.4,847.7 601.5,848.8 601.6,846.3 601.6,848.6 601.7,849.6 601.8,848.2 601.9,847.9 602.0,847.2 602.1,850.3 602.1,847.4 602.2,847.5 602.3,849.9 602.4,850.5 602.5,848.6 602.6,848.7 602.6,848.5 602.7,846.8 602.8,847.6 602.9,847.2 603.0,847.6 603.1,846.1 603.1,848.3 603.2,850.0 603.3,846.8 603.4,848.5 603.5,850.0 603.5,850.1 603.6,847.3 603.7,850.7 603.8,850.1 603.9,850.4 604.0,850.7 604.0,847.4 604.1,846.7 604.2,847.0 604.3,851.5 604.4,848.7 604.5,848.6 604.5,847.4 604.6,849.7 604.7,849.3 604.8,850.1 604.9,850.6 605.0,851.0 605.0,847.2 605.1,849.5 605.2,850.1 605.3,847.7 605.4,851.4 605.5,848.4 605.5,849.9 605.6,850.6 605.7,850.1 605.8,850.3 605.9,846.4 605.9,848.3 606.0,846.8 606.1,846.8 606.2,848.0 606.3,850.2 606.4,849.0 606.4,850.4 606.5,851.0 606.6,850.8 606.7,848.3 606.8,846.0 606.9,846.5 606.9,847.4 607.0,848.1 607.1,847.5 607.2,846.1 607.3,844.9 607.4,847.4 607.4,844.2 607.5,845.5 607.6,848.0 607.7,847.8 607.8,844.2 607.9,845.3 607.9,846.1 608.0,842.7 608.1,844.6 608.2,842.4 608.3,844.1 608.3,840.6 608.4,841.4 608.5,841.6 608.6,842.7 608.7,840.1 608.8,842.9 608.8,844.4 608.9,843.8 609.0,840.5 609.1,843.8 609.2,845.9 609.3,841.5 609.3,844.7 609.4,844.9 609.5,846.9 609.6,844.0 609.7,846.3 609.8,846.1 609.8,845.8 609.9,847.5 610.0,849.1 610.1,845.3 610.2,847.9 610.3,846.7 610.3,846.7 610.4,850.1 610.5,848.9 610.6,850.7 610.7,848.1 610.7,846.5 610.8,845.4 610.9,845.8 611.0,849.1 611.1,847.1 611.2,846.9 611.2,847.2 611.3,850.7 611.4,847.2 611.5,847.3 611.6,850.2 611.7,847.9 611.7,849.0 611.8,852.5 611.9,848.1 612.0,848.5 612.1,850.3 612.2,850.7 612.2,850.0 612.3,848.4 612.4,849.7 612.5,849.3 612.6,846.5 612.7,850.3 612.7,846.6 612.8,851.6 612.9,850.3 613.0,851.6 613.1,850.5 613.1,849.8 613.2,849.7 613.3,849.2 613.4,850.1 613.5,847.0 613.6,850.8 613.6,850.7 613.7,851.8 613.8,852.8 613.9,850.6 614.0,851.3 614.1,853.6 614.1,850.6 614.2,848.7 614.3,852.8 614.4,850.2 614.5,848.1 614.6,852.7 614.6,851.6 614.7,851.1" fill="none" stroke="#e9117f" stroke-width="1.0" stroke-linejoin="round"/>
<line x1="408.3" y1="651.8" x2="408.3" y2="865.0" stroke="#888" stroke-width="1.7"/>
<line x1="403.7" y1="864.4" x2="674.6" y2="864.4" stroke="#333" stroke-width="1.2"/>
<line x1="403.7" y1="864.4" x2="408.3" y2="864.4" stroke="#333" stroke-width="1"/>
<text x="401.4" y="868.7" font-size="14.4" fill="#e9117f" text-anchor="end" font-weight="bold" stroke="#e9117f" stroke-width="0.3">0</text>
<line x1="405.8" y1="853.8" x2="408.3" y2="853.8" stroke="#333" stroke-width="1"/>
<line x1="403.7" y1="843.1" x2="408.3" y2="843.1" stroke="#333" stroke-width="1"/>
<text x="401.4" y="847.5" font-size="14.4" fill="#e9117f" text-anchor="end" font-weight="bold" stroke="#e9117f" stroke-width="0.3">250</text>
<line x1="405.8" y1="832.5" x2="408.3" y2="832.5" stroke="#333" stroke-width="1"/>
<line x1="403.7" y1="821.9" x2="408.3" y2="821.9" stroke="#333" stroke-width="1"/>
<text x="401.4" y="826.2" font-size="14.4" fill="#e9117f" text-anchor="end" font-weight="bold" stroke="#e9117f" stroke-width="0.3">500</text>
<line x1="405.8" y1="811.3" x2="408.3" y2="811.3" stroke="#333" stroke-width="1"/>
<line x1="403.7" y1="800.6" x2="408.3" y2="800.6" stroke="#333" stroke-width="1"/>
<text x="401.4" y="805.0" font-size="14.4" fill="#e9117f" text-anchor="end" font-weight="bold" stroke="#e9117f" stroke-width="0.3">750</text>
<line x1="405.8" y1="790.0" x2="408.3" y2="790.0" stroke="#333" stroke-width="1"/>
<line x1="403.7" y1="779.4" x2="408.3" y2="779.4" stroke="#333" stroke-width="1"/>
<text x="401.4" y="783.7" font-size="14.4" fill="#e9117f" text-anchor="end" font-weight="bold" stroke="#e9117f" stroke-width="0.3">1000</text>
<line x1="405.8" y1="768.8" x2="408.3" y2="768.8" stroke="#333" stroke-width="1"/>
<line x1="403.7" y1="758.1" x2="408.3" y2="758.1" stroke="#333" stroke-width="1"/>
<text x="401.4" y="762.5" font-size="14.4" fill="#e9117f" text-anchor="end" font-weight="bold" stroke="#e9117f" stroke-width="0.3">1250</text>
<line x1="405.8" y1="747.5" x2="408.3" y2="747.5" stroke="#333" stroke-width="1"/>
<line x1="403.7" y1="736.9" x2="408.3" y2="736.9" stroke="#333" stroke-width="1"/>
<text x="401.4" y="741.2" font-size="14.4" fill="#e9117f" text-anchor="end" font-weight="bold" stroke="#e9117f" stroke-width="0.3">1500</text>
<line x1="405.8" y1="726.3" x2="408.3" y2="726.3" stroke="#333" stroke-width="1"/>
<line x1="403.7" y1="715.6" x2="408.3" y2="715.6" stroke="#333" stroke-width="1"/>
<text x="401.4" y="720.0" font-size="14.4" fill="#e9117f" text-anchor="end" font-weight="bold" stroke="#e9117f" stroke-width="0.3">1750</text>
<line x1="405.8" y1="705.0" x2="408.3" y2="705.0" stroke="#333" stroke-width="1"/>
<line x1="403.7" y1="694.4" x2="408.3" y2="694.4" stroke="#333" stroke-width="1"/>
<text x="401.4" y="698.7" font-size="14.4" fill="#e9117f" text-anchor="end" font-weight="bold" stroke="#e9117f" stroke-width="0.3">2000</text>
<line x1="405.8" y1="683.8" x2="408.3" y2="683.8" stroke="#333" stroke-width="1"/>
<line x1="403.7" y1="673.1" x2="408.3" y2="673.1" stroke="#333" stroke-width="1"/>
<text x="401.4" y="677.5" font-size="14.4" fill="#e9117f" text-anchor="end" font-weight="bold" stroke="#e9117f" stroke-width="0.3">2250</text>
<line x1="405.8" y1="662.5" x2="408.3" y2="662.5" stroke="#333" stroke-width="1"/>
<line x1="403.7" y1="651.9" x2="408.3" y2="651.9" stroke="#333" stroke-width="1"/>
<text x="401.4" y="656.2" font-size="14.4" fill="#e9117f" text-anchor="end" font-weight="bold" stroke="#e9117f" stroke-width="0.3">2500</text>
<line x1="408.2" y1="864.4" x2="408.2" y2="868.6" stroke="#333" stroke-width="1"/>
<text x="408.2" y="882.6" font-size="14.4" fill="#e9117f" text-anchor="middle" font-weight="bold" stroke="#e9117f" stroke-width="0.3">10</text>
<line x1="423.0" y1="864.4" x2="423.0" y2="866.7" stroke="#333" stroke-width="1"/>
<line x1="437.8" y1="864.4" x2="437.8" y2="868.6" stroke="#333" stroke-width="1"/>
<text x="437.8" y="882.6" font-size="14.4" fill="#e9117f" text-anchor="middle" font-weight="bold" stroke="#e9117f" stroke-width="0.3">20</text>
<line x1="452.5" y1="864.4" x2="452.5" y2="866.7" stroke="#333" stroke-width="1"/>
<line x1="467.3" y1="864.4" x2="467.3" y2="868.6" stroke="#333" stroke-width="1"/>
<text x="467.3" y="882.6" font-size="14.4" fill="#e9117f" text-anchor="middle" font-weight="bold" stroke="#e9117f" stroke-width="0.3">30</text>
<line x1="482.1" y1="864.4" x2="482.1" y2="866.7" stroke="#333" stroke-width="1"/>
<line x1="496.9" y1="864.4" x2="496.9" y2="868.6" stroke="#333" stroke-width="1"/>
<text x="496.9" y="882.6" font-size="14.4" fill="#e9117f" text-anchor="middle" font-weight="bold" stroke="#e9117f" stroke-width="0.3">40</text>
<line x1="511.6" y1="864.4" x2="511.6" y2="866.7" stroke="#333" stroke-width="1"/>
<line x1="526.4" y1="864.4" x2="526.4" y2="868.6" stroke="#333" stroke-width="1"/>
<text x="526.4" y="882.6" font-size="14.4" fill="#e9117f" text-anchor="middle" font-weight="bold" stroke="#e9117f" stroke-width="0.3">50</text>
<line x1="541.2" y1="864.4" x2="541.2" y2="866.7" stroke="#333" stroke-width="1"/>
<line x1="556.0" y1="864.4" x2="556.0" y2="868.6" stroke="#333" stroke-width="1"/>
<text x="556.0" y="882.6" font-size="14.4" fill="#e9117f" text-anchor="middle" font-weight="bold" stroke="#e9117f" stroke-width="0.3">60</text>
<line x1="570.7" y1="864.4" x2="570.7" y2="866.7" stroke="#333" stroke-width="1"/>
<line x1="585.5" y1="864.4" x2="585.5" y2="868.6" stroke="#333" stroke-width="1"/>
<text x="585.5" y="882.6" font-size="14.4" fill="#e9117f" text-anchor="middle" font-weight="bold" stroke="#e9117f" stroke-width="0.3">70</text>
<line x1="600.3" y1="864.4" x2="600.3" y2="866.7" stroke="#333" stroke-width="1"/>
<line x1="615.0" y1="864.4" x2="615.0" y2="868.6" stroke="#333" stroke-width="1"/>
<text x="615.0" y="882.6" font-size="14.4" fill="#e9117f" text-anchor="middle" font-weight="bold" stroke="#e9117f" stroke-width="0.3">80</text>
<line x1="629.8" y1="864.4" x2="629.8" y2="866.7" stroke="#333" stroke-width="1"/>
<line x1="644.6" y1="864.4" x2="644.6" y2="868.6" stroke="#333" stroke-width="1"/>
<text x="644.6" y="882.6" font-size="14.4" fill="#e9117f" text-anchor="middle" font-weight="bold" stroke="#e9117f" stroke-width="0.3">90</text>
<line x1="659.4" y1="864.4" x2="659.4" y2="866.7" stroke="#333" stroke-width="1"/>
<line x1="674.1" y1="864.4" x2="674.1" y2="868.6" stroke="#333" stroke-width="1"/>
<text x="674.1" y="882.6" font-size="14.4" fill="#e9117f" text-anchor="middle" font-weight="bold" stroke="#e9117f" stroke-width="0.3">100</text>
<text transform="translate(363.1,773.6) rotate(-90)" font-size="19.3" fill="#e9117f" stroke="#e9117f" stroke-width="0.3" font-weight="bold" text-anchor="middle" textLength="124.8" lengthAdjust="spacingAndGlyphs">Intensity Counts</text>
<text x="521.5" y="899.2" font-size="13.8" fill="#e9117f" text-anchor="middle" font-weight="bold" stroke="#e9117f" stroke-width="0.3" textLength="55.4" lengthAdjust="spacingAndGlyphs">Angle, 2<tspan font-weight="normal">θ</tspan></text>
<text x="464.3" y="929.5" font-size="18" fill="#1a1a1a" textLength="99.8" lengthAdjust="spacingAndGlyphs">(f) <tspan fill="#e0201b">Sample S5</tspan></text>
<text x="425.4" y="796.3" font-size="14" fill="#111" stroke="#111" stroke-width="0.3" font-weight="bold">B<tspan font-size="9.5" dy="3.8">4</tspan><tspan dy="-3.8">C</tspan></text>
<text x="449.3" y="786.9" font-size="14" fill="#111" text-anchor="start" font-weight="bold" stroke="#111" stroke-width="0.3">Gr</text>
<text x="461.1" y="807.3" font-size="14" fill="#111" stroke="#111" stroke-width="0.3" font-weight="bold">B<tspan font-size="9.5" dy="3.8">4</tspan><tspan dy="-3.8">C</tspan></text>
<text x="494.3" y="804.4" font-size="14" fill="#111" text-anchor="start" font-weight="bold" stroke="#111" stroke-width="0.3">Cu</text>
<text x="510.8" y="673.7" font-size="14" fill="#111" text-anchor="start" font-weight="bold" stroke="#111" stroke-width="0.3">Al</text>
<text x="528.0" y="774.8" font-size="14" fill="#111" text-anchor="start" font-weight="bold" stroke="#111" stroke-width="0.3">Al</text>
</svg>
</body></html>
